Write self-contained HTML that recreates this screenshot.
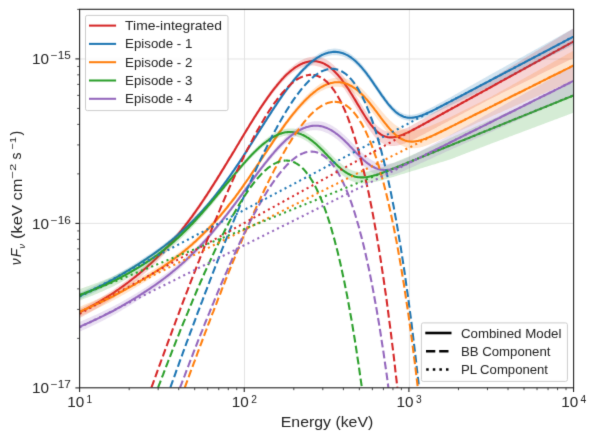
<!DOCTYPE html><html><head><meta charset="utf-8"><style>html,body{margin:0;padding:0;background:#fff}svg{display:block}text{font-family:"Liberation Sans",sans-serif;fill:#222}</style></head><body>
<svg width="595" height="440" viewBox="0 0 595 440">
<defs><filter id="soft" filterUnits="userSpaceOnUse" x="0" y="0" width="595" height="440" color-interpolation-filters="sRGB"><feConvolveMatrix order="3" kernelMatrix="0.01134 0.08382 0.01134 0.08382 0.61935 0.08382 0.01134 0.08382 0.01134" edgeMode="duplicate"/></filter><clipPath id="ax"><rect x="79.6" y="9.3" width="494.0" height="378.5"/></clipPath></defs>
<rect width="595" height="440" fill="#fff"/>
<g filter="url(#soft)">
<g stroke="#e3e3e3" stroke-width="1.0" fill="none">
<line x1="244.50" y1="9.3" x2="244.50" y2="387.8"/>
<line x1="409.40" y1="9.3" x2="409.40" y2="387.8"/>
<line x1="79.6" y1="223.40" x2="573.6" y2="223.40"/>
<line x1="79.6" y1="59.00" x2="573.6" y2="59.00"/>
</g>
<g clip-path="url(#ax)" fill="none" stroke-linejoin="round">
<path d="M79.6,309.1 80.6,308.6 81.7,308.0 82.7,307.5 83.7,306.9 84.7,306.4 85.8,305.8 86.8,305.3 87.8,304.7 88.9,304.2 89.9,303.6 90.9,303.1 91.9,302.5 93.0,302.0 94.0,301.4 95.0,300.8 96.1,300.3 97.1,299.7 98.1,299.1 99.2,298.5 100.2,297.9 101.2,297.3 102.2,296.7 103.3,296.0 104.3,295.4 105.3,294.8 106.4,294.2 107.4,293.6 108.4,292.9 109.4,292.3 110.5,291.7 111.5,291.0 112.5,290.4 113.6,289.7 114.6,289.0 115.6,288.3 116.6,287.6 117.7,286.8 118.7,286.1 119.7,285.4 120.8,284.7 121.8,283.9 122.8,283.2 123.8,282.4 124.9,281.7 125.9,280.9 126.9,280.2 128.0,279.4 129.0,278.6 130.0,277.8 131.1,277.1 132.1,276.3 133.1,275.5 134.1,274.7 135.2,273.8 136.2,273.0 137.2,272.2 138.3,271.3 139.3,270.5 140.3,269.7 141.3,268.8 142.4,267.9 143.4,267.0 144.4,266.2 145.5,265.3 146.5,264.4 147.5,263.5 148.5,262.5 149.6,261.6 150.6,260.7 151.6,259.7 152.7,258.8 153.7,257.8 154.7,256.8 155.8,255.8 156.8,254.8 157.8,253.8 158.8,252.8 159.9,251.8 160.9,250.7 161.9,249.7 163.0,248.6 164.0,247.6 165.0,246.5 166.0,245.4 167.1,244.3 168.1,243.2 169.1,242.0 170.2,240.9 171.2,239.7 172.2,238.6 173.2,237.4 174.3,236.2 175.3,235.0 176.3,233.8 177.4,232.6 178.4,231.3 179.4,230.1 180.4,228.8 181.5,227.6 182.5,226.3 183.5,225.0 184.6,223.6 185.6,222.3 186.6,221.0 187.7,219.6 188.7,218.3 189.7,216.9 190.7,215.5 191.8,214.1 192.8,212.7 193.8,211.3 194.9,209.8 195.9,208.4 196.9,206.9 197.9,205.5 199.0,204.0 200.0,202.5 201.0,201.0 202.1,199.5 203.1,198.0 204.1,196.4 205.1,194.9 206.2,193.3 207.2,191.8 208.2,190.2 209.3,188.6 210.3,187.0 211.3,185.4 212.3,183.8 213.4,182.2 214.4,180.6 215.4,179.0 216.5,177.3 217.5,175.7 218.5,174.1 219.6,172.4 220.6,170.7 221.6,169.1 222.6,167.4 223.7,165.7 224.7,164.1 225.7,162.4 226.8,160.7 227.8,159.0 228.8,157.4 229.8,155.7 230.9,154.0 231.9,152.3 232.9,150.6 234.0,148.9 235.0,147.2 236.0,145.5 237.0,143.8 238.1,142.1 239.1,140.4 240.1,138.7 241.2,136.9 242.2,135.2 243.2,133.5 244.2,131.8 245.3,130.1 246.3,128.4 247.3,126.7 248.4,124.9 249.4,123.2 250.4,121.6 251.5,119.9 252.5,118.2 253.5,116.5 254.5,114.9 255.6,113.2 256.6,111.6 257.6,110.0 258.7,108.3 259.7,106.8 260.7,105.2 261.7,103.6 262.8,102.0 263.8,100.5 264.8,99.0 265.9,97.5 266.9,96.0 267.9,94.5 268.9,93.0 270.0,91.6 271.0,90.2 272.0,88.8 273.1,87.4 274.1,86.1 275.1,84.7 276.2,83.4 277.2,82.1 278.2,80.8 279.2,79.6 280.3,78.4 281.3,77.2 282.3,76.0 283.4,74.9 284.4,73.8 285.4,72.7 286.4,71.7 287.5,70.7 288.5,69.7 289.5,68.8 290.6,67.9 291.6,67.0 292.6,66.2 293.6,65.4 294.7,64.6 295.7,63.8 296.7,63.1 297.8,62.4 298.8,61.7 299.8,61.1 300.8,60.5 301.9,60.0 302.9,59.5 303.9,59.0 305.0,58.6 306.0,58.2 307.0,57.8 308.1,57.5 309.1,57.2 310.1,57.0 311.1,56.9 312.2,56.7 313.2,56.6 314.2,56.6 315.3,56.6 316.3,56.6 317.3,56.7 318.3,56.9 319.4,57.1 320.4,57.3 321.4,57.6 322.5,58.0 323.5,58.3 324.5,58.8 325.5,59.3 326.6,59.8 327.6,60.4 328.6,61.1 329.7,61.9 330.7,62.6 331.7,63.5 332.7,64.3 333.8,65.3 334.8,66.2 335.8,67.3 336.9,68.3 337.9,69.5 338.9,70.6 340.0,71.8 341.0,73.1 342.0,74.4 343.0,75.8 344.1,77.1 345.1,78.6 346.1,80.0 347.2,81.5 348.2,83.1 349.2,84.6 350.2,86.2 351.3,87.8 352.3,89.5 353.3,91.1 354.4,92.8 355.4,94.5 356.4,96.2 357.4,97.9 358.5,99.6 359.5,101.3 360.5,102.9 361.6,104.6 362.6,106.3 363.6,107.9 364.7,109.5 365.7,111.1 366.7,112.6 367.7,114.1 368.8,115.6 369.8,117.0 370.8,118.4 371.9,119.8 372.9,121.1 373.9,122.3 374.9,123.4 376.0,124.5 377.0,125.5 378.0,126.4 379.1,127.3 380.1,128.1 381.1,128.8 382.1,129.4 383.2,129.9 384.2,130.4 385.2,130.8 386.3,131.2 387.3,131.4 388.3,131.6 389.3,131.8 390.4,131.9 391.4,131.9 392.4,131.9 393.5,131.8 394.5,131.7 395.5,131.6 396.6,131.4 397.6,131.1 398.6,130.9 399.6,130.6 400.7,130.3 401.7,129.9 402.7,129.5 403.8,129.1 404.8,128.7 405.8,128.3 406.8,127.9 407.9,127.4 408.9,127.0 409.9,126.4 411.0,125.8 412.0,125.3 413.0,124.7 414.0,124.1 415.1,123.6 416.1,123.0 417.1,122.4 418.2,121.8 419.2,121.2 420.2,120.6 421.2,120.0 422.3,119.4 423.3,118.8 424.3,118.2 425.4,117.6 426.4,117.0 427.4,116.4 428.5,115.8 429.5,115.2 430.5,114.6 431.5,113.9 432.6,113.3 433.6,112.7 434.6,112.1 435.7,111.5 436.7,110.9 437.7,110.3 438.7,109.7 439.8,109.1 440.8,108.5 441.8,107.9 442.9,107.3 443.9,106.6 444.9,106.0 445.9,105.4 447.0,104.8 448.0,104.2 449.0,103.6 450.1,103.0 451.1,102.4 452.1,101.8 453.1,101.2 454.2,100.6 455.2,100.0 456.2,99.3 457.3,98.7 458.3,98.1 459.3,97.5 460.4,96.9 461.4,96.3 462.4,95.7 463.4,95.1 464.5,94.5 465.5,93.9 466.5,93.3 467.6,92.7 468.6,92.0 469.6,91.4 470.6,90.8 471.7,90.2 472.7,89.6 473.7,89.0 474.8,88.4 475.8,87.8 476.8,87.2 477.8,86.6 478.9,86.0 479.9,85.4 480.9,84.7 482.0,84.1 483.0,83.5 484.0,82.9 485.1,82.3 486.1,81.7 487.1,81.1 488.1,80.5 489.2,79.9 490.2,79.3 491.2,78.7 492.3,78.0 493.3,77.4 494.3,76.8 495.3,76.1 496.4,75.5 497.4,74.9 498.4,74.3 499.5,73.6 500.5,73.0 501.5,72.4 502.5,71.7 503.6,71.1 504.6,70.5 505.6,69.9 506.7,69.2 507.7,68.6 508.7,68.0 509.7,67.3 510.8,66.7 511.8,66.1 512.8,65.4 513.9,64.8 514.9,64.2 515.9,63.6 517.0,62.9 518.0,62.3 519.0,61.7 520.0,61.0 521.1,60.4 522.1,59.8 523.1,59.2 524.2,58.5 525.2,57.9 526.2,57.3 527.2,56.6 528.3,56.0 529.3,55.4 530.3,54.8 531.4,54.1 532.4,53.5 533.4,52.9 534.4,52.2 535.5,51.6 536.5,51.0 537.5,50.4 538.6,49.7 539.6,49.1 540.6,48.5 541.6,47.8 542.7,47.2 543.7,46.6 544.7,46.0 545.8,45.3 546.8,44.7 547.8,44.1 548.9,43.4 549.9,42.8 550.9,42.2 551.9,41.5 553.0,40.9 554.0,40.3 555.0,39.7 556.1,39.0 557.1,38.4 558.1,37.8 559.1,37.1 560.2,36.5 561.2,35.9 562.2,35.3 563.3,34.6 564.3,34.0 565.3,33.4 566.3,32.7 567.4,32.1 568.4,31.5 569.4,30.9 570.5,30.2 571.5,29.6 572.5,29.0 573.6,28.3 573.6,58.0 572.5,58.5 571.5,59.0 570.5,59.5 569.4,60.0 568.4,60.5 567.4,61.0 566.3,61.5 565.3,62.0 564.3,62.5 563.3,63.0 562.2,63.5 561.2,64.0 560.2,64.5 559.1,65.0 558.1,65.5 557.1,66.0 556.1,66.5 555.0,67.1 554.0,67.6 553.0,68.1 551.9,68.6 550.9,69.1 549.9,69.6 548.9,70.1 547.8,70.6 546.8,71.1 545.8,71.6 544.7,72.1 543.7,72.6 542.7,73.1 541.6,73.6 540.6,74.1 539.6,74.6 538.6,75.1 537.5,75.6 536.5,76.2 535.5,76.7 534.4,77.2 533.4,77.7 532.4,78.2 531.4,78.7 530.3,79.2 529.3,79.7 528.3,80.2 527.2,80.7 526.2,81.2 525.2,81.7 524.2,82.2 523.1,82.7 522.1,83.2 521.1,83.7 520.0,84.2 519.0,84.7 518.0,85.3 517.0,85.8 515.9,86.3 514.9,86.8 513.9,87.3 512.8,87.8 511.8,88.3 510.8,88.8 509.7,89.3 508.7,89.8 507.7,90.3 506.7,90.8 505.6,91.3 504.6,91.8 503.6,92.3 502.5,92.8 501.5,93.3 500.5,93.8 499.5,94.4 498.4,94.9 497.4,95.4 496.4,95.9 495.3,96.4 494.3,96.9 493.3,97.4 492.3,97.9 491.2,98.4 490.2,98.9 489.2,99.5 488.1,100.0 487.1,100.6 486.1,101.1 485.1,101.7 484.0,102.2 483.0,102.8 482.0,103.3 480.9,103.9 479.9,104.4 478.9,105.0 477.8,105.5 476.8,106.1 475.8,106.6 474.8,107.1 473.7,107.7 472.7,108.2 471.7,108.8 470.6,109.3 469.6,109.9 468.6,110.4 467.6,111.0 466.5,111.5 465.5,112.1 464.5,112.6 463.4,113.2 462.4,113.7 461.4,114.3 460.4,114.8 459.3,115.3 458.3,115.9 457.3,116.4 456.2,117.0 455.2,117.5 454.2,118.1 453.1,118.6 452.1,119.2 451.1,119.7 450.1,120.3 449.0,120.8 448.0,121.4 447.0,121.9 445.9,122.5 444.9,123.0 443.9,123.5 442.9,124.1 441.8,124.6 440.8,125.2 439.8,125.7 438.7,126.3 437.7,126.8 436.7,127.4 435.7,127.9 434.6,128.5 433.6,129.0 432.6,129.6 431.5,130.1 430.5,130.7 429.5,131.2 428.5,131.7 427.4,132.3 426.4,132.8 425.4,133.4 424.3,133.9 423.3,134.5 422.3,135.0 421.2,135.5 420.2,136.1 419.2,136.6 418.2,137.1 417.1,137.7 416.1,138.2 415.1,138.7 414.0,139.2 413.0,139.8 412.0,140.3 411.0,140.8 409.9,141.3 408.9,141.8 407.9,142.2 406.8,142.6 405.8,143.0 404.8,143.4 403.8,143.7 402.7,144.1 401.7,144.4 400.7,144.7 399.6,145.0 398.6,145.3 397.6,145.5 396.6,145.7 395.5,145.8 394.5,145.9 393.5,146.0 392.4,146.0 391.4,146.0 390.4,145.9 389.3,145.8 388.3,145.6 387.3,145.4 386.3,145.1 385.2,144.7 384.2,144.2 383.2,143.7 382.1,143.1 381.1,142.4 380.1,141.7 379.1,140.9 378.0,140.0 377.0,139.0 376.0,138.0 374.9,136.9 373.9,135.7 372.9,134.4 371.9,133.1 370.8,131.7 369.8,130.3 368.8,128.8 367.7,127.3 366.7,125.7 365.7,124.1 364.7,122.5 363.6,120.8 362.6,119.1 361.6,117.4 360.5,115.6 359.5,113.9 358.5,112.1 357.4,110.4 356.4,108.6 355.4,106.8 354.4,105.1 353.3,103.4 352.3,101.6 351.3,99.9 350.2,98.2 349.2,96.6 348.2,95.0 347.2,93.4 346.1,91.8 345.1,90.3 344.1,88.8 343.0,87.3 342.0,85.9 341.0,84.6 340.0,83.2 338.9,81.9 337.9,80.7 336.9,79.5 335.8,78.4 334.8,77.3 333.8,76.3 332.7,75.3 331.7,74.3 330.7,73.4 329.7,72.6 328.6,71.8 327.6,71.0 326.6,70.3 325.5,69.7 324.5,69.1 323.5,68.5 322.5,68.0 321.4,67.5 320.4,67.1 319.4,66.8 318.3,66.4 317.3,66.2 316.3,65.9 315.3,65.8 314.2,65.6 313.2,65.6 312.2,65.5 311.1,65.5 310.1,65.6 309.1,65.7 308.1,65.8 307.0,66.0 306.0,66.2 305.0,66.5 303.9,66.8 302.9,67.1 301.9,67.5 300.8,68.0 299.8,68.4 298.8,68.9 297.8,69.5 296.7,70.0 295.7,70.6 294.7,71.3 293.6,72.0 292.6,72.7 291.6,73.5 290.6,74.3 289.5,75.2 288.5,76.1 287.5,77.0 286.4,77.9 285.4,78.9 284.4,79.9 283.4,81.0 282.3,82.1 281.3,83.2 280.3,84.3 279.2,85.5 278.2,86.7 277.2,87.9 276.2,89.2 275.1,90.4 274.1,91.7 273.1,93.0 272.0,94.4 271.0,95.7 270.0,97.1 268.9,98.5 267.9,99.9 266.9,101.3 265.9,102.8 264.8,104.2 263.8,105.7 262.8,107.2 261.7,108.7 260.7,110.2 259.7,111.7 258.7,113.3 257.6,114.9 256.6,116.4 255.6,118.0 254.5,119.6 253.5,121.2 252.5,122.8 251.5,124.5 250.4,126.1 249.4,127.8 248.4,129.4 247.3,131.1 246.3,132.7 245.3,134.4 244.2,136.1 243.2,137.8 242.2,139.6 241.2,141.3 240.1,143.1 239.1,144.8 238.1,146.6 237.0,148.3 236.0,150.1 235.0,151.8 234.0,153.5 232.9,155.3 231.9,157.0 230.9,158.7 229.8,160.4 228.8,162.2 227.8,163.9 226.8,165.6 225.7,167.3 224.7,169.0 223.7,170.7 222.6,172.4 221.6,174.1 220.6,175.8 219.6,177.5 218.5,179.2 217.5,180.9 216.5,182.6 215.4,184.2 214.4,185.9 213.4,187.5 212.3,189.2 211.3,190.8 210.3,192.5 209.3,194.1 208.2,195.7 207.2,197.3 206.2,198.9 205.1,200.5 204.1,202.1 203.1,203.6 202.1,205.2 201.0,206.7 200.0,208.3 199.0,209.8 197.9,211.3 196.9,212.8 195.9,214.3 194.9,215.8 193.8,217.3 192.8,218.7 191.8,220.2 190.7,221.6 189.7,223.0 188.7,224.4 187.7,225.8 186.6,227.2 185.6,228.6 184.6,230.0 183.5,231.3 182.5,232.6 181.5,234.0 180.4,235.3 179.4,236.6 178.4,237.9 177.4,239.1 176.3,240.4 175.3,241.6 174.3,242.9 173.2,244.1 172.2,245.3 171.2,246.5 170.2,247.7 169.1,248.9 168.1,250.0 167.1,251.2 166.0,252.3 165.0,253.4 164.0,254.6 163.0,255.7 161.9,256.8 160.9,257.8 159.9,258.9 158.8,259.9 157.8,261.0 156.8,262.0 155.8,263.1 154.7,264.1 153.7,265.1 152.7,266.1 151.6,267.0 150.6,268.0 149.6,269.0 148.5,269.9 147.5,270.9 146.5,271.8 145.5,272.7 144.4,273.7 143.4,274.6 142.4,275.5 141.3,276.4 140.3,277.2 139.3,278.1 138.3,279.0 137.2,279.9 136.2,280.7 135.2,281.6 134.1,282.4 133.1,283.2 132.1,284.0 131.1,284.9 130.0,285.7 129.0,286.5 128.0,287.3 126.9,288.1 125.9,288.9 124.9,289.6 123.8,290.4 122.8,291.2 121.8,292.0 120.8,292.7 119.7,293.5 118.7,294.2 117.7,295.0 116.6,295.7 115.6,296.5 114.6,297.2 113.6,297.9 112.5,298.6 111.5,299.3 110.5,300.0 109.4,300.6 108.4,301.3 107.4,301.9 106.4,302.6 105.3,303.2 104.3,303.9 103.3,304.5 102.2,305.2 101.2,305.8 100.2,306.4 99.2,307.1 98.1,307.7 97.1,308.3 96.1,308.9 95.0,309.5 94.0,310.1 93.0,310.7 91.9,311.3 90.9,311.9 89.9,312.4 88.9,313.0 87.8,313.6 86.8,314.2 85.8,314.7 84.7,315.3 83.7,315.9 82.7,316.4 81.7,317.0 80.6,317.6 79.6,318.1 Z" fill="#d62728" fill-opacity="0.2" stroke="none"/>
<path d="M79.6,312.4 80.6,311.8 81.7,311.3 82.7,310.8 83.7,310.2 84.7,309.7 85.8,309.1 86.8,308.6 87.8,308.0 88.9,307.4 89.9,306.9 90.9,306.3 91.9,305.8 93.0,305.2 94.0,304.6 95.0,304.1 96.1,303.5 97.1,302.9 98.1,302.3 99.2,301.7 100.2,301.1 101.2,300.5 102.2,299.9 103.3,299.2 104.3,298.6 105.3,298.0 106.4,297.4 107.4,296.7 108.4,296.1 109.4,295.5 110.5,294.8 111.5,294.2 112.5,293.5 113.6,292.8 114.6,292.1 115.6,291.4 116.6,290.7 117.7,290.0 118.7,289.3 119.7,288.5 120.8,287.8 121.8,287.0 122.8,286.3 123.8,285.6 124.9,284.8 125.9,284.0 126.9,283.3 128.0,282.5 129.0,281.7 130.0,280.9 131.1,280.1 132.1,279.3 133.1,278.5 134.1,277.7 135.2,276.9 136.2,276.1 137.2,275.2 138.3,274.4 139.3,273.6 140.3,272.7 141.3,271.8 142.4,271.0 143.4,270.1 144.4,269.2 145.5,268.3 146.5,267.4 147.5,266.5 148.5,265.6 149.6,264.6 150.6,263.7 151.6,262.7 152.7,261.8 153.7,260.8 154.7,259.8 155.8,258.8 156.8,257.8 157.8,256.8 158.8,255.8 159.9,254.7 160.9,253.7 161.9,252.6 163.0,251.6 164.0,250.5 165.0,249.4 166.0,248.3 167.1,247.2 168.1,246.1 169.1,244.9 170.2,243.8 171.2,242.6 172.2,241.4 173.2,240.3 174.3,239.1 175.3,237.8 176.3,236.6 177.4,235.4 178.4,234.1 179.4,232.9 180.4,231.6 181.5,230.3 182.5,229.0 183.5,227.7 184.6,226.4 185.6,225.0 186.6,223.7 187.7,222.3 188.7,221.0 189.7,219.6 190.7,218.2 191.8,216.8 192.8,215.4 193.8,213.9 194.9,212.5 195.9,211.0 196.9,209.5 197.9,208.1 199.0,206.6 200.0,205.1 201.0,203.6 202.1,202.0 203.1,200.5 204.1,199.0 205.1,197.4 206.2,195.8 207.2,194.3 208.2,192.7 209.3,191.1 210.3,189.5 211.3,187.9 212.3,186.3 213.4,184.7 214.4,183.0 215.4,181.4 216.5,179.8 217.5,178.1 218.5,176.4 219.6,174.8 220.6,173.1 221.6,171.4 222.6,169.8 223.7,168.1 224.7,166.4 225.7,164.7 226.8,163.0 227.8,161.3 228.8,159.6 229.8,157.9 230.9,156.3 231.9,154.6 232.9,152.9 234.0,151.2 235.0,149.5 236.0,147.8 237.0,146.0 238.1,144.3 239.1,142.6 240.1,140.8 241.2,139.1 242.2,137.4 243.2,135.7 244.2,134.0 245.3,132.3 246.3,130.6 247.3,128.9 248.4,127.2 249.4,125.5 250.4,123.8 251.5,122.2 252.5,120.5 253.5,118.9 254.5,117.2 255.6,115.6 256.6,114.0 257.6,112.4 258.7,110.8 259.7,109.2 260.7,107.7 261.7,106.1 262.8,104.6 263.8,103.1 264.8,101.6 265.9,100.1 266.9,98.6 267.9,97.2 268.9,95.8 270.0,94.3 271.0,92.9 272.0,91.6 273.1,90.2 274.1,88.9 275.1,87.6 276.2,86.3 277.2,85.0 278.2,83.8 279.2,82.6 280.3,81.4 281.3,80.2 282.3,79.0 283.4,77.9 284.4,76.8 285.4,75.8 286.4,74.8 287.5,73.8 288.5,72.9 289.5,72.0 290.6,71.1 291.6,70.3 292.6,69.5 293.6,68.7 294.7,67.9 295.7,67.2 296.7,66.6 297.8,65.9 298.8,65.3 299.8,64.8 300.8,64.2 301.9,63.8 302.9,63.3 303.9,62.9 305.0,62.5 306.0,62.2 307.0,61.9 308.1,61.7 309.1,61.5 310.1,61.3 311.1,61.2 312.2,61.1 313.2,61.1 314.2,61.1 315.3,61.2 316.3,61.3 317.3,61.5 318.3,61.7 319.4,61.9 320.4,62.2 321.4,62.6 322.5,63.0 323.5,63.4 324.5,63.9 325.5,64.5 326.6,65.1 327.6,65.7 328.6,66.4 329.7,67.2 330.7,68.0 331.7,68.8 332.7,69.7 333.8,70.7 334.8,71.7 335.8,72.8 336.9,73.9 337.9,75.0 338.9,76.2 340.0,77.4 341.0,78.7 342.0,80.0 343.0,81.4 344.1,82.8 345.1,84.3 346.1,85.8 347.2,87.3 348.2,88.8 349.2,90.4 350.2,92.0 351.3,93.7 352.3,95.3 353.3,97.0 354.4,98.7 355.4,100.4 356.4,102.1 357.4,103.9 358.5,105.6 359.5,107.3 360.5,109.0 361.6,110.7 362.6,112.4 363.6,114.0 364.7,115.7 365.7,117.3 366.7,118.8 367.7,120.3 368.8,121.8 369.8,123.2 370.8,124.6 371.9,125.9 372.9,127.2 373.9,128.3 374.9,129.4 376.0,130.5 377.0,131.5 378.0,132.3 379.1,133.2 380.1,133.9 381.1,134.6 382.1,135.2 383.2,135.7 384.2,136.1 385.2,136.5 386.3,136.8 387.3,137.1 388.3,137.2 389.3,137.4 390.4,137.4 391.4,137.4 392.4,137.4 393.5,137.3 394.5,137.1 395.5,136.9 396.6,136.7 397.6,136.4 398.6,136.1 399.6,135.8 400.7,135.4 401.7,135.1 402.7,134.7 403.8,134.2 404.8,133.8 405.8,133.3 406.8,132.9 407.9,132.4 408.9,131.9 409.9,131.4 411.0,130.9 412.0,130.3 413.0,129.8 414.0,129.3 415.1,128.7 416.1,128.2 417.1,127.6 418.2,127.1 419.2,126.5 420.2,126.0 421.2,125.4 422.3,124.9 423.3,124.3 424.3,123.7 425.4,123.2 426.4,122.6 427.4,122.0 428.5,121.5 429.5,120.9 430.5,120.3 431.5,119.8 432.6,119.2 433.6,118.6 434.6,118.1 435.7,117.5 436.7,116.9 437.7,116.4 438.7,115.8 439.8,115.2 440.8,114.7 441.8,114.1 442.9,113.5 443.9,113.0 444.9,112.4 445.9,111.8 447.0,111.3 448.0,110.7 449.0,110.1 450.1,109.6 451.1,109.0 452.1,108.4 453.1,107.9 454.2,107.3 455.2,106.7 456.2,106.2 457.3,105.6 458.3,105.0 459.3,104.5 460.4,103.9 461.4,103.3 462.4,102.8 463.4,102.2 464.5,101.6 465.5,101.1 466.5,100.5 467.6,99.9 468.6,99.4 469.6,98.8 470.6,98.2 471.7,97.7 472.7,97.1 473.7,96.5 474.8,96.0 475.8,95.4 476.8,94.8 477.8,94.3 478.9,93.7 479.9,93.1 480.9,92.6 482.0,92.0 483.0,91.4 484.0,90.9 485.1,90.3 486.1,89.7 487.1,89.2 488.1,88.6 489.2,88.0 490.2,87.5 491.2,86.9 492.3,86.3 493.3,85.7 494.3,85.2 495.3,84.6 496.4,84.0 497.4,83.5 498.4,82.9 499.5,82.3 500.5,81.8 501.5,81.2 502.5,80.6 503.6,80.1 504.6,79.5 505.6,78.9 506.7,78.4 507.7,77.8 508.7,77.2 509.7,76.7 510.8,76.1 511.8,75.5 512.8,75.0 513.9,74.4 514.9,73.8 515.9,73.3 517.0,72.7 518.0,72.1 519.0,71.6 520.0,71.0 521.1,70.4 522.1,69.9 523.1,69.3 524.2,68.7 525.2,68.2 526.2,67.6 527.2,67.0 528.3,66.5 529.3,65.9 530.3,65.3 531.4,64.8 532.4,64.2 533.4,63.6 534.4,63.1 535.5,62.5 536.5,61.9 537.5,61.4 538.6,60.8 539.6,60.2 540.6,59.7 541.6,59.1 542.7,58.5 543.7,58.0 544.7,57.4 545.8,56.8 546.8,56.2 547.8,55.7 548.9,55.1 549.9,54.5 550.9,54.0 551.9,53.4 553.0,52.8 554.0,52.3 555.0,51.7 556.1,51.1 557.1,50.6 558.1,50.0 559.1,49.4 560.2,48.9 561.2,48.3 562.2,47.7 563.3,47.2 564.3,46.6 565.3,46.0 566.3,45.5 567.4,44.9 568.4,44.3 569.4,43.8 570.5,43.2 571.5,42.6 572.5,42.1 573.6,41.5" stroke="#d62728" stroke-width="2.08"/>
<path d="M79.6,292.8 80.6,292.3 81.7,291.8 82.7,291.4 83.7,290.9 84.7,290.4 85.8,289.9 86.8,289.5 87.8,289.0 88.9,288.5 89.9,288.0 90.9,287.5 91.9,287.1 93.0,286.6 94.0,286.1 95.0,285.6 96.1,285.1 97.1,284.6 98.1,284.1 99.2,283.6 100.2,283.1 101.2,282.5 102.2,282.0 103.3,281.5 104.3,281.0 105.3,280.5 106.4,279.9 107.4,279.4 108.4,278.9 109.4,278.4 110.5,277.8 111.5,277.3 112.5,276.8 113.6,276.2 114.6,275.6 115.6,275.0 116.6,274.4 117.7,273.8 118.7,273.2 119.7,272.6 120.8,272.0 121.8,271.4 122.8,270.8 123.8,270.2 124.9,269.6 125.9,269.0 126.9,268.4 128.0,267.8 129.0,267.2 130.0,266.5 131.1,265.9 132.1,265.3 133.1,264.7 134.1,264.0 135.2,263.4 136.2,262.7 137.2,262.1 138.3,261.5 139.3,260.8 140.3,260.2 141.3,259.5 142.4,258.8 143.4,258.2 144.4,257.5 145.5,256.8 146.5,256.1 147.5,255.5 148.5,254.8 149.6,254.1 150.6,253.4 151.6,252.7 152.7,252.0 153.7,251.3 154.7,250.5 155.8,249.8 156.8,249.1 157.8,248.4 158.8,247.6 159.9,246.9 160.9,246.1 161.9,245.4 163.0,244.6 164.0,243.8 165.0,243.0 166.0,242.2 167.1,241.4 168.1,240.6 169.1,239.8 170.2,239.0 171.2,238.2 172.2,237.3 173.2,236.5 174.3,235.6 175.3,234.8 176.3,233.9 177.4,233.0 178.4,232.1 179.4,231.2 180.4,230.3 181.5,229.4 182.5,228.5 183.5,227.5 184.6,226.6 185.6,225.6 186.6,224.7 187.7,223.7 188.7,222.7 189.7,221.7 190.7,220.7 191.8,219.7 192.8,218.7 193.8,217.6 194.9,216.6 195.9,215.5 196.9,214.5 197.9,213.4 199.0,212.3 200.0,211.2 201.0,210.0 202.1,208.9 203.1,207.8 204.1,206.6 205.1,205.5 206.2,204.3 207.2,203.1 208.2,201.9 209.3,200.7 210.3,199.5 211.3,198.2 212.3,197.0 213.4,195.7 214.4,194.4 215.4,193.2 216.5,191.9 217.5,190.6 218.5,189.2 219.6,187.9 220.6,186.6 221.6,185.2 222.6,183.8 223.7,182.5 224.7,181.1 225.7,179.7 226.8,178.3 227.8,176.9 228.8,175.4 229.8,174.0 230.9,172.6 231.9,171.1 232.9,169.7 234.0,168.2 235.0,166.7 236.0,165.2 237.0,163.7 238.1,162.1 239.1,160.6 240.1,159.0 241.2,157.4 242.2,155.9 243.2,154.3 244.2,152.7 245.3,151.1 246.3,149.5 247.3,147.9 248.4,146.2 249.4,144.6 250.4,143.0 251.5,141.4 252.5,139.7 253.5,138.1 254.5,136.4 255.6,134.8 256.6,133.2 257.6,131.5 258.7,129.9 259.7,128.2 260.7,126.6 261.7,125.0 262.8,123.3 263.8,121.7 264.8,120.1 265.9,118.4 266.9,116.8 267.9,115.2 268.9,113.6 270.0,112.0 271.0,110.4 272.0,108.8 273.1,107.2 274.1,105.6 275.1,104.0 276.2,102.5 277.2,100.9 278.2,99.4 279.2,97.8 280.3,96.3 281.3,94.8 282.3,93.3 283.4,91.8 284.4,90.3 285.4,88.9 286.4,87.5 287.5,86.1 288.5,84.7 289.5,83.3 290.6,82.0 291.6,80.7 292.6,79.4 293.6,78.1 294.7,76.8 295.7,75.5 296.7,74.3 297.8,73.1 298.8,71.9 299.8,70.7 300.8,69.5 301.9,68.4 302.9,67.3 303.9,66.2 305.0,65.1 306.0,64.1 307.0,63.1 308.1,62.1 309.1,61.2 310.1,60.3 311.1,59.4 312.2,58.5 313.2,57.7 314.2,56.9 315.3,56.1 316.3,55.4 317.3,54.7 318.3,54.0 319.4,53.3 320.4,52.7 321.4,52.2 322.5,51.7 323.5,51.2 324.5,50.7 325.5,50.3 326.6,49.9 327.6,49.6 328.6,49.3 329.7,49.1 330.7,48.9 331.7,48.8 332.7,48.7 333.8,48.6 334.8,48.6 335.8,48.6 336.9,48.7 337.9,48.8 338.9,48.9 340.0,49.1 341.0,49.4 342.0,49.7 343.0,50.0 344.1,50.4 345.1,50.8 346.1,51.3 347.2,51.9 348.2,52.4 349.2,53.1 350.2,53.7 351.3,54.4 352.3,55.2 353.3,56.0 354.4,56.9 355.4,57.8 356.4,58.7 357.4,59.7 358.5,60.7 359.5,61.8 360.5,62.9 361.6,64.1 362.6,65.3 363.6,66.5 364.7,67.8 365.7,69.1 366.7,70.4 367.7,71.8 368.8,73.2 369.8,74.6 370.8,76.1 371.9,77.5 372.9,79.0 373.9,80.5 374.9,82.0 376.0,83.5 377.0,85.1 378.0,86.6 379.1,88.1 380.1,89.6 381.1,91.1 382.1,92.6 383.2,94.1 384.2,95.5 385.2,96.9 386.3,98.3 387.3,99.6 388.3,100.9 389.3,102.2 390.4,103.4 391.4,104.6 392.4,105.7 393.5,106.7 394.5,107.7 395.5,108.6 396.6,109.5 397.6,110.3 398.6,111.0 399.6,111.7 400.7,112.3 401.7,112.8 402.7,113.3 403.8,113.7 404.8,114.0 405.8,114.3 406.8,114.5 407.9,114.7 408.9,114.8 409.9,114.8 411.0,114.8 412.0,114.7 413.0,114.6 414.0,114.4 415.1,114.2 416.1,113.9 417.1,113.7 418.2,113.4 419.2,113.0 420.2,112.7 421.2,112.3 422.3,111.9 423.3,111.4 424.3,111.0 425.4,110.5 426.4,110.1 427.4,109.6 428.5,109.1 429.5,108.6 430.5,108.0 431.5,107.5 432.6,107.0 433.6,106.4 434.6,105.9 435.7,105.4 436.7,104.8 437.7,104.3 438.7,103.7 439.8,103.1 440.8,102.6 441.8,102.0 442.9,101.5 443.9,100.9 444.9,100.3 445.9,99.8 447.0,99.2 448.0,98.6 449.0,98.1 450.1,97.5 451.1,96.9 452.1,96.3 453.1,95.7 454.2,95.2 455.2,94.6 456.2,94.0 457.3,93.4 458.3,92.8 459.3,92.2 460.4,91.7 461.4,91.1 462.4,90.5 463.4,89.9 464.5,89.3 465.5,88.7 466.5,88.2 467.6,87.6 468.6,87.0 469.6,86.4 470.6,85.8 471.7,85.2 472.7,84.7 473.7,84.1 474.8,83.5 475.8,82.9 476.8,82.3 477.8,81.8 478.9,81.2 479.9,80.6 480.9,80.0 482.0,79.4 483.0,78.8 484.0,78.3 485.1,77.7 486.1,77.1 487.1,76.5 488.1,75.9 489.2,75.3 490.2,74.8 491.2,74.2 492.3,73.6 493.3,73.0 494.3,72.5 495.3,71.9 496.4,71.3 497.4,70.7 498.4,70.2 499.5,69.6 500.5,69.0 501.5,68.5 502.5,67.9 503.6,67.3 504.6,66.7 505.6,66.2 506.7,65.6 507.7,65.0 508.7,64.4 509.7,63.9 510.8,63.3 511.8,62.7 512.8,62.2 513.9,61.6 514.9,61.0 515.9,60.4 517.0,59.9 518.0,59.3 519.0,58.7 520.0,58.1 521.1,57.6 522.1,57.0 523.1,56.4 524.2,55.9 525.2,55.3 526.2,54.7 527.2,54.1 528.3,53.6 529.3,53.0 530.3,52.4 531.4,51.8 532.4,51.3 533.4,50.7 534.4,50.1 535.5,49.6 536.5,49.0 537.5,48.4 538.6,47.8 539.6,47.3 540.6,46.7 541.6,46.1 542.7,45.6 543.7,45.0 544.7,44.4 545.8,43.8 546.8,43.3 547.8,42.7 548.9,42.1 549.9,41.5 550.9,41.0 551.9,40.4 553.0,39.8 554.0,39.3 555.0,38.7 556.1,38.1 557.1,37.5 558.1,37.0 559.1,36.4 560.2,35.8 561.2,35.2 562.2,34.7 563.3,34.1 564.3,33.5 565.3,33.0 566.3,32.4 567.4,31.8 568.4,31.2 569.4,30.7 570.5,30.1 571.5,29.5 572.5,28.9 573.6,28.4 573.6,44.8 572.5,45.3 571.5,45.8 570.5,46.4 569.4,46.9 568.4,47.4 567.4,47.9 566.3,48.4 565.3,48.9 564.3,49.4 563.3,49.9 562.2,50.4 561.2,51.0 560.2,51.5 559.1,52.0 558.1,52.5 557.1,53.0 556.1,53.5 555.0,54.0 554.0,54.5 553.0,55.0 551.9,55.6 550.9,56.1 549.9,56.6 548.9,57.1 547.8,57.6 546.8,58.1 545.8,58.6 544.7,59.1 543.7,59.6 542.7,60.1 541.6,60.7 540.6,61.2 539.6,61.7 538.6,62.2 537.5,62.7 536.5,63.2 535.5,63.7 534.4,64.2 533.4,64.7 532.4,65.3 531.4,65.8 530.3,66.3 529.3,66.8 528.3,67.3 527.2,67.8 526.2,68.3 525.2,68.8 524.2,69.3 523.1,69.9 522.1,70.4 521.1,70.9 520.0,71.4 519.0,71.9 518.0,72.4 517.0,72.9 515.9,73.4 514.9,73.9 513.9,74.5 512.8,75.0 511.8,75.5 510.8,76.0 509.7,76.5 508.7,77.0 507.7,77.5 506.7,78.0 505.6,78.5 504.6,79.1 503.6,79.6 502.5,80.1 501.5,80.6 500.5,81.1 499.5,81.6 498.4,82.1 497.4,82.6 496.4,83.1 495.3,83.6 494.3,84.2 493.3,84.7 492.3,85.2 491.2,85.7 490.2,86.2 489.2,86.7 488.1,87.2 487.1,87.7 486.1,88.2 485.1,88.7 484.0,89.2 483.0,89.7 482.0,90.2 480.9,90.7 479.9,91.2 478.9,91.7 477.8,92.2 476.8,92.7 475.8,93.2 474.8,93.7 473.7,94.2 472.7,94.7 471.7,95.2 470.6,95.7 469.6,96.2 468.6,96.7 467.6,97.2 466.5,97.7 465.5,98.2 464.5,98.7 463.4,99.2 462.4,99.7 461.4,100.2 460.4,100.7 459.3,101.2 458.3,101.7 457.3,102.2 456.2,102.7 455.2,103.2 454.2,103.7 453.1,104.2 452.1,104.7 451.1,105.2 450.1,105.7 449.0,106.2 448.0,106.7 447.0,107.2 445.9,107.7 444.9,108.3 443.9,108.8 442.9,109.3 441.8,109.8 440.8,110.3 439.8,110.8 438.7,111.3 437.7,111.8 436.7,112.3 435.7,112.8 434.6,113.3 433.6,113.8 432.6,114.2 431.5,114.7 430.5,115.2 429.5,115.6 428.5,116.1 427.4,116.5 426.4,117.0 425.4,117.4 424.3,117.8 423.3,118.2 422.3,118.5 421.2,118.9 420.2,119.2 419.2,119.5 418.2,119.8 417.1,120.0 416.1,120.3 415.1,120.5 414.0,120.6 413.0,120.7 412.0,120.8 411.0,120.8 409.9,120.8 408.9,120.7 407.9,120.6 406.8,120.5 405.8,120.3 404.8,120.0 403.8,119.7 402.7,119.3 401.7,118.9 400.7,118.3 399.6,117.8 398.6,117.1 397.6,116.4 396.6,115.6 395.5,114.8 394.5,113.9 393.5,112.9 392.4,111.9 391.4,110.8 390.4,109.6 389.3,108.4 388.3,107.2 387.3,105.9 386.3,104.6 385.2,103.2 384.2,101.8 383.2,100.4 382.1,99.0 381.1,97.5 380.1,96.0 379.1,94.5 378.0,93.0 377.0,91.5 376.0,90.0 374.9,88.5 373.9,87.0 372.9,85.5 371.9,84.0 370.8,82.6 369.8,81.2 368.8,79.7 367.7,78.4 366.7,77.0 365.7,75.7 364.7,74.4 363.6,73.1 362.6,71.9 361.6,70.7 360.5,69.5 359.5,68.4 358.5,67.3 357.4,66.3 356.4,65.3 355.4,64.3 354.4,63.4 353.3,62.6 352.3,61.8 351.3,61.0 350.2,60.3 349.2,59.6 348.2,59.0 347.2,58.4 346.1,57.9 345.1,57.4 344.1,57.0 343.0,56.6 342.0,56.3 341.0,56.0 340.0,55.7 338.9,55.5 337.9,55.4 336.9,55.2 335.8,55.2 334.8,55.2 333.8,55.2 332.7,55.2 331.7,55.3 330.7,55.5 329.7,55.7 328.6,55.9 327.6,56.2 326.6,56.5 325.5,56.8 324.5,57.2 323.5,57.6 322.5,58.0 321.4,58.5 320.4,59.0 319.4,59.6 318.3,60.2 317.3,60.8 316.3,61.4 315.3,62.1 314.2,62.8 313.2,63.6 312.2,64.4 311.1,65.2 310.1,66.0 309.1,66.9 308.1,67.8 307.0,68.7 306.0,69.7 305.0,70.6 303.9,71.6 302.9,72.7 301.9,73.7 300.8,74.8 299.8,75.9 298.8,77.1 297.8,78.2 296.7,79.4 295.7,80.6 294.7,81.8 293.6,83.0 292.6,84.3 291.6,85.6 290.6,86.9 289.5,88.2 288.5,89.5 287.5,90.9 286.4,92.3 285.4,93.6 284.4,95.1 283.4,96.5 282.3,98.0 281.3,99.5 280.3,101.0 279.2,102.5 278.2,104.0 277.2,105.5 276.2,107.1 275.1,108.6 274.1,110.1 273.1,111.7 272.0,113.3 271.0,114.9 270.0,116.4 268.9,118.0 267.9,119.6 266.9,121.2 265.9,122.8 264.8,124.4 263.8,126.0 262.8,127.6 261.7,129.3 260.7,130.9 259.7,132.5 258.7,134.1 257.6,135.7 256.6,137.4 255.6,139.0 254.5,140.6 253.5,142.2 252.5,143.8 251.5,145.4 250.4,147.1 249.4,148.7 248.4,150.3 247.3,151.9 246.3,153.5 245.3,155.1 244.2,156.6 243.2,158.2 242.2,159.8 241.2,161.4 240.1,163.0 239.1,164.6 238.1,166.1 237.0,167.7 236.0,169.3 235.0,170.8 234.0,172.3 232.9,173.7 231.9,175.2 230.9,176.7 229.8,178.1 228.8,179.6 227.8,181.0 226.8,182.4 225.7,183.9 224.7,185.3 223.7,186.7 222.6,188.1 221.6,189.4 220.6,190.8 219.6,192.1 218.5,193.5 217.5,194.8 216.5,196.1 215.4,197.4 214.4,198.7 213.4,200.0 212.3,201.3 211.3,202.6 210.3,203.8 209.3,205.0 208.2,206.3 207.2,207.5 206.2,208.7 205.1,209.9 204.1,211.1 203.1,212.2 202.1,213.4 201.0,214.5 200.0,215.6 199.0,216.8 197.9,217.9 196.9,219.0 195.9,220.1 194.9,221.1 193.8,222.2 192.8,223.2 191.8,224.3 190.7,225.3 189.7,226.3 188.7,227.3 187.7,228.3 186.6,229.3 185.6,230.3 184.6,231.3 183.5,232.2 182.5,233.2 181.5,234.1 180.4,235.0 179.4,236.0 178.4,236.9 177.4,237.8 176.3,238.7 175.3,239.5 174.3,240.4 173.2,241.3 172.2,242.1 171.2,243.0 170.2,243.8 169.1,244.7 168.1,245.5 167.1,246.3 166.0,247.1 165.0,247.9 164.0,248.7 163.0,249.5 161.9,250.3 160.9,251.1 159.9,251.8 158.8,252.6 157.8,253.4 156.8,254.1 155.8,254.9 154.7,255.6 153.7,256.4 152.7,257.1 151.6,257.8 150.6,258.5 149.6,259.3 148.5,260.0 147.5,260.7 146.5,261.4 145.5,262.1 144.4,262.8 143.4,263.5 142.4,264.2 141.3,264.8 140.3,265.5 139.3,266.2 138.3,266.9 137.2,267.5 136.2,268.2 135.2,268.9 134.1,269.5 133.1,270.2 132.1,270.8 131.1,271.5 130.0,272.1 129.0,272.7 128.0,273.4 126.9,274.0 125.9,274.7 124.9,275.3 123.8,275.9 122.8,276.5 121.8,277.2 120.8,277.8 119.7,278.4 118.7,279.0 117.7,279.6 116.6,280.2 115.6,280.9 114.6,281.5 113.6,282.1 112.5,282.7 111.5,283.2 110.5,283.8 109.4,284.3 108.4,284.9 107.4,285.4 106.4,286.0 105.3,286.5 104.3,287.1 103.3,287.6 102.2,288.1 101.2,288.7 100.2,289.2 99.2,289.8 98.1,290.3 97.1,290.8 96.1,291.4 95.0,291.9 94.0,292.4 93.0,292.9 91.9,293.4 90.9,293.9 89.9,294.4 88.9,294.9 87.8,295.4 86.8,295.9 85.8,296.4 84.7,296.9 83.7,297.4 82.7,297.9 81.7,298.4 80.6,298.9 79.6,299.4 Z" fill="#1f77b4" fill-opacity="0.2" stroke="none"/>
<path d="M79.6,296.1 80.6,295.6 81.7,295.1 82.7,294.6 83.7,294.1 84.7,293.7 85.8,293.2 86.8,292.7 87.8,292.2 88.9,291.7 89.9,291.2 90.9,290.7 91.9,290.2 93.0,289.7 94.0,289.2 95.0,288.7 96.1,288.2 97.1,287.7 98.1,287.2 99.2,286.7 100.2,286.1 101.2,285.6 102.2,285.1 103.3,284.6 104.3,284.0 105.3,283.5 106.4,283.0 107.4,282.4 108.4,281.9 109.4,281.3 110.5,280.8 111.5,280.3 112.5,279.7 113.6,279.1 114.6,278.5 115.6,277.9 116.6,277.3 117.7,276.7 118.7,276.1 119.7,275.5 120.8,274.9 121.8,274.3 122.8,273.7 123.8,273.1 124.9,272.5 125.9,271.8 126.9,271.2 128.0,270.6 129.0,270.0 130.0,269.3 131.1,268.7 132.1,268.1 133.1,267.4 134.1,266.8 135.2,266.1 136.2,265.5 137.2,264.8 138.3,264.2 139.3,263.5 140.3,262.8 141.3,262.2 142.4,261.5 143.4,260.8 144.4,260.1 145.5,259.5 146.5,258.8 147.5,258.1 148.5,257.4 149.6,256.7 150.6,256.0 151.6,255.3 152.7,254.5 153.7,253.8 154.7,253.1 155.8,252.3 156.8,251.6 157.8,250.9 158.8,250.1 159.9,249.4 160.9,248.6 161.9,247.8 163.0,247.0 164.0,246.3 165.0,245.5 166.0,244.7 167.1,243.9 168.1,243.1 169.1,242.2 170.2,241.4 171.2,240.6 172.2,239.7 173.2,238.9 174.3,238.0 175.3,237.1 176.3,236.3 177.4,235.4 178.4,234.5 179.4,233.6 180.4,232.7 181.5,231.8 182.5,230.8 183.5,229.9 184.6,228.9 185.6,228.0 186.6,227.0 187.7,226.0 188.7,225.0 189.7,224.0 190.7,223.0 191.8,222.0 192.8,221.0 193.8,219.9 194.9,218.9 195.9,217.8 196.9,216.7 197.9,215.6 199.0,214.5 200.0,213.4 201.0,212.3 202.1,211.1 203.1,210.0 204.1,208.8 205.1,207.7 206.2,206.5 207.2,205.3 208.2,204.1 209.3,202.9 210.3,201.6 211.3,200.4 212.3,199.1 213.4,197.9 214.4,196.6 215.4,195.3 216.5,194.0 217.5,192.7 218.5,191.4 219.6,190.0 220.6,188.7 221.6,187.3 222.6,186.0 223.7,184.6 224.7,183.2 225.7,181.8 226.8,180.4 227.8,178.9 228.8,177.5 229.8,176.1 230.9,174.6 231.9,173.2 232.9,171.7 234.0,170.2 235.0,168.7 236.0,167.2 237.0,165.7 238.1,164.1 239.1,162.6 240.1,161.0 241.2,159.4 242.2,157.9 243.2,156.3 244.2,154.7 245.3,153.1 246.3,151.5 247.3,149.9 248.4,148.3 249.4,146.6 250.4,145.0 251.5,143.4 252.5,141.8 253.5,140.1 254.5,138.5 255.6,136.9 256.6,135.3 257.6,133.6 258.7,132.0 259.7,130.4 260.7,128.7 261.7,127.1 262.8,125.5 263.8,123.9 264.8,122.2 265.9,120.6 266.9,119.0 267.9,117.4 268.9,115.8 270.0,114.2 271.0,112.6 272.0,111.0 273.1,109.4 274.1,107.9 275.1,106.3 276.2,104.8 277.2,103.2 278.2,101.7 279.2,100.2 280.3,98.6 281.3,97.1 282.3,95.6 283.4,94.2 284.4,92.7 285.4,91.3 286.4,89.9 287.5,88.5 288.5,87.1 289.5,85.8 290.6,84.4 291.6,83.1 292.6,81.8 293.6,80.5 294.7,79.3 295.7,78.0 296.7,76.8 297.8,75.6 298.8,74.5 299.8,73.3 300.8,72.2 301.9,71.1 302.9,70.0 303.9,68.9 305.0,67.9 306.0,66.9 307.0,65.9 308.1,65.0 309.1,64.0 310.1,63.1 311.1,62.3 312.2,61.4 313.2,60.6 314.2,59.8 315.3,59.1 316.3,58.4 317.3,57.7 318.3,57.1 319.4,56.5 320.4,55.9 321.4,55.3 322.5,54.8 323.5,54.4 324.5,53.9 325.5,53.6 326.6,53.2 327.6,52.9 328.6,52.6 329.7,52.4 330.7,52.2 331.7,52.1 332.7,51.9 333.8,51.9 334.8,51.9 335.8,51.9 336.9,52.0 337.9,52.1 338.9,52.2 340.0,52.4 341.0,52.7 342.0,53.0 343.0,53.3 344.1,53.7 345.1,54.1 346.1,54.6 347.2,55.1 348.2,55.7 349.2,56.3 350.2,57.0 351.3,57.7 352.3,58.5 353.3,59.3 354.4,60.2 355.4,61.1 356.4,62.0 357.4,63.0 358.5,64.0 359.5,65.1 360.5,66.2 361.6,67.4 362.6,68.6 363.6,69.8 364.7,71.1 365.7,72.4 366.7,73.7 367.7,75.1 368.8,76.5 369.8,77.9 370.8,79.3 371.9,80.8 372.9,82.3 373.9,83.8 374.9,85.3 376.0,86.8 377.0,88.3 378.0,89.8 379.1,91.3 380.1,92.8 381.1,94.3 382.1,95.8 383.2,97.2 384.2,98.7 385.2,100.1 386.3,101.4 387.3,102.8 388.3,104.1 389.3,105.3 390.4,106.5 391.4,107.7 392.4,108.8 393.5,109.8 394.5,110.8 395.5,111.7 396.6,112.6 397.6,113.3 398.6,114.1 399.6,114.7 400.7,115.3 401.7,115.8 402.7,116.3 403.8,116.7 404.8,117.0 405.8,117.3 406.8,117.5 407.9,117.7 408.9,117.7 409.9,117.8 411.0,117.8 412.0,117.7 413.0,117.6 414.0,117.5 415.1,117.3 416.1,117.1 417.1,116.9 418.2,116.6 419.2,116.3 420.2,115.9 421.2,115.6 422.3,115.2 423.3,114.8 424.3,114.4 425.4,114.0 426.4,113.5 427.4,113.0 428.5,112.6 429.5,112.1 430.5,111.6 431.5,111.1 432.6,110.6 433.6,110.1 434.6,109.6 435.7,109.1 436.7,108.5 437.7,108.0 438.7,107.5 439.8,107.0 440.8,106.4 441.8,105.9 442.9,105.4 443.9,104.8 444.9,104.3 445.9,103.8 447.0,103.2 448.0,102.7 449.0,102.1 450.1,101.6 451.1,101.1 452.1,100.5 453.1,100.0 454.2,99.4 455.2,98.9 456.2,98.3 457.3,97.8 458.3,97.3 459.3,96.7 460.4,96.2 461.4,95.6 462.4,95.1 463.4,94.6 464.5,94.0 465.5,93.5 466.5,92.9 467.6,92.4 468.6,91.8 469.6,91.3 470.6,90.8 471.7,90.2 472.7,89.7 473.7,89.1 474.8,88.6 475.8,88.1 476.8,87.5 477.8,87.0 478.9,86.4 479.9,85.9 480.9,85.3 482.0,84.8 483.0,84.3 484.0,83.7 485.1,83.2 486.1,82.6 487.1,82.1 488.1,81.6 489.2,81.0 490.2,80.5 491.2,79.9 492.3,79.4 493.3,78.8 494.3,78.3 495.3,77.8 496.4,77.2 497.4,76.7 498.4,76.1 499.5,75.6 500.5,75.1 501.5,74.5 502.5,74.0 503.6,73.4 504.6,72.9 505.6,72.3 506.7,71.8 507.7,71.3 508.7,70.7 509.7,70.2 510.8,69.6 511.8,69.1 512.8,68.6 513.9,68.0 514.9,67.5 515.9,66.9 517.0,66.4 518.0,65.9 519.0,65.3 520.0,64.8 521.1,64.2 522.1,63.7 523.1,63.1 524.2,62.6 525.2,62.1 526.2,61.5 527.2,61.0 528.3,60.4 529.3,59.9 530.3,59.4 531.4,58.8 532.4,58.3 533.4,57.7 534.4,57.2 535.5,56.6 536.5,56.1 537.5,55.6 538.6,55.0 539.6,54.5 540.6,53.9 541.6,53.4 542.7,52.9 543.7,52.3 544.7,51.8 545.8,51.2 546.8,50.7 547.8,50.1 548.9,49.6 549.9,49.1 550.9,48.5 551.9,48.0 553.0,47.4 554.0,46.9 555.0,46.4 556.1,45.8 557.1,45.3 558.1,44.7 559.1,44.2 560.2,43.6 561.2,43.1 562.2,42.6 563.3,42.0 564.3,41.5 565.3,40.9 566.3,40.4 567.4,39.8 568.4,39.3 569.4,38.8 570.5,38.2 571.5,37.7 572.5,37.1 573.6,36.6" stroke="#1f77b4" stroke-width="2.08"/>
<path d="M79.6,306.8 80.6,306.4 81.7,305.9 82.7,305.5 83.7,305.1 84.7,304.6 85.8,304.2 86.8,303.8 87.8,303.3 88.9,302.9 89.9,302.5 90.9,302.0 91.9,301.6 93.0,301.2 94.0,300.7 95.0,300.3 96.1,299.8 97.1,299.4 98.1,298.9 99.2,298.4 100.2,298.0 101.2,297.5 102.2,297.0 103.3,296.6 104.3,296.1 105.3,295.6 106.4,295.1 107.4,294.7 108.4,294.2 109.4,293.7 110.5,293.2 111.5,292.8 112.5,292.3 113.6,291.7 114.6,291.2 115.6,290.7 116.6,290.1 117.7,289.6 118.7,289.1 119.7,288.5 120.8,288.0 121.8,287.4 122.8,286.9 123.8,286.3 124.9,285.8 125.9,285.2 126.9,284.7 128.0,284.1 129.0,283.6 130.0,283.0 131.1,282.5 132.1,281.9 133.1,281.3 134.1,280.8 135.2,280.2 136.2,279.6 137.2,279.0 138.3,278.5 139.3,277.9 140.3,277.3 141.3,276.7 142.4,276.1 143.4,275.5 144.4,274.9 145.5,274.3 146.5,273.7 147.5,273.1 148.5,272.5 149.6,271.9 150.6,271.3 151.6,270.6 152.7,270.0 153.7,269.4 154.7,268.8 155.8,268.1 156.8,267.5 157.8,266.8 158.8,266.2 159.9,265.5 160.9,264.9 161.9,264.2 163.0,263.5 164.0,262.8 165.0,262.1 166.0,261.4 167.1,260.7 168.1,260.0 169.1,259.3 170.2,258.6 171.2,257.9 172.2,257.2 173.2,256.4 174.3,255.7 175.3,254.9 176.3,254.2 177.4,253.4 178.4,252.6 179.4,251.9 180.4,251.1 181.5,250.3 182.5,249.5 183.5,248.7 184.6,247.8 185.6,247.0 186.6,246.2 187.7,245.3 188.7,244.5 189.7,243.6 190.7,242.7 191.8,241.9 192.8,241.0 193.8,240.1 194.9,239.1 195.9,238.2 196.9,237.3 197.9,236.4 199.0,235.4 200.0,234.4 201.0,233.5 202.1,232.5 203.1,231.5 204.1,230.5 205.1,229.5 206.2,228.4 207.2,227.4 208.2,226.4 209.3,225.3 210.3,224.2 211.3,223.1 212.3,222.1 213.4,220.9 214.4,219.8 215.4,218.7 216.5,217.6 217.5,216.4 218.5,215.3 219.6,214.1 220.6,212.9 221.6,211.7 222.6,210.5 223.7,209.3 224.7,208.0 225.7,206.8 226.8,205.6 227.8,204.3 228.8,203.0 229.8,201.7 230.9,200.4 231.9,199.1 232.9,197.8 234.0,196.5 235.0,195.2 236.0,193.8 237.0,192.4 238.1,191.0 239.1,189.6 240.1,188.2 241.2,186.8 242.2,185.3 243.2,183.9 244.2,182.4 245.3,180.9 246.3,179.4 247.3,177.9 248.4,176.4 249.4,174.9 250.4,173.4 251.5,171.8 252.5,170.3 253.5,168.8 254.5,167.2 255.6,165.7 256.6,164.1 257.6,162.5 258.7,161.0 259.7,159.4 260.7,157.9 261.7,156.3 262.8,154.7 263.8,153.2 264.8,151.6 265.9,150.1 266.9,148.5 267.9,146.9 268.9,145.4 270.0,143.8 271.0,142.3 272.0,140.7 273.1,139.2 274.1,137.6 275.1,136.1 276.2,134.6 277.2,133.1 278.2,131.5 279.2,130.0 280.3,128.5 281.3,127.1 282.3,125.6 283.4,124.1 284.4,122.6 285.4,121.2 286.4,119.8 287.5,118.4 288.5,117.0 289.5,115.7 290.6,114.3 291.6,113.0 292.6,111.7 293.6,110.4 294.7,109.1 295.7,107.8 296.7,106.6 297.8,105.3 298.8,104.1 299.8,102.9 300.8,101.7 301.9,100.5 302.9,99.4 303.9,98.3 305.0,97.2 306.0,96.1 307.0,95.0 308.1,94.0 309.1,93.0 310.1,92.0 311.1,91.1 312.2,90.1 313.2,89.2 314.2,88.4 315.3,87.5 316.3,86.7 317.3,86.0 318.3,85.2 319.4,84.5 320.4,83.8 321.4,83.2 322.5,82.5 323.5,81.9 324.5,81.4 325.5,80.9 326.6,80.4 327.6,80.0 328.6,79.6 329.7,79.2 330.7,78.8 331.7,78.6 332.7,78.3 333.8,78.1 334.8,77.9 335.8,77.8 336.9,77.7 337.9,77.6 338.9,77.6 340.0,77.7 341.0,77.7 342.0,77.9 343.0,78.0 344.1,78.2 345.1,78.5 346.1,78.8 347.2,79.1 348.2,79.5 349.2,79.9 350.2,80.4 351.3,80.9 352.3,81.5 353.3,82.1 354.4,82.8 355.4,83.5 356.4,84.2 357.4,85.0 358.5,85.8 359.5,86.7 360.5,87.6 361.6,88.5 362.6,89.5 363.6,90.5 364.7,91.6 365.7,92.7 366.7,93.8 367.7,95.0 368.8,96.0 369.8,97.2 370.8,98.3 371.9,99.5 372.9,100.6 373.9,101.8 374.9,103.0 376.0,104.3 377.0,105.5 378.0,106.7 379.1,108.0 380.1,109.2 381.1,110.4 382.1,111.7 383.2,112.9 384.2,114.1 385.2,115.2 386.3,116.4 387.3,117.5 388.3,118.6 389.3,119.7 390.4,120.7 391.4,121.6 392.4,122.6 393.5,123.5 394.5,124.3 395.5,125.1 396.6,125.8 397.6,126.5 398.6,127.1 399.6,127.6 400.7,128.1 401.7,128.5 402.7,128.9 403.8,129.2 404.8,129.5 405.8,129.7 406.8,129.8 407.9,129.9 408.9,129.9 409.9,130.1 411.0,130.2 412.0,130.2 413.0,130.2 414.0,130.2 415.1,130.2 416.1,130.0 417.1,129.9 418.2,129.7 419.2,129.5 420.2,129.3 421.2,129.0 422.3,128.8 423.3,128.5 424.3,128.1 425.4,127.8 426.4,127.4 427.4,127.1 428.5,126.7 429.5,126.3 430.5,125.9 431.5,125.5 432.6,125.0 433.6,124.6 434.6,124.2 435.7,123.7 436.7,123.3 437.7,122.8 438.7,122.4 439.8,121.9 440.8,121.5 441.8,121.0 442.9,120.5 443.9,120.1 444.9,119.6 445.9,119.1 447.0,118.7 448.0,118.2 449.0,117.7 450.1,117.3 451.1,116.8 452.1,116.2 453.1,115.7 454.2,115.2 455.2,114.7 456.2,114.2 457.3,113.7 458.3,113.2 459.3,112.7 460.4,112.1 461.4,111.6 462.4,111.1 463.4,110.6 464.5,110.1 465.5,109.6 466.5,109.1 467.6,108.5 468.6,108.0 469.6,107.5 470.6,107.0 471.7,106.5 472.7,106.0 473.7,105.5 474.8,104.9 475.8,104.4 476.8,103.9 477.8,103.4 478.9,102.9 479.9,102.4 480.9,101.9 482.0,101.4 483.0,100.8 484.0,100.3 485.1,99.8 486.1,99.3 487.1,98.8 488.1,98.3 489.2,97.8 490.2,97.2 491.2,96.7 492.3,96.2 493.3,95.6 494.3,95.0 495.3,94.4 496.4,93.9 497.4,93.3 498.4,92.7 499.5,92.1 500.5,91.6 501.5,91.0 502.5,90.4 503.6,89.8 504.6,89.2 505.6,88.7 506.7,88.1 507.7,87.5 508.7,86.9 509.7,86.4 510.8,85.8 511.8,85.2 512.8,84.6 513.9,84.1 514.9,83.5 515.9,82.9 517.0,82.3 518.0,81.8 519.0,81.2 520.0,80.6 521.1,80.0 522.1,79.5 523.1,78.9 524.2,78.3 525.2,77.7 526.2,77.2 527.2,76.6 528.3,76.0 529.3,75.4 530.3,74.9 531.4,74.3 532.4,73.7 533.4,73.1 534.4,72.6 535.5,72.0 536.5,71.4 537.5,70.8 538.6,70.3 539.6,69.7 540.6,69.1 541.6,68.5 542.7,68.0 543.7,67.4 544.7,66.8 545.8,66.2 546.8,65.7 547.8,65.1 548.9,64.5 549.9,63.9 550.9,63.4 551.9,62.8 553.0,62.2 554.0,61.6 555.0,61.1 556.1,60.5 557.1,59.9 558.1,59.3 559.1,58.8 560.2,58.2 561.2,57.6 562.2,57.0 563.3,56.4 564.3,55.9 565.3,55.3 566.3,54.7 567.4,54.1 568.4,53.6 569.4,53.0 570.5,52.4 571.5,51.8 572.5,51.3 573.6,50.7 573.6,80.3 572.5,80.8 571.5,81.2 570.5,81.7 569.4,82.1 568.4,82.6 567.4,83.0 566.3,83.5 565.3,83.9 564.3,84.4 563.3,84.8 562.2,85.3 561.2,85.7 560.2,86.2 559.1,86.6 558.1,87.1 557.1,87.5 556.1,88.0 555.0,88.4 554.0,88.9 553.0,89.3 551.9,89.8 550.9,90.3 549.9,90.7 548.9,91.2 547.8,91.6 546.8,92.1 545.8,92.5 544.7,93.0 543.7,93.4 542.7,93.9 541.6,94.3 540.6,94.8 539.6,95.2 538.6,95.7 537.5,96.1 536.5,96.6 535.5,97.0 534.4,97.5 533.4,97.9 532.4,98.4 531.4,98.8 530.3,99.3 529.3,99.7 528.3,100.2 527.2,100.6 526.2,101.1 525.2,101.6 524.2,102.0 523.1,102.5 522.1,102.9 521.1,103.4 520.0,103.8 519.0,104.3 518.0,104.7 517.0,105.2 515.9,105.6 514.9,106.1 513.9,106.5 512.8,107.0 511.8,107.4 510.8,107.9 509.7,108.3 508.7,108.8 507.7,109.2 506.7,109.7 505.6,110.1 504.6,110.6 503.6,111.0 502.5,111.5 501.5,111.9 500.5,112.4 499.5,112.9 498.4,113.3 497.4,113.8 496.4,114.2 495.3,114.7 494.3,115.1 493.3,115.6 492.3,116.0 491.2,116.5 490.2,116.9 489.2,117.4 488.1,117.9 487.1,118.4 486.1,118.8 485.1,119.3 484.0,119.8 483.0,120.3 482.0,120.7 480.9,121.2 479.9,121.7 478.9,122.1 477.8,122.6 476.8,123.1 475.8,123.6 474.8,124.0 473.7,124.5 472.7,125.0 471.7,125.4 470.6,125.9 469.6,126.4 468.6,126.9 467.6,127.3 466.5,127.8 465.5,128.3 464.5,128.8 463.4,129.2 462.4,129.7 461.4,130.2 460.4,130.6 459.3,131.1 458.3,131.6 457.3,132.1 456.2,132.5 455.2,133.0 454.2,133.5 453.1,134.0 452.1,134.4 451.1,134.9 450.1,135.4 449.0,135.8 448.0,136.3 447.0,136.8 445.9,137.2 444.9,137.7 443.9,138.2 442.9,138.6 441.8,139.1 440.8,139.6 439.8,140.0 438.7,140.5 437.7,140.9 436.7,141.4 435.7,141.8 434.6,142.3 433.6,142.7 432.6,143.1 431.5,143.6 430.5,144.0 429.5,144.4 428.5,144.8 427.4,145.2 426.4,145.5 425.4,145.9 424.3,146.2 423.3,146.6 422.3,146.9 421.2,147.1 420.2,147.4 419.2,147.6 418.2,147.8 417.1,148.0 416.1,148.1 415.1,148.2 414.0,148.3 413.0,148.3 412.0,148.3 411.0,148.3 409.9,148.2 408.9,148.0 407.9,147.8 406.8,147.6 405.8,147.3 404.8,146.9 403.8,146.5 402.7,146.0 401.7,145.5 400.7,144.9 399.6,144.2 398.6,143.5 397.6,142.7 396.6,141.9 395.5,141.0 394.5,140.1 393.5,139.1 392.4,138.0 391.4,136.9 390.4,135.8 389.3,134.6 388.3,133.4 387.3,132.1 386.3,130.9 385.2,129.5 384.2,128.2 383.2,126.8 382.1,125.5 381.1,124.1 380.1,122.7 379.1,121.3 378.0,119.9 377.0,118.5 376.0,117.1 374.9,115.7 373.9,114.3 372.9,113.0 371.9,111.6 370.8,110.3 369.8,109.0 368.8,107.7 367.7,106.5 366.7,105.2 365.7,104.0 364.7,102.9 363.6,101.7 362.6,100.6 361.6,99.5 360.5,98.5 359.5,97.5 358.5,96.6 357.4,95.7 356.4,94.8 355.4,94.0 354.4,93.2 353.3,92.5 352.3,91.8 351.3,91.1 350.2,90.5 349.2,90.0 348.2,89.5 347.2,89.0 346.1,88.6 345.1,88.2 344.1,87.9 343.0,87.6 342.0,87.3 341.0,87.1 340.0,87.0 338.9,86.8 337.9,86.8 336.9,86.7 335.8,86.7 334.8,86.8 333.8,86.9 332.7,87.0 331.7,87.2 330.7,87.4 329.7,87.7 328.6,87.9 327.6,88.3 326.6,88.6 325.5,89.0 324.5,89.5 323.5,90.0 322.5,90.5 321.4,91.0 320.4,91.6 319.4,92.2 318.3,92.9 317.3,93.5 316.3,94.2 315.3,95.0 314.2,95.7 313.2,96.5 312.2,97.4 311.1,98.2 310.1,99.1 309.1,100.0 308.1,100.9 307.0,101.9 306.0,102.9 305.0,103.9 303.9,104.9 302.9,106.0 301.9,107.0 300.8,108.1 299.8,109.2 298.8,110.4 297.8,111.5 296.7,112.7 295.7,113.9 294.7,115.1 293.6,116.3 292.6,117.6 291.6,118.9 290.6,120.1 289.5,121.4 288.5,122.8 287.5,124.1 286.4,125.4 285.4,126.8 284.4,128.2 283.4,129.6 282.3,131.0 281.3,132.5 280.3,133.9 279.2,135.4 278.2,136.9 277.2,138.3 276.2,139.8 275.1,141.3 274.1,142.8 273.1,144.3 272.0,145.8 271.0,147.3 270.0,148.8 268.9,150.3 267.9,151.8 266.9,153.3 265.9,154.9 264.8,156.4 263.8,157.9 262.8,159.4 261.7,161.0 260.7,162.5 259.7,164.0 258.7,165.5 257.6,167.0 256.6,168.5 255.6,170.1 254.5,171.6 253.5,173.1 252.5,174.6 251.5,176.1 250.4,177.6 249.4,179.0 248.4,180.5 247.3,182.0 246.3,183.5 245.3,184.9 244.2,186.4 243.2,187.9 242.2,189.4 241.2,190.8 240.1,192.3 239.1,193.7 238.1,195.2 237.0,196.6 236.0,198.0 235.0,199.4 234.0,200.8 232.9,202.1 231.9,203.5 230.9,204.8 229.8,206.1 228.8,207.5 227.8,208.8 226.8,210.1 225.7,211.3 224.7,212.6 223.7,213.9 222.6,215.1 221.6,216.4 220.6,217.6 219.6,218.8 218.5,220.0 217.5,221.2 216.5,222.4 215.4,223.6 214.4,224.7 213.4,225.9 212.3,227.0 211.3,228.1 210.3,229.3 209.3,230.4 208.2,231.5 207.2,232.5 206.2,233.6 205.1,234.7 204.1,235.7 203.1,236.8 202.1,237.8 201.0,238.8 200.0,239.8 199.0,240.8 197.9,241.8 196.9,242.8 195.9,243.7 194.9,244.7 193.8,245.6 192.8,246.6 191.8,247.5 190.7,248.4 189.7,249.3 188.7,250.2 187.7,251.1 186.6,252.0 185.6,252.8 184.6,253.7 183.5,254.5 182.5,255.4 181.5,256.2 180.4,257.1 179.4,257.9 178.4,258.7 177.4,259.5 176.3,260.3 175.3,261.1 174.3,261.9 173.2,262.6 172.2,263.4 171.2,264.2 170.2,264.9 169.1,265.7 168.1,266.4 167.1,267.2 166.0,267.9 165.0,268.6 164.0,269.3 163.0,270.1 161.9,270.8 160.9,271.5 159.9,272.2 158.8,272.9 157.8,273.6 156.8,274.3 155.8,274.9 154.7,275.6 153.7,276.3 152.7,277.0 151.6,277.6 150.6,278.3 149.6,279.0 148.5,279.6 147.5,280.3 146.5,280.9 145.5,281.6 144.4,282.2 143.4,282.8 142.4,283.5 141.3,284.1 140.3,284.7 139.3,285.4 138.3,286.0 137.2,286.6 136.2,287.2 135.2,287.8 134.1,288.4 133.1,289.1 132.1,289.7 131.1,290.3 130.0,290.9 129.0,291.5 128.0,292.1 126.9,292.7 125.9,293.3 124.9,293.9 123.8,294.4 122.8,295.0 121.8,295.6 120.8,296.2 119.7,296.8 118.7,297.4 117.7,297.9 116.6,298.5 115.6,299.1 114.6,299.7 113.6,300.3 112.5,300.8 111.5,301.3 110.5,301.9 109.4,302.4 108.4,302.9 107.4,303.4 106.4,303.9 105.3,304.5 104.3,305.0 103.3,305.5 102.2,306.0 101.2,306.5 100.2,307.0 99.2,307.5 98.1,308.0 97.1,308.5 96.1,309.0 95.0,309.5 94.0,310.0 93.0,310.5 91.9,311.0 90.9,311.4 89.9,311.9 88.9,312.4 87.8,312.9 86.8,313.4 85.8,313.8 84.7,314.3 83.7,314.8 82.7,315.3 81.7,315.7 80.6,316.2 79.6,316.7 Z" fill="#ff7f0e" fill-opacity="0.2" stroke="none"/>
<path d="M79.6,311.7 80.6,311.3 81.7,310.8 82.7,310.4 83.7,309.9 84.7,309.5 85.8,309.0 86.8,308.6 87.8,308.1 88.9,307.7 89.9,307.2 90.9,306.7 91.9,306.3 93.0,305.8 94.0,305.4 95.0,304.9 96.1,304.4 97.1,304.0 98.1,303.5 99.2,303.0 100.2,302.5 101.2,302.0 102.2,301.5 103.3,301.0 104.3,300.5 105.3,300.0 106.4,299.5 107.4,299.0 108.4,298.5 109.4,298.1 110.5,297.6 111.5,297.1 112.5,296.6 113.6,296.0 114.6,295.4 115.6,294.9 116.6,294.3 117.7,293.8 118.7,293.2 119.7,292.7 120.8,292.1 121.8,291.5 122.8,291.0 123.8,290.4 124.9,289.8 125.9,289.3 126.9,288.7 128.0,288.1 129.0,287.5 130.0,286.9 131.1,286.4 132.1,285.8 133.1,285.2 134.1,284.6 135.2,284.0 136.2,283.4 137.2,282.8 138.3,282.2 139.3,281.6 140.3,281.0 141.3,280.4 142.4,279.8 143.4,279.2 144.4,278.6 145.5,277.9 146.5,277.3 147.5,276.7 148.5,276.1 149.6,275.4 150.6,274.8 151.6,274.1 152.7,273.5 153.7,272.8 154.7,272.2 155.8,271.5 156.8,270.9 157.8,270.2 158.8,269.5 159.9,268.8 160.9,268.2 161.9,267.5 163.0,266.8 164.0,266.1 165.0,265.4 166.0,264.7 167.1,264.0 168.1,263.2 169.1,262.5 170.2,261.8 171.2,261.0 172.2,260.3 173.2,259.5 174.3,258.8 175.3,258.0 176.3,257.2 177.4,256.4 178.4,255.7 179.4,254.9 180.4,254.1 181.5,253.2 182.5,252.4 183.5,251.6 184.6,250.8 185.6,249.9 186.6,249.1 187.7,248.2 188.7,247.3 189.7,246.5 190.7,245.6 191.8,244.7 192.8,243.8 193.8,242.8 194.9,241.9 195.9,241.0 196.9,240.0 197.9,239.1 199.0,238.1 200.0,237.1 201.0,236.1 202.1,235.1 203.1,234.1 204.1,233.1 205.1,232.1 206.2,231.0 207.2,230.0 208.2,228.9 209.3,227.8 210.3,226.7 211.3,225.6 212.3,224.5 213.4,223.4 214.4,222.3 215.4,221.1 216.5,220.0 217.5,218.8 218.5,217.6 219.6,216.5 220.6,215.3 221.6,214.0 222.6,212.8 223.7,211.6 224.7,210.3 225.7,209.1 226.8,207.8 227.8,206.5 228.8,205.2 229.8,203.9 230.9,202.6 231.9,201.3 232.9,200.0 234.0,198.6 235.0,197.3 236.0,195.9 237.0,194.5 238.1,193.1 239.1,191.7 240.1,190.2 241.2,188.8 242.2,187.3 243.2,185.9 244.2,184.4 245.3,182.9 246.3,181.5 247.3,180.0 248.4,178.5 249.4,177.0 250.4,175.5 251.5,173.9 252.5,172.4 253.5,170.9 254.5,169.4 255.6,167.9 256.6,166.3 257.6,164.8 258.7,163.3 259.7,161.7 260.7,160.2 261.7,158.6 262.8,157.1 263.8,155.5 264.8,154.0 265.9,152.5 266.9,150.9 267.9,149.4 268.9,147.8 270.0,146.3 271.0,144.8 272.0,143.3 273.1,141.7 274.1,140.2 275.1,138.7 276.2,137.2 277.2,135.7 278.2,134.2 279.2,132.7 280.3,131.2 281.3,129.8 282.3,128.3 283.4,126.9 284.4,125.4 285.4,124.0 286.4,122.6 287.5,121.3 288.5,119.9 289.5,118.6 290.6,117.2 291.6,115.9 292.6,114.6 293.6,113.4 294.7,112.1 295.7,110.9 296.7,109.6 297.8,108.4 298.8,107.2 299.8,106.1 300.8,104.9 301.9,103.8 302.9,102.7 303.9,101.6 305.0,100.5 306.0,99.5 307.0,98.5 308.1,97.5 309.1,96.5 310.1,95.6 311.1,94.6 312.2,93.8 313.2,92.9 314.2,92.1 315.3,91.3 316.3,90.5 317.3,89.7 318.3,89.0 319.4,88.3 320.4,87.7 321.4,87.1 322.5,86.5 323.5,86.0 324.5,85.4 325.5,85.0 326.6,84.5 327.6,84.1 328.6,83.7 329.7,83.4 330.7,83.1 331.7,82.9 332.7,82.7 333.8,82.5 334.8,82.3 335.8,82.3 336.9,82.2 337.9,82.2 338.9,82.2 340.0,82.3 341.0,82.4 342.0,82.6 343.0,82.8 344.1,83.0 345.1,83.3 346.1,83.7 347.2,84.1 348.2,84.5 349.2,85.0 350.2,85.5 351.3,86.0 352.3,86.6 353.3,87.3 354.4,88.0 355.4,88.7 356.4,89.5 357.4,90.3 358.5,91.2 359.5,92.1 360.5,93.1 361.6,94.0 362.6,95.1 363.6,96.1 364.7,97.2 365.7,98.4 366.7,99.5 367.7,100.7 368.8,102.0 369.8,103.2 370.8,104.5 371.9,105.8 372.9,107.1 373.9,108.4 374.9,109.8 376.0,111.2 377.0,112.5 378.0,113.9 379.1,115.3 380.1,116.7 381.1,118.1 382.1,119.4 383.2,120.8 384.2,122.1 385.2,123.4 386.3,124.7 387.3,126.0 388.3,127.2 389.3,128.4 390.4,129.6 391.4,130.7 392.4,131.8 393.5,132.8 394.5,133.8 395.5,134.7 396.6,135.6 397.6,136.4 398.6,137.1 399.6,137.8 400.7,138.5 401.7,139.0 402.7,139.6 403.8,140.0 404.8,140.4 405.8,140.7 406.8,141.0 407.9,141.2 408.9,141.4 409.9,141.5 411.0,141.6 412.0,141.6 413.0,141.6 414.0,141.5 415.1,141.4 416.1,141.3 417.1,141.1 418.2,140.9 419.2,140.6 420.2,140.4 421.2,140.1 422.3,139.7 423.3,139.4 424.3,139.0 425.4,138.7 426.4,138.3 427.4,137.8 428.5,137.4 429.5,137.0 430.5,136.5 431.5,136.1 432.6,135.6 433.6,135.1 434.6,134.7 435.7,134.2 436.7,133.7 437.7,133.2 438.7,132.7 439.8,132.2 440.8,131.7 441.8,131.2 442.9,130.7 443.9,130.2 444.9,129.7 445.9,129.2 447.0,128.7 448.0,128.2 449.0,127.7 450.1,127.1 451.1,126.6 452.1,126.1 453.1,125.6 454.2,125.1 455.2,124.6 456.2,124.1 457.3,123.6 458.3,123.0 459.3,122.5 460.4,122.0 461.4,121.5 462.4,121.0 463.4,120.5 464.5,120.0 465.5,119.4 466.5,118.9 467.6,118.4 468.6,117.9 469.6,117.4 470.6,116.9 471.7,116.4 472.7,115.8 473.7,115.3 474.8,114.8 475.8,114.3 476.8,113.8 477.8,113.3 478.9,112.8 479.9,112.3 480.9,111.7 482.0,111.2 483.0,110.7 484.0,110.2 485.1,109.7 486.1,109.2 487.1,108.7 488.1,108.1 489.2,107.6 490.2,107.1 491.2,106.6 492.3,106.1 493.3,105.6 494.3,105.1 495.3,104.5 496.4,104.0 497.4,103.5 498.4,103.0 499.5,102.5 500.5,102.0 501.5,101.5 502.5,100.9 503.6,100.4 504.6,99.9 505.6,99.4 506.7,98.9 507.7,98.4 508.7,97.9 509.7,97.4 510.8,96.8 511.8,96.3 512.8,95.8 513.9,95.3 514.9,94.8 515.9,94.3 517.0,93.8 518.0,93.2 519.0,92.7 520.0,92.2 521.1,91.7 522.1,91.2 523.1,90.7 524.2,90.2 525.2,89.6 526.2,89.1 527.2,88.6 528.3,88.1 529.3,87.6 530.3,87.1 531.4,86.6 532.4,86.1 533.4,85.5 534.4,85.0 535.5,84.5 536.5,84.0 537.5,83.5 538.6,83.0 539.6,82.5 540.6,81.9 541.6,81.4 542.7,80.9 543.7,80.4 544.7,79.9 545.8,79.4 546.8,78.9 547.8,78.3 548.9,77.8 549.9,77.3 550.9,76.8 551.9,76.3 553.0,75.8 554.0,75.3 555.0,74.7 556.1,74.2 557.1,73.7 558.1,73.2 559.1,72.7 560.2,72.2 561.2,71.7 562.2,71.2 563.3,70.6 564.3,70.1 565.3,69.6 566.3,69.1 567.4,68.6 568.4,68.1 569.4,67.6 570.5,67.0 571.5,66.5 572.5,66.0 573.6,65.5" stroke="#ff7f0e" stroke-width="2.08"/>
<path d="M79.6,289.1 80.6,288.8 81.7,288.4 82.7,288.1 83.7,287.7 84.7,287.3 85.8,287.0 86.8,286.6 87.8,286.2 88.9,285.9 89.9,285.5 90.9,285.1 91.9,284.8 93.0,284.4 94.0,284.0 95.0,283.6 96.1,283.3 97.1,282.9 98.1,282.5 99.2,282.1 100.2,281.6 101.2,281.2 102.2,280.8 103.3,280.4 104.3,280.0 105.3,279.6 106.4,279.1 107.4,278.7 108.4,278.3 109.4,277.8 110.5,277.4 111.5,277.0 112.5,276.5 113.6,276.0 114.6,275.5 115.6,275.0 116.6,274.5 117.7,274.0 118.7,273.5 119.7,273.0 120.8,272.5 121.8,272.0 122.8,271.4 123.8,270.9 124.9,270.4 125.9,269.8 126.9,269.3 128.0,268.7 129.0,268.2 130.0,267.6 131.1,267.1 132.1,266.5 133.1,265.9 134.1,265.4 135.2,264.8 136.2,264.2 137.2,263.6 138.3,263.0 139.3,262.4 140.3,261.8 141.3,261.2 142.4,260.5 143.4,259.9 144.4,259.3 145.5,258.6 146.5,258.0 147.5,257.3 148.5,256.6 149.6,256.0 150.6,255.3 151.6,254.6 152.7,253.9 153.7,253.2 154.7,252.5 155.8,251.8 156.8,251.0 157.8,250.3 158.8,249.6 159.9,248.8 160.9,248.1 161.9,247.3 163.0,246.5 164.0,245.7 165.0,244.9 166.0,244.1 167.1,243.3 168.1,242.5 169.1,241.6 170.2,240.8 171.2,239.9 172.2,239.1 173.2,238.2 174.3,237.3 175.3,236.4 176.3,235.5 177.4,234.6 178.4,233.7 179.4,232.7 180.4,231.8 181.5,230.8 182.5,229.9 183.5,228.9 184.6,227.9 185.6,226.9 186.6,225.9 187.7,224.9 188.7,223.9 189.7,222.8 190.7,221.8 191.8,220.7 192.8,219.7 193.8,218.6 194.9,217.5 195.9,216.4 196.9,215.3 197.9,214.2 199.0,213.1 200.0,212.0 201.0,210.9 202.1,209.7 203.1,208.6 204.1,207.4 205.1,206.3 206.2,205.1 207.2,203.9 208.2,202.8 209.3,201.6 210.3,200.4 211.3,199.2 212.3,198.0 213.4,196.8 214.4,195.6 215.4,194.4 216.5,193.1 217.5,191.9 218.5,190.7 219.6,189.5 220.6,188.3 221.6,187.0 222.6,185.8 223.7,184.6 224.7,183.4 225.7,182.1 226.8,180.9 227.8,179.7 228.8,178.5 229.8,177.3 230.9,176.1 231.9,174.9 232.9,173.6 234.0,172.5 235.0,171.3 236.0,170.1 237.0,168.9 238.1,167.6 239.1,166.4 240.1,165.2 241.2,164.1 242.2,162.9 243.2,161.7 244.2,160.6 245.3,159.4 246.3,158.2 247.3,157.0 248.4,155.9 249.4,154.7 250.4,153.6 251.5,152.5 252.5,151.4 253.5,150.3 254.5,149.3 255.6,148.3 256.6,147.2 257.6,146.2 258.7,145.3 259.7,144.3 260.7,143.4 261.7,142.4 262.8,141.5 263.8,140.7 264.8,139.8 265.9,139.0 266.9,138.2 267.9,137.4 268.9,136.7 270.0,136.0 271.0,135.3 272.0,134.6 273.1,134.0 274.1,133.4 275.1,132.8 276.2,132.3 277.2,131.8 278.2,131.3 279.2,130.8 280.3,130.4 281.3,130.0 282.3,129.7 283.4,129.4 284.4,129.1 285.4,128.9 286.4,128.7 287.5,128.6 288.5,128.5 289.5,128.4 290.6,128.4 291.6,128.4 292.6,128.5 293.6,128.6 294.7,128.7 295.7,128.9 296.7,129.1 297.8,129.3 298.8,129.6 299.8,129.9 300.8,130.2 301.9,130.6 302.9,131.1 303.9,131.5 305.0,132.0 306.0,132.6 307.0,133.1 308.1,133.7 309.1,134.4 310.1,135.1 311.1,135.8 312.2,136.5 313.2,137.3 314.2,138.1 315.3,139.0 316.3,139.8 317.3,140.7 318.3,141.6 319.4,142.6 320.4,143.5 321.4,144.5 322.5,145.5 323.5,146.5 324.5,147.5 325.5,148.5 326.6,149.6 327.6,150.6 328.6,151.7 329.7,152.8 330.7,153.8 331.7,154.9 332.7,155.9 333.8,157.0 334.8,158.0 335.8,159.0 336.9,160.0 337.9,160.9 338.9,161.9 340.0,162.7 341.0,163.6 342.0,164.4 343.0,165.2 344.1,166.0 345.1,166.7 346.1,167.4 347.2,168.0 348.2,168.6 349.2,169.1 350.2,169.6 351.3,170.0 352.3,170.4 353.3,170.8 354.4,171.1 355.4,171.4 356.4,171.6 357.4,171.8 358.5,171.9 359.5,172.0 360.5,172.0 361.6,172.1 362.6,172.0 363.6,172.0 364.7,171.9 365.7,171.8 366.7,171.6 367.7,171.5 368.8,171.3 369.8,171.1 370.8,170.8 371.9,170.6 372.9,170.3 373.9,170.0 374.9,169.7 376.0,169.4 377.0,169.1 378.0,168.7 379.1,168.4 380.1,168.0 381.1,167.6 382.1,167.2 383.2,166.9 384.2,166.5 385.2,166.1 386.3,165.7 387.3,165.3 388.3,164.9 389.3,164.5 390.4,164.0 391.4,163.6 392.4,163.2 393.5,162.8 394.5,162.4 395.5,162.0 396.6,161.5 397.6,161.1 398.6,160.7 399.6,160.3 400.7,159.8 401.7,159.4 402.7,159.0 403.8,158.6 404.8,158.1 405.8,157.7 406.8,157.3 407.9,156.9 408.9,156.4 409.9,156.0 411.0,155.5 412.0,155.1 413.0,154.6 414.0,154.1 415.1,153.7 416.1,153.2 417.1,152.8 418.2,152.3 419.2,151.9 420.2,151.4 421.2,150.9 422.3,150.5 423.3,150.0 424.3,149.6 425.4,149.1 426.4,148.6 427.4,148.2 428.5,147.7 429.5,147.3 430.5,146.8 431.5,146.4 432.6,145.9 433.6,145.4 434.6,145.0 435.7,144.5 436.7,144.1 437.7,143.6 438.7,143.1 439.8,142.7 440.8,142.2 441.8,141.8 442.9,141.3 443.9,140.8 444.9,140.4 445.9,139.9 447.0,139.5 448.0,139.0 449.0,138.6 450.1,138.1 451.1,137.6 452.1,137.2 453.1,136.7 454.2,136.3 455.2,135.8 456.2,135.3 457.3,134.9 458.3,134.4 459.3,134.0 460.4,133.5 461.4,133.1 462.4,132.6 463.4,132.1 464.5,131.7 465.5,131.2 466.5,130.8 467.6,130.3 468.6,129.8 469.6,129.4 470.6,128.9 471.7,128.5 472.7,128.0 473.7,127.5 474.8,127.1 475.8,126.6 476.8,126.2 477.8,125.7 478.9,125.3 479.9,124.8 480.9,124.3 482.0,123.9 483.0,123.4 484.0,123.0 485.1,122.5 486.1,122.0 487.1,121.6 488.1,121.1 489.2,120.7 490.2,120.2 491.2,119.8 492.3,119.3 493.3,118.8 494.3,118.3 495.3,117.9 496.4,117.4 497.4,116.9 498.4,116.5 499.5,116.0 500.5,115.5 501.5,115.1 502.5,114.6 503.6,114.1 504.6,113.7 505.6,113.2 506.7,112.7 507.7,112.2 508.7,111.8 509.7,111.3 510.8,110.8 511.8,110.4 512.8,109.9 513.9,109.4 514.9,109.0 515.9,108.5 517.0,108.0 518.0,107.6 519.0,107.1 520.0,106.6 521.1,106.2 522.1,105.7 523.1,105.2 524.2,104.7 525.2,104.3 526.2,103.8 527.2,103.3 528.3,102.9 529.3,102.4 530.3,101.9 531.4,101.5 532.4,101.0 533.4,100.5 534.4,100.1 535.5,99.6 536.5,99.1 537.5,98.7 538.6,98.2 539.6,97.7 540.6,97.2 541.6,96.8 542.7,96.3 543.7,95.8 544.7,95.4 545.8,94.9 546.8,94.4 547.8,94.0 548.9,93.5 549.9,93.0 550.9,92.6 551.9,92.1 553.0,91.6 554.0,91.1 555.0,90.7 556.1,90.2 557.1,89.7 558.1,89.3 559.1,88.8 560.2,88.3 561.2,87.9 562.2,87.4 563.3,86.9 564.3,86.5 565.3,86.0 566.3,85.5 567.4,85.1 568.4,84.6 569.4,84.1 570.5,83.6 571.5,83.2 572.5,82.7 573.6,82.2 573.6,112.7 572.5,113.1 571.5,113.4 570.5,113.8 569.4,114.2 568.4,114.6 567.4,115.0 566.3,115.4 565.3,115.8 564.3,116.2 563.3,116.5 562.2,116.9 561.2,117.3 560.2,117.7 559.1,118.1 558.1,118.5 557.1,118.9 556.1,119.2 555.0,119.6 554.0,120.0 553.0,120.4 551.9,120.8 550.9,121.2 549.9,121.6 548.9,122.0 547.8,122.3 546.8,122.7 545.8,123.1 544.7,123.5 543.7,123.9 542.7,124.3 541.6,124.7 540.6,125.0 539.6,125.4 538.6,125.8 537.5,126.2 536.5,126.6 535.5,127.0 534.4,127.4 533.4,127.8 532.4,128.1 531.4,128.5 530.3,128.9 529.3,129.3 528.3,129.7 527.2,130.1 526.2,130.5 525.2,130.8 524.2,131.2 523.1,131.6 522.1,132.0 521.1,132.4 520.0,132.8 519.0,133.2 518.0,133.6 517.0,133.9 515.9,134.3 514.9,134.7 513.9,135.1 512.8,135.5 511.8,135.9 510.8,136.3 509.7,136.6 508.7,137.0 507.7,137.4 506.7,137.8 505.6,138.2 504.6,138.6 503.6,139.0 502.5,139.4 501.5,139.7 500.5,140.1 499.5,140.5 498.4,140.9 497.4,141.3 496.4,141.7 495.3,142.1 494.3,142.4 493.3,142.8 492.3,143.2 491.2,143.6 490.2,144.0 489.2,144.4 488.1,144.8 487.1,145.2 486.1,145.6 485.1,146.0 484.0,146.4 483.0,146.8 482.0,147.2 480.9,147.6 479.9,148.0 478.9,148.4 477.8,148.8 476.8,149.2 475.8,149.6 474.8,150.0 473.7,150.4 472.7,150.7 471.7,151.1 470.6,151.5 469.6,151.9 468.6,152.3 467.6,152.7 466.5,153.1 465.5,153.5 464.5,153.9 463.4,154.3 462.4,154.7 461.4,155.1 460.4,155.5 459.3,155.9 458.3,156.3 457.3,156.7 456.2,157.1 455.2,157.5 454.2,157.9 453.1,158.3 452.1,158.7 451.1,159.1 450.1,159.5 449.0,159.8 448.0,160.1 447.0,160.4 445.9,160.7 444.9,161.1 443.9,161.4 442.9,161.7 441.8,162.0 440.8,162.3 439.8,162.6 438.7,162.9 437.7,163.3 436.7,163.6 435.7,163.9 434.6,164.2 433.6,164.5 432.6,164.8 431.5,165.1 430.5,165.5 429.5,165.8 428.5,166.1 427.4,166.4 426.4,166.7 425.4,167.0 424.3,167.3 423.3,167.7 422.3,168.0 421.2,168.3 420.2,168.6 419.2,168.9 418.2,169.2 417.1,169.6 416.1,169.9 415.1,170.2 414.0,170.5 413.0,170.8 412.0,171.1 411.0,171.4 409.9,171.8 408.9,172.1 407.9,172.4 406.8,172.7 405.8,173.0 404.8,173.4 403.8,173.7 402.7,174.0 401.7,174.3 400.7,174.6 399.6,175.0 398.6,175.3 397.6,175.6 396.6,175.9 395.5,176.2 394.5,176.6 393.5,176.9 392.4,177.2 391.4,177.5 390.4,177.8 389.3,178.1 388.3,178.4 387.3,178.7 386.3,179.0 385.2,179.3 384.2,179.6 383.2,179.9 382.1,180.2 381.1,180.5 380.1,180.7 379.1,181.0 378.0,181.3 377.0,181.5 376.0,181.7 374.9,181.9 373.9,182.1 372.9,182.3 371.9,182.5 370.8,182.7 369.8,182.8 368.8,182.9 367.7,183.0 366.7,183.1 365.7,183.2 364.7,183.3 363.6,183.3 362.6,183.4 361.6,183.3 360.5,183.3 359.5,183.2 358.5,183.0 357.4,182.9 356.4,182.7 355.4,182.4 354.4,182.1 353.3,181.7 352.3,181.3 351.3,180.9 350.2,180.4 349.2,179.9 348.2,179.3 347.2,178.7 346.1,178.0 345.1,177.3 344.1,176.6 343.0,175.8 342.0,174.9 341.0,174.1 340.0,173.2 338.9,172.2 337.9,171.2 336.9,170.3 335.8,169.2 334.8,168.2 333.8,167.1 332.7,166.1 331.7,165.0 330.7,163.9 329.7,162.8 328.6,161.7 327.6,160.6 326.6,159.4 325.5,158.3 324.5,157.2 323.5,156.1 322.5,155.0 321.4,154.0 320.4,152.9 319.4,151.9 318.3,150.8 317.3,149.8 316.3,148.9 315.3,147.9 314.2,147.0 313.2,146.1 312.2,145.3 311.1,144.4 310.1,143.6 309.1,142.9 308.1,142.1 307.0,141.4 306.0,140.8 305.0,140.2 303.9,139.6 302.9,139.0 301.9,138.5 300.8,138.1 299.8,137.6 298.8,137.2 297.8,136.9 296.7,136.6 295.7,136.3 294.7,136.0 293.6,135.8 292.6,135.7 291.6,135.6 290.6,135.5 289.5,135.5 288.5,135.5 287.5,135.5 286.4,135.6 285.4,135.7 284.4,135.9 283.4,136.1 282.3,136.4 281.3,136.7 280.3,137.0 279.2,137.4 278.2,137.8 277.2,138.2 276.2,138.7 275.1,139.2 274.1,139.7 273.1,140.3 272.0,140.9 271.0,141.5 270.0,142.1 268.9,142.8 267.9,143.5 266.9,144.2 265.9,145.0 264.8,145.7 263.8,146.5 262.8,147.3 261.7,148.2 260.7,149.1 259.7,149.9 258.7,150.9 257.6,151.8 256.6,152.7 255.6,153.7 254.5,154.7 253.5,155.7 252.5,156.7 251.5,157.8 250.4,158.8 249.4,159.9 248.4,161.0 247.3,162.1 246.3,163.2 245.3,164.3 244.2,165.5 243.2,166.7 242.2,167.9 241.2,169.1 240.1,170.3 239.1,171.6 238.1,172.8 237.0,174.1 236.0,175.3 235.0,176.6 234.0,177.8 232.9,179.0 231.9,180.3 230.9,181.5 229.8,182.8 228.8,184.0 227.8,185.3 226.8,186.6 225.7,187.8 224.7,189.1 223.7,190.4 222.6,191.6 221.6,192.9 220.6,194.1 219.6,195.4 218.5,196.7 217.5,197.9 216.5,199.2 215.4,200.5 214.4,201.7 213.4,203.0 212.3,204.2 211.3,205.4 210.3,206.7 209.3,207.9 208.2,209.1 207.2,210.4 206.2,211.6 205.1,212.8 204.1,214.0 203.1,215.2 202.1,216.4 201.0,217.5 200.0,218.7 199.0,219.9 197.9,221.0 196.9,222.2 195.9,223.3 194.9,224.4 193.8,225.6 192.8,226.7 191.8,227.8 190.7,228.9 189.7,230.0 188.7,231.0 187.7,232.1 186.6,233.2 185.6,234.2 184.6,235.2 183.5,236.3 182.5,237.3 181.5,238.3 180.4,239.3 179.4,240.3 178.4,241.2 177.4,242.2 176.3,243.2 175.3,244.1 174.3,245.0 173.2,246.0 172.2,246.9 171.2,247.8 170.2,248.7 169.1,249.6 168.1,250.4 167.1,251.3 166.0,252.2 165.0,253.0 164.0,253.9 163.0,254.7 161.9,255.5 160.9,256.3 159.9,257.1 158.8,257.9 157.8,258.7 156.8,259.5 155.8,260.2 154.7,261.0 153.7,261.8 152.7,262.5 151.6,263.2 150.6,264.0 149.6,264.7 148.5,265.4 147.5,266.1 146.5,266.8 145.5,267.5 144.4,268.2 143.4,268.9 142.4,269.5 141.3,270.2 140.3,270.9 139.3,271.5 138.3,272.2 137.2,272.8 136.2,273.4 135.2,274.1 134.1,274.7 133.1,275.3 132.1,275.9 131.1,276.5 130.0,277.1 129.0,277.7 128.0,278.3 126.9,278.9 125.9,279.5 124.9,280.1 123.8,280.7 122.8,281.2 121.8,281.8 120.8,282.4 119.7,282.9 118.7,283.5 117.7,284.0 116.6,284.6 115.6,285.1 114.6,285.7 113.6,286.2 112.5,286.7 111.5,287.2 110.5,287.7 109.4,288.2 108.4,288.6 107.4,289.1 106.4,289.6 105.3,290.0 104.3,290.5 103.3,291.0 102.2,291.4 101.2,291.9 100.2,292.3 99.2,292.8 98.1,293.2 97.1,293.7 96.1,294.1 95.0,294.5 94.0,295.0 93.0,295.4 91.9,295.8 90.9,296.2 89.9,296.6 88.9,297.0 87.8,297.4 86.8,297.8 85.8,298.2 84.7,298.6 83.7,299.0 82.7,299.4 81.7,299.8 80.6,300.2 79.6,300.6 Z" fill="#2ca02c" fill-opacity="0.2" stroke="none"/>
<path d="M79.6,294.9 80.6,294.5 81.7,294.1 82.7,293.7 83.7,293.4 84.7,293.0 85.8,292.6 86.8,292.2 87.8,291.8 88.9,291.4 89.9,291.1 90.9,290.7 91.9,290.3 93.0,289.9 94.0,289.5 95.0,289.1 96.1,288.7 97.1,288.3 98.1,287.8 99.2,287.4 100.2,287.0 101.2,286.6 102.2,286.1 103.3,285.7 104.3,285.2 105.3,284.8 106.4,284.4 107.4,283.9 108.4,283.5 109.4,283.0 110.5,282.5 111.5,282.1 112.5,281.6 113.6,281.1 114.6,280.6 115.6,280.1 116.6,279.6 117.7,279.0 118.7,278.5 119.7,278.0 120.8,277.4 121.8,276.9 122.8,276.3 123.8,275.8 124.9,275.2 125.9,274.7 126.9,274.1 128.0,273.5 129.0,273.0 130.0,272.4 131.1,271.8 132.1,271.2 133.1,270.6 134.1,270.0 135.2,269.4 136.2,268.8 137.2,268.2 138.3,267.6 139.3,266.9 140.3,266.3 141.3,265.7 142.4,265.0 143.4,264.4 144.4,263.7 145.5,263.1 146.5,262.4 147.5,261.7 148.5,261.0 149.6,260.3 150.6,259.6 151.6,258.9 152.7,258.2 153.7,257.5 154.7,256.7 155.8,256.0 156.8,255.3 157.8,254.5 158.8,253.7 159.9,253.0 160.9,252.2 161.9,251.4 163.0,250.6 164.0,249.8 165.0,249.0 166.0,248.1 167.1,247.3 168.1,246.5 169.1,245.6 170.2,244.7 171.2,243.9 172.2,243.0 173.2,242.1 174.3,241.2 175.3,240.3 176.3,239.3 177.4,238.4 178.4,237.5 179.4,236.5 180.4,235.5 181.5,234.6 182.5,233.6 183.5,232.6 184.6,231.6 185.6,230.6 186.6,229.5 187.7,228.5 188.7,227.5 189.7,226.4 190.7,225.3 191.8,224.3 192.8,223.2 193.8,222.1 194.9,221.0 195.9,219.9 196.9,218.8 197.9,217.6 199.0,216.5 200.0,215.4 201.0,214.2 202.1,213.0 203.1,211.9 204.1,210.7 205.1,209.5 206.2,208.3 207.2,207.1 208.2,205.9 209.3,204.7 210.3,203.5 211.3,202.3 212.3,201.1 213.4,199.9 214.4,198.6 215.4,197.4 216.5,196.2 217.5,194.9 218.5,193.7 219.6,192.5 220.6,191.2 221.6,190.0 222.6,188.7 223.7,187.5 224.7,186.2 225.7,185.0 226.8,183.7 227.8,182.5 228.8,181.3 229.8,180.0 230.9,178.8 231.9,177.6 232.9,176.3 234.0,175.1 235.0,173.9 236.0,172.7 237.0,171.5 238.1,170.2 239.1,169.0 240.1,167.8 241.2,166.6 242.2,165.4 243.2,164.2 244.2,163.0 245.3,161.9 246.3,160.7 247.3,159.6 248.4,158.4 249.4,157.3 250.4,156.2 251.5,155.1 252.5,154.1 253.5,153.0 254.5,152.0 255.6,151.0 256.6,150.0 257.6,149.0 258.7,148.1 259.7,147.1 260.7,146.2 261.7,145.3 262.8,144.4 263.8,143.6 264.8,142.8 265.9,142.0 266.9,141.2 267.9,140.5 268.9,139.7 270.0,139.0 271.0,138.4 272.0,137.7 273.1,137.1 274.1,136.6 275.1,136.0 276.2,135.5 277.2,135.0 278.2,134.5 279.2,134.1 280.3,133.7 281.3,133.4 282.3,133.1 283.4,132.8 284.4,132.5 285.4,132.3 286.4,132.2 287.5,132.1 288.5,132.0 289.5,132.0 290.6,132.0 291.6,132.0 292.6,132.1 293.6,132.2 294.7,132.4 295.7,132.6 296.7,132.8 297.8,133.1 298.8,133.4 299.8,133.8 300.8,134.1 301.9,134.6 302.9,135.0 303.9,135.5 305.0,136.1 306.0,136.7 307.0,137.3 308.1,137.9 309.1,138.6 310.1,139.4 311.1,140.1 312.2,140.9 313.2,141.7 314.2,142.6 315.3,143.4 316.3,144.3 317.3,145.3 318.3,146.2 319.4,147.2 320.4,148.2 321.4,149.2 322.5,150.3 323.5,151.3 324.5,152.4 325.5,153.4 326.6,154.5 327.6,155.6 328.6,156.7 329.7,157.8 330.7,158.8 331.7,159.9 332.7,161.0 333.8,162.0 334.8,163.0 335.8,164.0 336.9,165.0 337.9,166.0 338.9,166.9 340.0,167.8 341.0,168.7 342.0,169.6 343.0,170.4 344.1,171.1 345.1,171.9 346.1,172.5 347.2,173.2 348.2,173.8 349.2,174.3 350.2,174.8 351.3,175.3 352.3,175.7 353.3,176.1 354.4,176.4 355.4,176.7 356.4,176.9 357.4,177.1 358.5,177.2 359.5,177.3 360.5,177.4 361.6,177.4 362.6,177.4 363.6,177.4 364.7,177.3 365.7,177.2 366.7,177.1 367.7,176.9 368.8,176.7 369.8,176.5 370.8,176.3 371.9,176.0 372.9,175.8 373.9,175.5 374.9,175.2 376.0,174.9 377.0,174.6 378.0,174.2 379.1,173.9 380.1,173.5 381.1,173.2 382.1,172.8 383.2,172.4 384.2,172.0 385.2,171.6 386.3,171.2 387.3,170.9 388.3,170.5 389.3,170.1 390.4,169.7 391.4,169.2 392.4,168.8 393.5,168.4 394.5,168.0 395.5,167.6 396.6,167.2 397.6,166.8 398.6,166.4 399.6,165.9 400.7,165.5 401.7,165.1 402.7,164.7 403.8,164.3 404.8,163.9 405.8,163.5 406.8,163.0 407.9,162.6 408.9,162.2 409.9,161.8 411.0,161.4 412.0,160.9 413.0,160.5 414.0,160.1 415.1,159.7 416.1,159.3 417.1,158.9 418.2,158.4 419.2,158.0 420.2,157.6 421.2,157.2 422.3,156.8 423.3,156.4 424.3,155.9 425.4,155.5 426.4,155.1 427.4,154.7 428.5,154.3 429.5,153.8 430.5,153.4 431.5,153.0 432.6,152.6 433.6,152.2 434.6,151.8 435.7,151.3 436.7,150.9 437.7,150.5 438.7,150.1 439.8,149.7 440.8,149.3 441.8,148.8 442.9,148.4 443.9,148.0 444.9,147.6 445.9,147.2 447.0,146.8 448.0,146.3 449.0,145.9 450.1,145.5 451.1,145.1 452.1,144.7 453.1,144.2 454.2,143.8 455.2,143.4 456.2,143.0 457.3,142.6 458.3,142.2 459.3,141.7 460.4,141.3 461.4,140.9 462.4,140.5 463.4,140.1 464.5,139.7 465.5,139.2 466.5,138.8 467.6,138.4 468.6,138.0 469.6,137.6 470.6,137.1 471.7,136.7 472.7,136.3 473.7,135.9 474.8,135.5 475.8,135.1 476.8,134.6 477.8,134.2 478.9,133.8 479.9,133.4 480.9,133.0 482.0,132.6 483.0,132.1 484.0,131.7 485.1,131.3 486.1,130.9 487.1,130.5 488.1,130.1 489.2,129.6 490.2,129.2 491.2,128.8 492.3,128.4 493.3,128.0 494.3,127.5 495.3,127.1 496.4,126.7 497.4,126.3 498.4,125.9 499.5,125.5 500.5,125.0 501.5,124.6 502.5,124.2 503.6,123.8 504.6,123.4 505.6,123.0 506.7,122.5 507.7,122.1 508.7,121.7 509.7,121.3 510.8,120.9 511.8,120.4 512.8,120.0 513.9,119.6 514.9,119.2 515.9,118.8 517.0,118.4 518.0,117.9 519.0,117.5 520.0,117.1 521.1,116.7 522.1,116.3 523.1,115.9 524.2,115.4 525.2,115.0 526.2,114.6 527.2,114.2 528.3,113.8 529.3,113.4 530.3,112.9 531.4,112.5 532.4,112.1 533.4,111.7 534.4,111.3 535.5,110.8 536.5,110.4 537.5,110.0 538.6,109.6 539.6,109.2 540.6,108.8 541.6,108.3 542.7,107.9 543.7,107.5 544.7,107.1 545.8,106.7 546.8,106.3 547.8,105.8 548.9,105.4 549.9,105.0 550.9,104.6 551.9,104.2 553.0,103.8 554.0,103.3 555.0,102.9 556.1,102.5 557.1,102.1 558.1,101.7 559.1,101.2 560.2,100.8 561.2,100.4 562.2,100.0 563.3,99.6 564.3,99.2 565.3,98.7 566.3,98.3 567.4,97.9 568.4,97.5 569.4,97.1 570.5,96.7 571.5,96.2 572.5,95.8 573.6,95.4" stroke="#2ca02c" stroke-width="2.08"/>
<path d="M79.6,321.9 80.6,321.4 81.7,321.0 82.7,320.6 83.7,320.1 84.7,319.7 85.8,319.2 86.8,318.8 87.8,318.3 88.9,317.9 89.9,317.4 90.9,317.0 91.9,316.5 93.0,316.1 94.0,315.6 95.0,315.2 96.1,314.7 97.1,314.2 98.1,313.7 99.2,313.3 100.2,312.8 101.2,312.3 102.2,311.8 103.3,311.3 104.3,310.8 105.3,310.3 106.4,309.8 107.4,309.3 108.4,308.8 109.4,308.3 110.5,307.8 111.5,307.3 112.5,306.8 113.6,306.3 114.6,305.7 115.6,305.1 116.6,304.6 117.7,304.0 118.7,303.4 119.7,302.9 120.8,302.3 121.8,301.7 122.8,301.2 123.8,300.6 124.9,300.0 125.9,299.4 126.9,298.8 128.0,298.2 129.0,297.6 130.0,297.0 131.1,296.4 132.1,295.8 133.1,295.2 134.1,294.6 135.2,294.0 136.2,293.4 137.2,292.8 138.3,292.1 139.3,291.5 140.3,290.9 141.3,290.2 142.4,289.6 143.4,289.0 144.4,288.3 145.5,287.7 146.5,287.0 147.5,286.3 148.5,285.7 149.6,285.0 150.6,284.3 151.6,283.6 152.7,282.9 153.7,282.2 154.7,281.5 155.8,280.8 156.8,280.1 157.8,279.4 158.8,278.7 159.9,278.0 160.9,277.2 161.9,276.5 163.0,275.7 164.0,275.0 165.0,274.2 166.0,273.4 167.1,272.7 168.1,271.9 169.1,271.1 170.2,270.3 171.2,269.5 172.2,268.7 173.2,267.9 174.3,267.0 175.3,266.2 176.3,265.3 177.4,264.5 178.4,263.6 179.4,262.7 180.4,261.9 181.5,261.0 182.5,260.1 183.5,259.2 184.6,258.3 185.6,257.3 186.6,256.4 187.7,255.4 188.7,254.5 189.7,253.5 190.7,252.5 191.8,251.6 192.8,250.6 193.8,249.6 194.9,248.5 195.9,247.5 196.9,246.5 197.9,245.4 199.0,244.4 200.0,243.3 201.0,242.2 202.1,241.1 203.1,240.1 204.1,238.9 205.1,237.8 206.2,236.7 207.2,235.6 208.2,234.4 209.3,233.3 210.3,232.1 211.3,230.9 212.3,229.7 213.4,228.6 214.4,227.3 215.4,226.1 216.5,224.9 217.5,223.7 218.5,222.5 219.6,221.2 220.6,220.0 221.6,218.7 222.6,217.4 223.7,216.2 224.7,214.9 225.7,213.6 226.8,212.3 227.8,211.0 228.8,209.7 229.8,208.4 230.9,207.0 231.9,205.7 232.9,204.4 234.0,203.1 235.0,201.7 236.0,200.4 237.0,199.0 238.1,197.6 239.1,196.2 240.1,194.8 241.2,193.4 242.2,192.0 243.2,190.7 244.2,189.3 245.3,187.8 246.3,186.4 247.3,184.9 248.4,183.5 249.4,182.0 250.4,180.6 251.5,179.1 252.5,177.7 253.5,176.3 254.5,174.9 255.6,173.4 256.6,172.0 257.6,170.6 258.7,169.2 259.7,167.8 260.7,166.4 261.7,165.1 262.8,163.7 263.8,162.3 264.8,161.0 265.9,159.7 266.9,158.3 267.9,157.0 268.9,155.7 270.0,154.4 271.0,153.1 272.0,151.9 273.1,150.6 274.1,149.4 275.1,148.2 276.2,147.0 277.2,145.8 278.2,144.7 279.2,143.5 280.3,142.4 281.3,141.3 282.3,140.2 283.4,139.2 284.4,138.1 285.4,137.1 286.4,136.2 287.5,135.2 288.5,134.3 289.5,133.4 290.6,132.6 291.6,131.8 292.6,131.0 293.6,130.2 294.7,129.4 295.7,128.7 296.7,128.0 297.8,127.4 298.8,126.7 299.8,126.1 300.8,125.6 301.9,125.0 302.9,124.5 303.9,124.0 305.0,123.6 306.0,123.2 307.0,122.8 308.1,122.5 309.1,122.2 310.1,121.9 311.1,121.7 312.2,121.5 313.2,121.4 314.2,121.3 315.3,121.2 316.3,121.2 317.3,121.2 318.3,121.2 319.4,121.3 320.4,121.4 321.4,121.6 322.5,121.8 323.5,122.0 324.5,122.3 325.5,122.6 326.6,123.0 327.6,123.4 328.6,123.9 329.7,124.3 330.7,124.9 331.7,125.4 332.7,126.0 333.8,126.7 334.8,127.4 335.8,128.1 336.9,128.8 337.9,129.6 338.9,130.4 340.0,131.2 341.0,132.1 342.0,133.0 343.0,133.9 344.1,134.8 345.1,135.8 346.1,136.8 347.2,137.8 348.2,138.8 349.2,139.8 350.2,140.9 351.3,141.9 352.3,143.0 353.3,144.0 354.4,145.1 355.4,146.1 356.4,147.2 357.4,148.2 358.5,149.2 359.5,150.2 360.5,151.2 361.6,152.2 362.6,153.1 363.6,154.0 364.7,154.9 365.7,155.8 366.7,156.6 367.7,157.4 368.8,158.1 369.8,158.9 370.8,159.5 371.9,160.2 372.9,160.8 373.9,161.3 374.9,161.8 376.0,162.2 377.0,162.6 378.0,163.0 379.1,163.3 380.1,163.5 381.1,163.7 382.1,163.9 383.2,164.0 384.2,164.0 385.2,164.1 386.3,164.1 387.3,164.0 388.3,163.9 389.3,163.8 390.4,163.6 391.4,163.4 392.4,163.2 393.5,163.0 394.5,162.7 395.5,162.4 396.6,162.1 397.6,161.7 398.6,161.4 399.6,161.0 400.7,160.6 401.7,160.2 402.7,159.8 403.8,159.4 404.8,158.9 405.8,158.5 406.8,158.0 407.9,157.6 408.9,157.1 409.9,156.6 411.0,156.0 412.0,155.5 413.0,155.0 414.0,154.4 415.1,153.9 416.1,153.4 417.1,152.8 418.2,152.3 419.2,151.7 420.2,151.2 421.2,150.6 422.3,150.1 423.3,149.5 424.3,149.0 425.4,148.4 426.4,147.9 427.4,147.3 428.5,146.8 429.5,146.2 430.5,145.7 431.5,145.1 432.6,144.6 433.6,144.0 434.6,143.4 435.7,142.9 436.7,142.3 437.7,141.8 438.7,141.2 439.8,140.7 440.8,140.1 441.8,139.6 442.9,139.0 443.9,138.5 444.9,137.9 445.9,137.3 447.0,136.8 448.0,136.2 449.0,135.7 450.1,135.1 451.1,134.5 452.1,134.0 453.1,133.4 454.2,132.8 455.2,132.2 456.2,131.7 457.3,131.1 458.3,130.5 459.3,129.9 460.4,129.4 461.4,128.8 462.4,128.2 463.4,127.6 464.5,127.1 465.5,126.5 466.5,125.9 467.6,125.3 468.6,124.8 469.6,124.2 470.6,123.6 471.7,123.0 472.7,122.5 473.7,121.9 474.8,121.3 475.8,120.7 476.8,120.2 477.8,119.6 478.9,119.0 479.9,118.4 480.9,117.9 482.0,117.3 483.0,116.7 484.0,116.1 485.1,115.6 486.1,115.0 487.1,114.4 488.1,113.8 489.2,113.3 490.2,112.7 491.2,112.1 492.3,111.5 493.3,111.0 494.3,110.4 495.3,109.8 496.4,109.2 497.4,108.7 498.4,108.1 499.5,107.5 500.5,106.9 501.5,106.4 502.5,105.8 503.6,105.2 504.6,104.6 505.6,104.1 506.7,103.5 507.7,102.9 508.7,102.3 509.7,101.8 510.8,101.2 511.8,100.6 512.8,100.0 513.9,99.5 514.9,98.9 515.9,98.3 517.0,97.7 518.0,97.2 519.0,96.6 520.0,96.0 521.1,95.4 522.1,94.9 523.1,94.3 524.2,93.7 525.2,93.1 526.2,92.6 527.2,92.0 528.3,91.4 529.3,90.8 530.3,90.3 531.4,89.7 532.4,89.1 533.4,88.5 534.4,88.0 535.5,87.4 536.5,86.8 537.5,86.2 538.6,85.7 539.6,85.1 540.6,84.5 541.6,83.9 542.7,83.4 543.7,82.8 544.7,82.2 545.8,81.6 546.8,81.1 547.8,80.5 548.9,79.9 549.9,79.3 550.9,78.8 551.9,78.2 553.0,77.6 554.0,77.0 555.0,76.4 556.1,75.9 557.1,75.3 558.1,74.7 559.1,74.1 560.2,73.6 561.2,73.0 562.2,72.4 563.3,71.8 564.3,71.3 565.3,70.7 566.3,70.1 567.4,69.5 568.4,69.0 569.4,68.4 570.5,67.8 571.5,67.2 572.5,66.7 573.6,66.1 573.6,95.7 572.5,96.2 571.5,96.6 570.5,97.1 569.4,97.5 568.4,98.0 567.4,98.4 566.3,98.9 565.3,99.3 564.3,99.8 563.3,100.2 562.2,100.7 561.2,101.1 560.2,101.6 559.1,102.0 558.1,102.5 557.1,102.9 556.1,103.4 555.0,103.8 554.0,104.3 553.0,104.7 551.9,105.2 550.9,105.6 549.9,106.1 548.9,106.5 547.8,107.0 546.8,107.5 545.8,107.9 544.7,108.4 543.7,108.8 542.7,109.3 541.6,109.7 540.6,110.2 539.6,110.6 538.6,111.1 537.5,111.5 536.5,112.0 535.5,112.4 534.4,112.9 533.4,113.3 532.4,113.8 531.4,114.2 530.3,114.7 529.3,115.1 528.3,115.6 527.2,116.0 526.2,116.5 525.2,116.9 524.2,117.4 523.1,117.8 522.1,118.3 521.1,118.7 520.0,119.2 519.0,119.7 518.0,120.1 517.0,120.6 515.9,121.0 514.9,121.5 513.9,121.9 512.8,122.4 511.8,122.8 510.8,123.3 509.7,123.7 508.7,124.2 507.7,124.6 506.7,125.1 505.6,125.5 504.6,126.0 503.6,126.4 502.5,126.9 501.5,127.3 500.5,127.8 499.5,128.2 498.4,128.7 497.4,129.1 496.4,129.6 495.3,130.0 494.3,130.5 493.3,130.9 492.3,131.4 491.2,131.9 490.2,132.3 489.2,132.8 488.1,133.2 487.1,133.7 486.1,134.1 485.1,134.6 484.0,135.0 483.0,135.5 482.0,135.9 480.9,136.4 479.9,136.8 478.9,137.3 477.8,137.7 476.8,138.2 475.8,138.6 474.8,139.1 473.7,139.5 472.7,140.0 471.7,140.4 470.6,140.9 469.6,141.3 468.6,141.8 467.6,142.2 466.5,142.7 465.5,143.1 464.5,143.6 463.4,144.1 462.4,144.5 461.4,145.0 460.4,145.4 459.3,145.9 458.3,146.3 457.3,146.8 456.2,147.2 455.2,147.7 454.2,148.1 453.1,148.6 452.1,149.0 451.1,149.5 450.1,149.9 449.0,150.4 448.0,150.9 447.0,151.3 445.9,151.8 444.9,152.3 443.9,152.8 442.9,153.2 441.8,153.7 440.8,154.2 439.8,154.7 438.7,155.1 437.7,155.6 436.7,156.1 435.7,156.5 434.6,157.0 433.6,157.5 432.6,158.0 431.5,158.4 430.5,158.9 429.5,159.4 428.5,159.8 427.4,160.3 426.4,160.8 425.4,161.3 424.3,161.7 423.3,162.2 422.3,162.7 421.2,163.1 420.2,163.6 419.2,164.1 418.2,164.5 417.1,165.0 416.1,165.5 415.1,165.9 414.0,166.4 413.0,166.8 412.0,167.3 411.0,167.7 409.9,168.2 408.9,168.6 407.9,169.1 406.8,169.6 405.8,170.0 404.8,170.5 403.8,171.0 402.7,171.4 401.7,171.8 400.7,172.2 399.6,172.7 398.6,173.0 397.6,173.4 396.6,173.8 395.5,174.1 394.5,174.4 393.5,174.7 392.4,175.0 391.4,175.2 390.4,175.4 389.3,175.6 388.3,175.7 387.3,175.9 386.3,175.9 385.2,176.0 384.2,176.0 383.2,175.9 382.1,175.8 381.1,175.7 380.1,175.5 379.1,175.3 378.0,175.0 377.0,174.7 376.0,174.3 374.9,173.9 373.9,173.4 372.9,172.9 371.9,172.3 370.8,171.7 369.8,171.0 368.8,170.3 367.7,169.5 366.7,168.7 365.7,167.8 364.7,166.9 363.6,166.0 362.6,165.0 361.6,164.0 360.5,163.0 359.5,162.0 358.5,160.9 357.4,159.8 356.4,158.7 355.4,157.6 354.4,156.5 353.3,155.4 352.3,154.3 351.3,153.2 350.2,152.1 349.2,151.0 348.2,149.9 347.2,148.8 346.1,147.7 345.1,146.7 344.1,145.7 343.0,144.7 342.0,143.7 341.0,142.8 340.0,141.8 338.9,140.9 337.9,140.1 336.9,139.2 335.8,138.4 334.8,137.7 333.8,137.0 332.7,136.3 331.7,135.6 330.7,135.0 329.7,134.4 328.6,133.8 327.6,133.3 326.6,132.9 325.5,132.4 324.5,132.0 323.5,131.7 322.5,131.3 321.4,131.0 320.4,130.8 319.4,130.6 318.3,130.4 317.3,130.3 316.3,130.2 315.3,130.2 314.2,130.2 313.2,130.2 312.2,130.3 311.1,130.4 310.1,130.5 309.1,130.7 308.1,130.9 307.0,131.1 306.0,131.4 305.0,131.8 303.9,132.1 302.9,132.5 301.9,132.9 300.8,133.4 299.8,133.9 298.8,134.4 297.8,134.9 296.7,135.5 295.7,136.1 294.7,136.8 293.6,137.4 292.6,138.1 291.6,138.9 290.6,139.6 289.5,140.4 288.5,141.2 287.5,142.1 286.4,142.9 285.4,143.8 284.4,144.7 283.4,145.7 282.3,146.7 281.3,147.7 280.3,148.8 279.2,149.8 278.2,150.9 277.2,152.0 276.2,153.1 275.1,154.2 274.1,155.4 273.1,156.5 272.0,157.7 271.0,158.9 270.0,160.1 268.9,161.3 267.9,162.5 266.9,163.8 265.9,165.0 264.8,166.3 263.8,167.6 262.8,168.9 261.7,170.2 260.7,171.5 259.7,172.8 258.7,174.1 257.6,175.5 256.6,176.8 255.6,178.1 254.5,179.5 253.5,180.8 252.5,182.2 251.5,183.6 250.4,184.9 249.4,186.3 248.4,187.7 247.3,189.1 246.3,190.4 245.3,191.8 244.2,193.2 243.2,194.6 242.2,196.1 241.2,197.5 240.1,198.9 239.1,200.4 238.1,201.8 237.0,203.2 236.0,204.7 235.0,206.0 234.0,207.4 232.9,208.8 231.9,210.2 230.9,211.5 229.8,212.9 228.8,214.2 227.8,215.6 226.8,216.9 225.7,218.3 224.7,219.6 223.7,220.9 222.6,222.2 221.6,223.5 220.6,224.9 219.6,226.1 218.5,227.4 217.5,228.7 216.5,230.0 215.4,231.2 214.4,232.5 213.4,233.7 212.3,235.0 211.3,236.2 210.3,237.4 209.3,238.6 208.2,239.8 207.2,241.0 206.2,242.2 205.1,243.3 204.1,244.5 203.1,245.6 202.1,246.8 201.0,247.9 200.0,249.0 199.0,250.1 197.9,251.2 196.9,252.3 195.9,253.4 194.9,254.5 193.8,255.5 192.8,256.6 191.8,257.6 190.7,258.6 189.7,259.6 188.7,260.7 187.7,261.6 186.6,262.6 185.6,263.6 184.6,264.6 183.5,265.5 182.5,266.5 181.5,267.4 180.4,268.4 179.4,269.3 178.4,270.2 177.4,271.1 176.3,272.0 175.3,272.9 174.3,273.8 173.2,274.6 172.2,275.5 171.2,276.4 170.2,277.2 169.1,278.0 168.1,278.9 167.1,279.7 166.0,280.5 165.0,281.3 164.0,282.1 163.0,282.9 161.9,283.7 160.9,284.5 159.9,285.3 158.8,286.0 157.8,286.8 156.8,287.5 155.8,288.3 154.7,289.0 153.7,289.7 152.7,290.5 151.6,291.2 150.6,291.9 149.6,292.6 148.5,293.3 147.5,294.0 146.5,294.7 145.5,295.4 144.4,296.1 143.4,296.8 142.4,297.5 141.3,298.1 140.3,298.8 139.3,299.5 138.3,300.1 137.2,300.8 136.2,301.4 135.2,302.1 134.1,302.7 133.1,303.4 132.1,304.0 131.1,304.7 130.0,305.3 129.0,305.9 128.0,306.6 126.9,307.2 125.9,307.8 124.9,308.4 123.8,309.0 122.8,309.6 121.8,310.3 120.8,310.9 119.7,311.5 118.7,312.1 117.7,312.7 116.6,313.3 115.6,313.9 114.6,314.5 113.6,315.0 112.5,315.6 111.5,316.2 110.5,316.7 109.4,317.2 108.4,317.8 107.4,318.3 106.4,318.8 105.3,319.4 104.3,319.9 103.3,320.4 102.2,320.9 101.2,321.5 100.2,322.0 99.2,322.5 98.1,323.0 97.1,323.5 96.1,324.0 95.0,324.5 94.0,325.0 93.0,325.5 91.9,326.0 90.9,326.5 89.9,327.0 88.9,327.4 87.8,327.9 86.8,328.4 85.8,328.9 84.7,329.4 83.7,329.8 82.7,330.3 81.7,330.8 80.6,331.3 79.6,331.8 Z" fill="#9467bd" fill-opacity="0.2" stroke="none"/>
<path d="M79.6,326.8 80.6,326.4 81.7,325.9 82.7,325.4 83.7,325.0 84.7,324.5 85.8,324.1 86.8,323.6 87.8,323.1 88.9,322.7 89.9,322.2 90.9,321.7 91.9,321.3 93.0,320.8 94.0,320.3 95.0,319.8 96.1,319.4 97.1,318.9 98.1,318.4 99.2,317.9 100.2,317.4 101.2,316.9 102.2,316.4 103.3,315.9 104.3,315.3 105.3,314.8 106.4,314.3 107.4,313.8 108.4,313.3 109.4,312.8 110.5,312.3 111.5,311.7 112.5,311.2 113.6,310.7 114.6,310.1 115.6,309.5 116.6,308.9 117.7,308.3 118.7,307.8 119.7,307.2 120.8,306.6 121.8,306.0 122.8,305.4 123.8,304.8 124.9,304.2 125.9,303.6 126.9,303.0 128.0,302.4 129.0,301.8 130.0,301.2 131.1,300.6 132.1,299.9 133.1,299.3 134.1,298.7 135.2,298.1 136.2,297.4 137.2,296.8 138.3,296.1 139.3,295.5 140.3,294.8 141.3,294.2 142.4,293.5 143.4,292.9 144.4,292.2 145.5,291.5 146.5,290.9 147.5,290.2 148.5,289.5 149.6,288.8 150.6,288.1 151.6,287.4 152.7,286.7 153.7,286.0 154.7,285.3 155.8,284.6 156.8,283.8 157.8,283.1 158.8,282.4 159.9,281.6 160.9,280.8 161.9,280.1 163.0,279.3 164.0,278.5 165.0,277.8 166.0,277.0 167.1,276.2 168.1,275.4 169.1,274.6 170.2,273.7 171.2,272.9 172.2,272.1 173.2,271.2 174.3,270.4 175.3,269.5 176.3,268.7 177.4,267.8 178.4,266.9 179.4,266.0 180.4,265.1 181.5,264.2 182.5,263.3 183.5,262.4 184.6,261.4 185.6,260.5 186.6,259.5 187.7,258.5 188.7,257.6 189.7,256.6 190.7,255.6 191.8,254.6 192.8,253.6 193.8,252.5 194.9,251.5 195.9,250.5 196.9,249.4 197.9,248.3 199.0,247.3 200.0,246.2 201.0,245.1 202.1,244.0 203.1,242.8 204.1,241.7 205.1,240.6 206.2,239.4 207.2,238.3 208.2,237.1 209.3,235.9 210.3,234.8 211.3,233.6 212.3,232.4 213.4,231.1 214.4,229.9 215.4,228.7 216.5,227.4 217.5,226.2 218.5,224.9 219.6,223.7 220.6,222.4 221.6,221.1 222.6,219.8 223.7,218.5 224.7,217.2 225.7,215.9 226.8,214.6 227.8,213.3 228.8,212.0 229.8,210.6 230.9,209.3 231.9,207.9 232.9,206.6 234.0,205.2 235.0,203.9 236.0,202.5 237.0,201.1 238.1,199.7 239.1,198.3 240.1,196.9 241.2,195.5 242.2,194.1 243.2,192.6 244.2,191.2 245.3,189.8 246.3,188.4 247.3,187.0 248.4,185.6 249.4,184.2 250.4,182.8 251.5,181.4 252.5,180.0 253.5,178.6 254.5,177.2 255.6,175.8 256.6,174.4 257.6,173.0 258.7,171.7 259.7,170.3 260.7,169.0 261.7,167.6 262.8,166.3 263.8,165.0 264.8,163.6 265.9,162.3 266.9,161.1 267.9,159.8 268.9,158.5 270.0,157.3 271.0,156.0 272.0,154.8 273.1,153.6 274.1,152.4 275.1,151.2 276.2,150.0 277.2,148.9 278.2,147.8 279.2,146.7 280.3,145.6 281.3,144.5 282.3,143.5 283.4,142.4 284.4,141.4 285.4,140.4 286.4,139.5 287.5,138.6 288.5,137.8 289.5,136.9 290.6,136.1 291.6,135.3 292.6,134.5 293.6,133.8 294.7,133.1 295.7,132.4 296.7,131.8 297.8,131.1 298.8,130.6 299.8,130.0 300.8,129.5 301.9,129.0 302.9,128.5 303.9,128.1 305.0,127.7 306.0,127.3 307.0,127.0 308.1,126.7 309.1,126.4 310.1,126.2 311.1,126.0 312.2,125.9 313.2,125.8 314.2,125.7 315.3,125.7 316.3,125.7 317.3,125.7 318.3,125.8 319.4,126.0 320.4,126.1 321.4,126.3 322.5,126.6 323.5,126.8 324.5,127.2 325.5,127.5 326.6,127.9 327.6,128.4 328.6,128.8 329.7,129.4 330.7,129.9 331.7,130.5 332.7,131.1 333.8,131.8 334.8,132.5 335.8,133.3 336.9,134.0 337.9,134.8 338.9,135.7 340.0,136.5 341.0,137.4 342.0,138.3 343.0,139.3 344.1,140.3 345.1,141.3 346.1,142.3 347.2,143.3 348.2,144.3 349.2,145.4 350.2,146.5 351.3,147.5 352.3,148.6 353.3,149.7 354.4,150.8 355.4,151.9 356.4,152.9 357.4,154.0 358.5,155.1 359.5,156.1 360.5,157.1 361.6,158.1 362.6,159.1 363.6,160.0 364.7,160.9 365.7,161.8 366.7,162.6 367.7,163.4 368.8,164.2 369.8,164.9 370.8,165.6 371.9,166.2 372.9,166.8 373.9,167.3 374.9,167.8 376.0,168.3 377.0,168.6 378.0,169.0 379.1,169.3 380.1,169.5 381.1,169.7 382.1,169.8 383.2,169.9 384.2,170.0 385.2,170.0 386.3,170.0 387.3,169.9 388.3,169.8 389.3,169.7 390.4,169.5 391.4,169.3 392.4,169.1 393.5,168.8 394.5,168.6 395.5,168.2 396.6,167.9 397.6,167.6 398.6,167.2 399.6,166.8 400.7,166.4 401.7,166.0 402.7,165.6 403.8,165.2 404.8,164.7 405.8,164.3 406.8,163.8 407.9,163.3 408.9,162.9 409.9,162.4 411.0,161.9 412.0,161.4 413.0,160.9 414.0,160.4 415.1,159.9 416.1,159.4 417.1,158.9 418.2,158.4 419.2,157.9 420.2,157.4 421.2,156.9 422.3,156.4 423.3,155.9 424.3,155.4 425.4,154.8 426.4,154.3 427.4,153.8 428.5,153.3 429.5,152.8 430.5,152.3 431.5,151.8 432.6,151.3 433.6,150.7 434.6,150.2 435.7,149.7 436.7,149.2 437.7,148.7 438.7,148.2 439.8,147.7 440.8,147.1 441.8,146.6 442.9,146.1 443.9,145.6 444.9,145.1 445.9,144.6 447.0,144.1 448.0,143.6 449.0,143.0 450.1,142.5 451.1,142.0 452.1,141.5 453.1,141.0 454.2,140.5 455.2,140.0 456.2,139.4 457.3,138.9 458.3,138.4 459.3,137.9 460.4,137.4 461.4,136.9 462.4,136.4 463.4,135.8 464.5,135.3 465.5,134.8 466.5,134.3 467.6,133.8 468.6,133.3 469.6,132.8 470.6,132.3 471.7,131.7 472.7,131.2 473.7,130.7 474.8,130.2 475.8,129.7 476.8,129.2 477.8,128.7 478.9,128.1 479.9,127.6 480.9,127.1 482.0,126.6 483.0,126.1 484.0,125.6 485.1,125.1 486.1,124.6 487.1,124.0 488.1,123.5 489.2,123.0 490.2,122.5 491.2,122.0 492.3,121.5 493.3,121.0 494.3,120.4 495.3,119.9 496.4,119.4 497.4,118.9 498.4,118.4 499.5,117.9 500.5,117.4 501.5,116.8 502.5,116.3 503.6,115.8 504.6,115.3 505.6,114.8 506.7,114.3 507.7,113.8 508.7,113.3 509.7,112.7 510.8,112.2 511.8,111.7 512.8,111.2 513.9,110.7 514.9,110.2 515.9,109.7 517.0,109.1 518.0,108.6 519.0,108.1 520.0,107.6 521.1,107.1 522.1,106.6 523.1,106.1 524.2,105.5 525.2,105.0 526.2,104.5 527.2,104.0 528.3,103.5 529.3,103.0 530.3,102.5 531.4,102.0 532.4,101.4 533.4,100.9 534.4,100.4 535.5,99.9 536.5,99.4 537.5,98.9 538.6,98.4 539.6,97.8 540.6,97.3 541.6,96.8 542.7,96.3 543.7,95.8 544.7,95.3 545.8,94.8 546.8,94.3 547.8,93.7 548.9,93.2 549.9,92.7 550.9,92.2 551.9,91.7 553.0,91.2 554.0,90.7 555.0,90.1 556.1,89.6 557.1,89.1 558.1,88.6 559.1,88.1 560.2,87.6 561.2,87.1 562.2,86.5 563.3,86.0 564.3,85.5 565.3,85.0 566.3,84.5 567.4,84.0 568.4,83.5 569.4,83.0 570.5,82.4 571.5,81.9 572.5,81.4 573.6,80.9" stroke="#9467bd" stroke-width="2.08"/>
<path d="M132.4,441.0 133.1,438.9 134.1,436.0 135.2,433.1 136.2,430.2 137.2,427.3 138.3,424.4 139.3,421.5 140.3,418.6 141.3,415.7 142.4,412.9 143.4,410.0 144.4,407.1 145.5,404.2 146.5,401.4 147.5,398.5 148.5,395.6 149.6,392.8 150.6,389.9 151.6,387.0 152.7,384.2 153.7,381.4 154.7,378.5 155.8,375.7 156.8,372.8 157.8,370.0 158.8,367.2 159.9,364.3 160.9,361.5 161.9,358.7 163.0,355.9 164.0,353.1 165.0,350.3 166.0,347.5 167.1,344.7 168.1,341.9 169.1,339.1 170.2,336.3 171.2,333.6 172.2,330.8 173.2,328.0 174.3,325.3 175.3,322.5 176.3,319.8 177.4,317.0 178.4,314.3 179.4,311.6 180.4,308.8 181.5,306.1 182.5,303.4 183.5,300.7 184.6,298.0 185.6,295.3 186.6,292.6 187.7,289.9 188.7,287.2 189.7,284.5 190.7,281.9 191.8,279.2 192.8,276.5 193.8,273.9 194.9,271.3 195.9,268.6 196.9,266.0 197.9,263.4 199.0,260.8 200.0,258.2 201.0,255.6 202.1,253.0 203.1,250.4 204.1,247.8 205.1,245.3 206.2,242.7 207.2,240.2 208.2,237.6 209.3,235.1 210.3,232.6 211.3,230.1 212.3,227.6 213.4,225.1 214.4,222.6 215.4,220.1 216.5,217.7 217.5,215.2 218.5,212.8 219.6,210.4 220.6,207.9 221.6,205.5 222.6,203.1 223.7,200.8 224.7,198.4 225.7,196.0 226.8,193.7 227.8,191.3 228.8,189.0 229.8,186.7 230.9,184.4 231.9,182.1 232.9,179.9 234.0,177.6 235.0,175.4 236.0,173.1 237.0,170.9 238.1,168.7 239.1,166.5 240.1,164.4 241.2,162.2 242.2,160.1 243.2,158.0 244.2,155.8 245.3,153.8 246.3,151.7 247.3,149.6 248.4,147.6 249.4,145.6 250.4,143.6 251.5,141.6 252.5,139.6 253.5,137.7 254.5,135.8 255.6,133.9 256.6,132.0 257.6,130.1 258.7,128.3 259.7,126.5 260.7,124.7 261.7,122.9 262.8,121.2 263.8,119.5 264.8,117.8 265.9,116.1 266.9,114.4 267.9,112.8 268.9,111.2 270.0,109.6 271.0,108.1 272.0,106.6 273.1,105.1 274.1,103.6 275.1,102.2 276.2,100.8 277.2,99.4 278.2,98.0 279.2,96.7 280.3,95.4 281.3,94.2 282.3,93.0 283.4,91.8 284.4,90.6 285.4,89.5 286.4,88.4 287.5,87.4 288.5,86.4 289.5,85.4 290.6,84.5 291.6,83.6 292.6,82.7 293.6,81.9 294.7,81.1 295.7,80.4 296.7,79.7 297.8,79.0 298.8,78.4 299.8,77.9 300.8,77.3 301.9,76.9 302.9,76.5 303.9,76.1 305.0,75.7 306.0,75.5 307.0,75.2 308.1,75.1 309.1,74.9 310.1,74.9 311.1,74.8" stroke="#d62728" stroke-width="2.08" stroke-dasharray="7.71,3.33" stroke-dashoffset="-1.60"/><path d="M311.1,74.8 312.2,74.9 313.2,75.0 314.2,75.1 315.3,75.3 316.3,75.6 317.3,75.9 318.3,76.3 319.4,76.7 320.4,77.2 321.4,77.8 322.5,78.4 323.5,79.1 324.5,79.9 325.5,80.7 326.6,81.6 327.6,82.6 328.6,83.7 329.7,84.8 330.7,86.0 331.7,87.2 332.7,88.6 333.8,90.0 334.8,91.5 335.8,93.1 336.9,94.7 337.9,96.4 338.9,98.3 340.0,100.2 341.0,102.2 342.0,104.2 343.0,106.4 344.1,108.7 345.1,111.0 346.1,113.5 347.2,116.0 348.2,118.6 349.2,121.3 350.2,124.2 351.3,127.1 352.3,130.1 353.3,133.2 354.4,136.5 355.4,139.8 356.4,143.3 357.4,146.8 358.5,150.5 359.5,154.3 360.5,158.1 361.6,162.2 362.6,166.3 363.6,170.5 364.7,174.9 365.7,179.4 366.7,184.0 367.7,188.7 368.8,193.6 369.8,198.6 370.8,203.7 371.9,209.0 372.9,214.4 373.9,219.9 374.9,225.6 376.0,231.4 377.0,237.4 378.0,243.5 379.1,249.7 380.1,256.1 381.1,262.7 382.1,269.4 383.2,276.3 384.2,283.3 385.2,290.5 386.3,297.8 387.3,305.3 388.3,313.0 389.3,320.9 390.4,328.9 391.4,337.1 392.4,345.5 393.5,354.1 394.5,362.8 395.5,371.8 396.6,380.9 397.6,390.2 398.6,399.7 399.6,409.5 400.7,419.4 401.7,429.5 402.7,439.8 402.8,441.0" stroke="#d62728" stroke-width="2.08" stroke-dasharray="7.71,3.33" stroke-dashoffset="417.16"/>
<path d="M151.3,441.0 151.6,440.0 152.7,437.1 153.7,434.2 154.7,431.3 155.8,428.4 156.8,425.5 157.8,422.6 158.8,419.7 159.9,416.8 160.9,413.9 161.9,411.0 163.0,408.1 164.0,405.3 165.0,402.4 166.0,399.5 167.1,396.6 168.1,393.8 169.1,390.9 170.2,388.0 171.2,385.2 172.2,382.3 173.2,379.5 174.3,376.6 175.3,373.8 176.3,370.9 177.4,368.1 178.4,365.3 179.4,362.4 180.4,359.6 181.5,356.8 182.5,354.0 183.5,351.2 184.6,348.3 185.6,345.5 186.6,342.7 187.7,339.9 188.7,337.2 189.7,334.4 190.7,331.6 191.8,328.8 192.8,326.0 193.8,323.3 194.9,320.5 195.9,317.7 196.9,315.0 197.9,312.2 199.0,309.5 200.0,306.8 201.0,304.0 202.1,301.3 203.1,298.6 204.1,295.9 205.1,293.2 206.2,290.5 207.2,287.8 208.2,285.1 209.3,282.4 210.3,279.7 211.3,277.1 212.3,274.4 213.4,271.7 214.4,269.1 215.4,266.4 216.5,263.8 217.5,261.2 218.5,258.6 219.6,255.9 220.6,253.3 221.6,250.7 222.6,248.1 223.7,245.6 224.7,243.0 225.7,240.4 226.8,237.9 227.8,235.3 228.8,232.8 229.8,230.2 230.9,227.7 231.9,225.2 232.9,222.7 234.0,220.2 235.0,217.7 236.0,215.2 237.0,212.8 238.1,210.3 239.1,207.9 240.1,205.4 241.2,203.0 242.2,200.6 243.2,198.2 244.2,195.8 245.3,193.4 246.3,191.1 247.3,188.7 248.4,186.4 249.4,184.1 250.4,181.7 251.5,179.4 252.5,177.1 253.5,174.9 254.5,172.6 255.6,170.4 256.6,168.1 257.6,165.9 258.7,163.7 259.7,161.5 260.7,159.3 261.7,157.2 262.8,155.0 263.8,152.9 264.8,150.8 265.9,148.7 266.9,146.6 267.9,144.5 268.9,142.5 270.0,140.5 271.0,138.5 272.0,136.5 273.1,134.5 274.1,132.6 275.1,130.6 276.2,128.7 277.2,126.8 278.2,125.0 279.2,123.1 280.3,121.3 281.3,119.5 282.3,117.7 283.4,115.9 284.4,114.2 285.4,112.5 286.4,110.8 287.5,109.1 288.5,107.5 289.5,105.9 290.6,104.3 291.6,102.7 292.6,101.2 293.6,99.7 294.7,98.2 295.7,96.8 296.7,95.4 297.8,94.0 298.8,92.6 299.8,91.3 300.8,90.0 301.9,88.7 302.9,87.5 303.9,86.3 305.0,85.1 306.0,84.0 307.0,82.9 308.1,81.8 309.1,80.8 310.1,79.8 311.1,78.8 312.2,77.9 313.2,77.1 314.2,76.2 315.3,75.4 316.3,74.7 317.3,74.0 318.3,73.3 319.4,72.7 320.4,72.1 321.4,71.5 322.5,71.0 323.5,70.6 324.5,70.2 325.5,69.9 326.6,69.6 327.6,69.3 328.6,69.1 329.7,68.9 330.7,68.8" stroke="#1f77b4" stroke-width="2.08" stroke-dasharray="7.71,3.33" stroke-dashoffset="-1.60"/><path d="M330.7,68.8 331.7,68.8 332.7,68.8 333.8,68.9 334.8,69.0 335.8,69.2 336.9,69.4 337.9,69.7 338.9,70.1 340.0,70.5 341.0,71.0 342.0,71.5 343.0,72.1 344.1,72.8 345.1,73.5 346.1,74.3 347.2,75.2 348.2,76.1 349.2,77.1 350.2,78.2 351.3,79.4 352.3,80.6 353.3,81.9 354.4,83.3 355.4,84.7 356.4,86.3 357.4,87.9 358.5,89.6 359.5,91.4 360.5,93.2 361.6,95.2 362.6,97.2 363.6,99.4 364.7,101.6 365.7,103.9 366.7,106.3 367.7,108.8 368.8,111.4 369.8,114.0 370.8,116.8 371.9,119.7 372.9,122.7 373.9,125.8 374.9,128.9 376.0,132.2 377.0,135.6 378.0,139.1 379.1,142.7 380.1,146.5 381.1,150.3 382.1,154.3 383.2,158.3 384.2,162.5 385.2,166.8 386.3,171.3 387.3,175.8 388.3,180.5 389.3,185.3 390.4,190.2 391.4,195.3 392.4,200.5 393.5,205.8 394.5,211.3 395.5,216.9 396.6,222.7 397.6,228.6 398.6,234.6 399.6,240.8 400.7,247.1 401.7,253.6 402.7,260.2 403.8,267.0 404.8,274.0 405.8,281.1 406.8,288.4 407.9,295.8 408.9,303.4 409.9,311.2 411.0,319.2 412.0,327.3 413.0,335.6 414.0,344.1 415.1,352.8 416.1,361.6 417.1,370.6 418.2,379.9 419.2,389.3 420.2,398.9 421.2,408.7 422.3,418.8 423.3,429.0 424.3,439.4 424.5,441.0" stroke="#1f77b4" stroke-width="2.08" stroke-dasharray="7.71,3.33" stroke-dashoffset="419.60"/>
<path d="M165.5,441.0 166.0,439.6 167.1,436.7 168.1,433.8 169.1,430.9 170.2,428.1 171.2,425.2 172.2,422.3 173.2,419.5 174.3,416.6 175.3,413.8 176.3,410.9 177.4,408.1 178.4,405.2 179.4,402.4 180.4,399.6 181.5,396.7 182.5,393.9 183.5,391.1 184.6,388.3 185.6,385.4 186.6,382.6 187.7,379.8 188.7,377.0 189.7,374.2 190.7,371.4 191.8,368.6 192.8,365.9 193.8,363.1 194.9,360.3 195.9,357.5 196.9,354.8 197.9,352.0 199.0,349.3 200.0,346.5 201.0,343.8 202.1,341.0 203.1,338.3 204.1,335.6 205.1,332.8 206.2,330.1 207.2,327.4 208.2,324.7 209.3,322.0 210.3,319.3 211.3,316.6 212.3,313.9 213.4,311.3 214.4,308.6 215.4,305.9 216.5,303.3 217.5,300.6 218.5,298.0 219.6,295.4 220.6,292.8 221.6,290.1 222.6,287.5 223.7,284.9 224.7,282.3 225.7,279.7 226.8,277.2 227.8,274.6 228.8,272.0 229.8,269.5 230.9,266.9 231.9,264.4 232.9,261.9 234.0,259.4 235.0,256.8 236.0,254.3 237.0,251.9 238.1,249.4 239.1,246.9 240.1,244.4 241.2,242.0 242.2,239.6 243.2,237.1 244.2,234.7 245.3,232.3 246.3,229.9 247.3,227.5 248.4,225.2 249.4,222.8 250.4,220.5 251.5,218.1 252.5,215.8 253.5,213.5 254.5,211.2 255.6,208.9 256.6,206.6 257.6,204.4 258.7,202.1 259.7,199.9 260.7,197.7 261.7,195.5 262.8,193.3 263.8,191.2 264.8,189.0 265.9,186.9 266.9,184.7 267.9,182.6 268.9,180.6 270.0,178.5 271.0,176.4 272.0,174.4 273.1,172.4 274.1,170.4 275.1,168.4 276.2,166.5 277.2,164.5 278.2,162.6 279.2,160.7 280.3,158.8 281.3,157.0 282.3,155.1 283.4,153.3 284.4,151.5 285.4,149.8 286.4,148.0 287.5,146.3 288.5,144.6 289.5,142.9 290.6,141.3 291.6,139.6 292.6,138.0 293.6,136.5 294.7,134.9 295.7,133.4 296.7,131.9 297.8,130.5 298.8,129.0 299.8,127.6 300.8,126.2 301.9,124.9 302.9,123.6 303.9,122.3 305.0,121.1 306.0,119.8 307.0,118.7 308.1,117.5 309.1,116.4 310.1,115.3 311.1,114.3 312.2,113.3 313.2,112.3 314.2,111.4 315.3,110.5 316.3,109.6 317.3,108.8 318.3,108.0 319.4,107.3 320.4,106.6 321.4,106.0 322.5,105.4 323.5,104.8 324.5,104.3 325.5,103.8 326.6,103.4 327.6,103.0 328.6,102.7 329.7,102.4 330.7,102.2 331.7,102.0 332.7,101.9 333.8,101.8" stroke="#ff7f0e" stroke-width="2.08" stroke-dasharray="7.71,3.33" stroke-dashoffset="-1.60"/><path d="M333.8,101.8 334.8,101.8 335.8,101.9 336.9,102.0 337.9,102.1 338.9,102.3 340.0,102.6 341.0,102.9 342.0,103.3 343.0,103.8 344.1,104.3 345.1,104.9 346.1,105.5 347.2,106.2 348.2,107.0 349.2,107.8 350.2,108.7 351.3,109.7 352.3,110.8 353.3,111.9 354.4,113.1 355.4,114.3 356.4,115.7 357.4,117.1 358.5,118.6 359.5,120.2 360.5,121.9 361.6,123.6 362.6,125.4 363.6,127.4 364.7,129.3 365.7,131.4 366.7,133.6 367.7,135.9 368.8,138.2 369.8,140.7 370.8,143.2 371.9,145.9 372.9,148.6 373.9,151.4 374.9,154.4 376.0,157.4 377.0,160.5 378.0,163.8 379.1,167.1 380.1,170.6 381.1,174.1 382.1,177.8 383.2,181.6 384.2,185.5 385.2,189.5 386.3,193.7 387.3,197.9 388.3,202.3 389.3,206.8 390.4,211.4 391.4,216.2 392.4,221.0 393.5,226.1 394.5,231.2 395.5,236.5 396.6,241.9 397.6,247.4 398.6,253.1 399.6,258.9 400.7,264.9 401.7,271.0 402.7,277.3 403.8,283.7 404.8,290.3 405.8,297.0 406.8,303.9 407.9,310.9 408.9,318.2 409.9,325.5 411.0,333.1 412.0,340.8 413.0,348.6 414.0,356.7 415.1,364.9 416.1,373.3 417.1,381.9 418.2,390.7 419.2,399.6 420.2,408.8 421.2,418.1 422.3,427.6 423.3,437.4 423.7,441.0" stroke="#ff7f0e" stroke-width="2.08" stroke-dasharray="7.71,3.33" stroke-dashoffset="385.56"/>
<path d="M138.2,441.0 138.3,440.8 139.3,438.0 140.3,435.2 141.3,432.4 142.4,429.6 143.4,426.8 144.4,424.0 145.5,421.2 146.5,418.5 147.5,415.7 148.5,412.9 149.6,410.2 150.6,407.4 151.6,404.7 152.7,401.9 153.7,399.2 154.7,396.5 155.8,393.7 156.8,391.0 157.8,388.3 158.8,385.6 159.9,382.9 160.9,380.2 161.9,377.5 163.0,374.8 164.0,372.1 165.0,369.5 166.0,366.8 167.1,364.1 168.1,361.5 169.1,358.8 170.2,356.2 171.2,353.6 172.2,350.9 173.2,348.3 174.3,345.7 175.3,343.1 176.3,340.5 177.4,337.9 178.4,335.4 179.4,332.8 180.4,330.2 181.5,327.7 182.5,325.1 183.5,322.6 184.6,320.1 185.6,317.6 186.6,315.1 187.7,312.6 188.7,310.1 189.7,307.6 190.7,305.1 191.8,302.7 192.8,300.2 193.8,297.8 194.9,295.4 195.9,292.9 196.9,290.5 197.9,288.1 199.0,285.8 200.0,283.4 201.0,281.0 202.1,278.7 203.1,276.4 204.1,274.0 205.1,271.7 206.2,269.4 207.2,267.2 208.2,264.9 209.3,262.6 210.3,260.4 211.3,258.2 212.3,256.0 213.4,253.8 214.4,251.6 215.4,249.4 216.5,247.3 217.5,245.2 218.5,243.0 219.6,240.9 220.6,238.9 221.6,236.8 222.6,234.7 223.7,232.7 224.7,230.7 225.7,228.7 226.8,226.7 227.8,224.8 228.8,222.8 229.8,220.9 230.9,219.0 231.9,217.2 232.9,215.3 234.0,213.5 235.0,211.7 236.0,209.9 237.0,208.1 238.1,206.4 239.1,204.6 240.1,203.0 241.2,201.3 242.2,199.6 243.2,198.0 244.2,196.4 245.3,194.9 246.3,193.3 247.3,191.8 248.4,190.3 249.4,188.9 250.4,187.4 251.5,186.0 252.5,184.7 253.5,183.3 254.5,182.0 255.6,180.8 256.6,179.5 257.6,178.3 258.7,177.1 259.7,176.0 260.7,174.9 261.7,173.8 262.8,172.8 263.8,171.8 264.8,170.8 265.9,169.9 266.9,169.0 267.9,168.1 268.9,167.3 270.0,166.6 271.0,165.9 272.0,165.2 273.1,164.5 274.1,163.9 275.1,163.4 276.2,162.9 277.2,162.4 278.2,162.0 279.2,161.6 280.3,161.3 281.3,161.1 282.3,160.9 283.4,160.7 284.4,160.6 285.4,160.5" stroke="#2ca02c" stroke-width="2.08" stroke-dasharray="7.71,3.33" stroke-dashoffset="-1.60"/><path d="M285.4,160.5 286.4,160.5 287.5,160.6 288.5,160.7 289.5,160.8 290.6,161.1 291.6,161.3 292.6,161.7 293.6,162.1 294.7,162.5 295.7,163.1 296.7,163.6 297.8,164.3 298.8,165.0 299.8,165.8 300.8,166.7 301.9,167.6 302.9,168.6 303.9,169.6 305.0,170.8 306.0,172.0 307.0,173.3 308.1,174.6 309.1,176.1 310.1,177.6 311.1,179.2 312.2,180.9 313.2,182.6 314.2,184.5 315.3,186.4 316.3,188.4 317.3,190.5 318.3,192.7 319.4,195.0 320.4,197.4 321.4,199.8 322.5,202.4 323.5,205.0 324.5,207.8 325.5,210.6 326.6,213.6 327.6,216.6 328.6,219.8 329.7,223.1 330.7,226.4 331.7,229.9 332.7,233.5 333.8,237.2 334.8,241.0 335.8,244.9 336.9,249.0 337.9,253.1 338.9,257.4 340.0,261.8 341.0,266.3 342.0,271.0 343.0,275.7 344.1,280.6 345.1,285.7 346.1,290.8 347.2,296.1 348.2,301.6 349.2,307.1 350.2,312.9 351.3,318.7 352.3,324.7 353.3,330.9 354.4,337.2 355.4,343.6 356.4,350.2 357.4,357.0 358.5,363.9 359.5,371.0 360.5,378.2 361.6,385.6 362.6,393.2 363.6,400.9 364.7,408.8 365.7,416.9 366.7,425.1 367.7,433.6 368.6,441.0" stroke="#2ca02c" stroke-width="2.08" stroke-dasharray="7.71,3.33" stroke-dashoffset="323.29"/>
<path d="M160.3,441.0 160.9,439.4 161.9,436.6 163.0,433.8 164.0,430.9 165.0,428.1 166.0,425.3 167.1,422.5 168.1,419.8 169.1,417.0 170.2,414.2 171.2,411.4 172.2,408.6 173.2,405.9 174.3,403.1 175.3,400.4 176.3,397.6 177.4,394.9 178.4,392.1 179.4,389.4 180.4,386.6 181.5,383.9 182.5,381.2 183.5,378.5 184.6,375.8 185.6,373.1 186.6,370.4 187.7,367.7 188.7,365.0 189.7,362.3 190.7,359.7 191.8,357.0 192.8,354.3 193.8,351.7 194.9,349.0 195.9,346.4 196.9,343.8 197.9,341.2 199.0,338.5 200.0,335.9 201.0,333.3 202.1,330.8 203.1,328.2 204.1,325.6 205.1,323.0 206.2,320.5 207.2,317.9 208.2,315.4 209.3,312.9 210.3,310.3 211.3,307.8 212.3,305.3 213.4,302.8 214.4,300.3 215.4,297.9 216.5,295.4 217.5,292.9 218.5,290.5 219.6,288.1 220.6,285.6 221.6,283.2 222.6,280.8 223.7,278.4 224.7,276.1 225.7,273.7 226.8,271.4 227.8,269.0 228.8,266.7 229.8,264.4 230.9,262.1 231.9,259.8 232.9,257.5 234.0,255.2 235.0,253.0 236.0,250.8 237.0,248.5 238.1,246.3 239.1,244.1 240.1,242.0 241.2,239.8 242.2,237.7 243.2,235.5 244.2,233.4 245.3,231.3 246.3,229.3 247.3,227.2 248.4,225.2 249.4,223.1 250.4,221.1 251.5,219.1 252.5,217.2 253.5,215.2 254.5,213.3 255.6,211.4 256.6,209.5 257.6,207.6 258.7,205.8 259.7,204.0 260.7,202.2 261.7,200.4 262.8,198.6 263.8,196.9 264.8,195.2 265.9,193.5 266.9,191.8 267.9,190.2 268.9,188.6 270.0,187.0 271.0,185.4 272.0,183.9 273.1,182.4 274.1,180.9 275.1,179.5 276.2,178.1 277.2,176.7 278.2,175.3 279.2,174.0 280.3,172.7 281.3,171.4 282.3,170.2 283.4,169.0 284.4,167.8 285.4,166.7 286.4,165.6 287.5,164.5 288.5,163.5 289.5,162.5 290.6,161.6 291.6,160.7 292.6,159.8 293.6,159.0 294.7,158.2 295.7,157.4 296.7,156.7 297.8,156.1 298.8,155.4 299.8,154.8 300.8,154.3 301.9,153.8 302.9,153.4 303.9,153.0 305.0,152.6 306.0,152.3 307.0,152.1 308.1,151.9 309.1,151.7 310.1,151.7 311.1,151.6" stroke="#9467bd" stroke-width="2.08" stroke-dasharray="7.71,3.33" stroke-dashoffset="-1.60"/><path d="M311.1,151.6 312.2,151.6 313.2,151.7 314.2,151.8 315.3,152.0 316.3,152.2 317.3,152.5 318.3,152.9 319.4,153.3 320.4,153.8 321.4,154.3 322.5,155.0 323.5,155.6 324.5,156.4 325.5,157.2 326.6,158.1 327.6,159.0 328.6,160.0 329.7,161.1 330.7,162.3 331.7,163.5 332.7,164.8 333.8,166.2 334.8,167.7 335.8,169.2 336.9,170.8 337.9,172.5 338.9,174.3 340.0,176.2 341.0,178.2 342.0,180.2 343.0,182.3 344.1,184.6 345.1,186.9 346.1,189.3 347.2,191.8 348.2,194.4 349.2,197.1 350.2,199.8 351.3,202.7 352.3,205.7 353.3,208.8 354.4,212.0 355.4,215.3 356.4,218.7 357.4,222.2 358.5,225.8 359.5,229.6 360.5,233.4 361.6,237.4 362.6,241.4 363.6,245.6 364.7,250.0 365.7,254.4 366.7,259.0 367.7,263.7 368.8,268.5 369.8,273.4 370.8,278.5 371.9,283.7 372.9,289.1 373.9,294.5 374.9,300.2 376.0,305.9 377.0,311.8 378.0,317.9 379.1,324.1 380.1,330.4 381.1,336.9 382.1,343.6 383.2,350.4 384.2,357.3 385.2,364.5 386.3,371.8 387.3,379.2 388.3,386.8 389.3,394.6 390.4,402.6 391.4,410.7 392.4,419.0 393.5,427.5 394.5,436.2 395.0,441.0" stroke="#9467bd" stroke-width="2.08" stroke-dasharray="7.71,3.33" stroke-dashoffset="331.70"/>
<path d="M79.6,313.8 80.6,313.2 81.7,312.7 82.7,312.1 83.7,311.5 84.7,311.0 85.8,310.4 86.8,309.8 87.8,309.3 88.9,308.7 89.9,308.1 90.9,307.6 91.9,307.0 93.0,306.4 94.0,305.9 95.0,305.3 96.1,304.7 97.1,304.2 98.1,303.6 99.2,303.0 100.2,302.5 101.2,301.9 102.2,301.3 103.3,300.8 104.3,300.2 105.3,299.6 106.4,299.1 107.4,298.5 108.4,297.9 109.4,297.3 110.5,296.8 111.5,296.2 112.5,295.6 113.6,295.1 114.6,294.5 115.6,293.9 116.6,293.4 117.7,292.8 118.7,292.2 119.7,291.7 120.8,291.1 121.8,290.5 122.8,290.0 123.8,289.4 124.9,288.8 125.9,288.3 126.9,287.7 128.0,287.1 129.0,286.6 130.0,286.0 131.1,285.4 132.1,284.9 133.1,284.3 134.1,283.7 135.2,283.2 136.2,282.6 137.2,282.0 138.3,281.5 139.3,280.9 140.3,280.3 141.3,279.8 142.4,279.2 143.4,278.6 144.4,278.1 145.5,277.5 146.5,276.9 147.5,276.4 148.5,275.8 149.6,275.2 150.6,274.7 151.6,274.1 152.7,273.5 153.7,273.0 154.7,272.4 155.8,271.8 156.8,271.3 157.8,270.7 158.8,270.1 159.9,269.6 160.9,269.0 161.9,268.4 163.0,267.8 164.0,267.3 165.0,266.7 166.0,266.1 167.1,265.6 168.1,265.0 169.1,264.4 170.2,263.9 171.2,263.3 172.2,262.7 173.2,262.2 174.3,261.6 175.3,261.0 176.3,260.5 177.4,259.9 178.4,259.3 179.4,258.8 180.4,258.2 181.5,257.6 182.5,257.1 183.5,256.5 184.6,255.9 185.6,255.4 186.6,254.8 187.7,254.2 188.7,253.7 189.7,253.1 190.7,252.5 191.8,252.0 192.8,251.4 193.8,250.8 194.9,250.3 195.9,249.7 196.9,249.1 197.9,248.6 199.0,248.0 200.0,247.4 201.0,246.9 202.1,246.3 203.1,245.7 204.1,245.2 205.1,244.6 206.2,244.0 207.2,243.5 208.2,242.9 209.3,242.3 210.3,241.8 211.3,241.2 212.3,240.6 213.4,240.1 214.4,239.5 215.4,238.9 216.5,238.4 217.5,237.8 218.5,237.2 219.6,236.6 220.6,236.1 221.6,235.5 222.6,234.9 223.7,234.4 224.7,233.8 225.7,233.2 226.8,232.7 227.8,232.1 228.8,231.5 229.8,231.0 230.9,230.4 231.9,229.8 232.9,229.3 234.0,228.7 235.0,228.1 236.0,227.6 237.0,227.0 238.1,226.4 239.1,225.9 240.1,225.3 241.2,224.7 242.2,224.2 243.2,223.6 244.2,223.0 245.3,222.5 246.3,221.9 247.3,221.3 248.4,220.8 249.4,220.2 250.4,219.6 251.5,219.1 252.5,218.5 253.5,217.9 254.5,217.4 255.6,216.8 256.6,216.2 257.6,215.7 258.7,215.1 259.7,214.5 260.7,214.0 261.7,213.4 262.8,212.8 263.8,212.3 264.8,211.7 265.9,211.1 266.9,210.6 267.9,210.0 268.9,209.4 270.0,208.9 271.0,208.3 272.0,207.7 273.1,207.1 274.1,206.6 275.1,206.0 276.2,205.4 277.2,204.9 278.2,204.3 279.2,203.7 280.3,203.2 281.3,202.6 282.3,202.0 283.4,201.5 284.4,200.9 285.4,200.3 286.4,199.8 287.5,199.2 288.5,198.6 289.5,198.1 290.6,197.5 291.6,196.9 292.6,196.4 293.6,195.8 294.7,195.2 295.7,194.7 296.7,194.1 297.8,193.5 298.8,193.0 299.8,192.4 300.8,191.8 301.9,191.3 302.9,190.7 303.9,190.1 305.0,189.6 306.0,189.0 307.0,188.4 308.1,187.9 309.1,187.3 310.1,186.7 311.1,186.2 312.2,185.6 313.2,185.0 314.2,184.5 315.3,183.9 316.3,183.3 317.3,182.8 318.3,182.2 319.4,181.6 320.4,181.1 321.4,180.5 322.5,179.9 323.5,179.4 324.5,178.8 325.5,178.2 326.6,177.6 327.6,177.1 328.6,176.5 329.7,175.9 330.7,175.4 331.7,174.8 332.7,174.2 333.8,173.7 334.8,173.1 335.8,172.5 336.9,172.0 337.9,171.4 338.9,170.8 340.0,170.3 341.0,169.7 342.0,169.1 343.0,168.6 344.1,168.0 345.1,167.4 346.1,166.9 347.2,166.3 348.2,165.7 349.2,165.2 350.2,164.6 351.3,164.0 352.3,163.5 353.3,162.9 354.4,162.3 355.4,161.8 356.4,161.2 357.4,160.6 358.5,160.1 359.5,159.5 360.5,158.9 361.6,158.4 362.6,157.8 363.6,157.2 364.7,156.7 365.7,156.1 366.7,155.5 367.7,155.0 368.8,154.4 369.8,153.8 370.8,153.3 371.9,152.7 372.9,152.1 373.9,151.6 374.9,151.0 376.0,150.4 377.0,149.9 378.0,149.3 379.1,148.7 380.1,148.2 381.1,147.6 382.1,147.0 383.2,146.4 384.2,145.9 385.2,145.3 386.3,144.7 387.3,144.2 388.3,143.6 389.3,143.0 390.4,142.5 391.4,141.9 392.4,141.3 393.5,140.8 394.5,140.2 395.5,139.6 396.6,139.1 397.6,138.5 398.6,137.9 399.6,137.4 400.7,136.8 401.7,136.2 402.7,135.7 403.8,135.1 404.8,134.5 405.8,134.0 406.8,133.4 407.9,132.8 408.9,132.3 409.9,131.7 411.0,131.1 412.0,130.6 413.0,130.0 414.0,129.4 415.1,128.9 416.1,128.3 417.1,127.7 418.2,127.2 419.2,126.6 420.2,126.0 421.2,125.5 422.3,124.9 423.3,124.3 424.3,123.8 425.4,123.2 426.4,122.6 427.4,122.1 428.5,121.5 429.5,120.9 430.5,120.4 431.5,119.8 432.6,119.2 433.6,118.7 434.6,118.1 435.7,117.5 436.7,116.9 437.7,116.4 438.7,115.8 439.8,115.2 440.8,114.7 441.8,114.1 442.9,113.5 443.9,113.0 444.9,112.4 445.9,111.8 447.0,111.3 448.0,110.7 449.0,110.1 450.1,109.6 451.1,109.0 452.1,108.4 453.1,107.9 454.2,107.3 455.2,106.7 456.2,106.2 457.3,105.6 458.3,105.0 459.3,104.5 460.4,103.9 461.4,103.3 462.4,102.8 463.4,102.2 464.5,101.6 465.5,101.1 466.5,100.5 467.6,99.9 468.6,99.4 469.6,98.8 470.6,98.2 471.7,97.7 472.7,97.1 473.7,96.5 474.8,96.0 475.8,95.4 476.8,94.8 477.8,94.3 478.9,93.7 479.9,93.1 480.9,92.6 482.0,92.0 483.0,91.4 484.0,90.9 485.1,90.3 486.1,89.7 487.1,89.2 488.1,88.6 489.2,88.0 490.2,87.5 491.2,86.9 492.3,86.3 493.3,85.7 494.3,85.2 495.3,84.6 496.4,84.0 497.4,83.5 498.4,82.9 499.5,82.3 500.5,81.8 501.5,81.2 502.5,80.6 503.6,80.1 504.6,79.5 505.6,78.9 506.7,78.4 507.7,77.8 508.7,77.2 509.7,76.7 510.8,76.1 511.8,75.5 512.8,75.0 513.9,74.4 514.9,73.8 515.9,73.3 517.0,72.7 518.0,72.1 519.0,71.6 520.0,71.0 521.1,70.4 522.1,69.9 523.1,69.3 524.2,68.7 525.2,68.2 526.2,67.6 527.2,67.0 528.3,66.5 529.3,65.9 530.3,65.3 531.4,64.8 532.4,64.2 533.4,63.6 534.4,63.1 535.5,62.5 536.5,61.9 537.5,61.4 538.6,60.8 539.6,60.2 540.6,59.7 541.6,59.1 542.7,58.5 543.7,58.0 544.7,57.4 545.8,56.8 546.8,56.2 547.8,55.7 548.9,55.1 549.9,54.5 550.9,54.0 551.9,53.4 553.0,52.8 554.0,52.3 555.0,51.7 556.1,51.1 557.1,50.6 558.1,50.0 559.1,49.4 560.2,48.9 561.2,48.3 562.2,47.7 563.3,47.2 564.3,46.6 565.3,46.0 566.3,45.5 567.4,44.9 568.4,44.3 569.4,43.8 570.5,43.2 571.5,42.6 572.5,42.1 573.6,41.5" stroke="#d62728" stroke-width="2.08" stroke-dasharray="2.08,3.44" stroke-dashoffset="0"/>
<path d="M79.6,296.6 80.6,296.1 81.7,295.5 82.7,295.0 83.7,294.4 84.7,293.9 85.8,293.3 86.8,292.8 87.8,292.3 88.9,291.7 89.9,291.2 90.9,290.6 91.9,290.1 93.0,289.6 94.0,289.0 95.0,288.5 96.1,287.9 97.1,287.4 98.1,286.9 99.2,286.3 100.2,285.8 101.2,285.2 102.2,284.7 103.3,284.1 104.3,283.6 105.3,283.1 106.4,282.5 107.4,282.0 108.4,281.4 109.4,280.9 110.5,280.3 111.5,279.8 112.5,279.3 113.6,278.7 114.6,278.2 115.6,277.6 116.6,277.1 117.7,276.6 118.7,276.0 119.7,275.5 120.8,274.9 121.8,274.4 122.8,273.9 123.8,273.3 124.9,272.8 125.9,272.2 126.9,271.7 128.0,271.1 129.0,270.6 130.0,270.1 131.1,269.5 132.1,269.0 133.1,268.4 134.1,267.9 135.2,267.4 136.2,266.8 137.2,266.3 138.3,265.7 139.3,265.2 140.3,264.6 141.3,264.1 142.4,263.6 143.4,263.0 144.4,262.5 145.5,261.9 146.5,261.4 147.5,260.8 148.5,260.3 149.6,259.8 150.6,259.2 151.6,258.7 152.7,258.1 153.7,257.6 154.7,257.1 155.8,256.5 156.8,256.0 157.8,255.4 158.8,254.9 159.9,254.4 160.9,253.8 161.9,253.3 163.0,252.7 164.0,252.2 165.0,251.6 166.0,251.1 167.1,250.6 168.1,250.0 169.1,249.5 170.2,248.9 171.2,248.4 172.2,247.8 173.2,247.3 174.3,246.8 175.3,246.2 176.3,245.7 177.4,245.1 178.4,244.6 179.4,244.1 180.4,243.5 181.5,243.0 182.5,242.4 183.5,241.9 184.6,241.4 185.6,240.8 186.6,240.3 187.7,239.7 188.7,239.2 189.7,238.6 190.7,238.1 191.8,237.6 192.8,237.0 193.8,236.5 194.9,235.9 195.9,235.4 196.9,234.8 197.9,234.3 199.0,233.8 200.0,233.2 201.0,232.7 202.1,232.1 203.1,231.6 204.1,231.1 205.1,230.5 206.2,230.0 207.2,229.4 208.2,228.9 209.3,228.4 210.3,227.8 211.3,227.3 212.3,226.7 213.4,226.2 214.4,225.6 215.4,225.1 216.5,224.6 217.5,224.0 218.5,223.5 219.6,222.9 220.6,222.4 221.6,221.9 222.6,221.3 223.7,220.8 224.7,220.2 225.7,219.7 226.8,219.1 227.8,218.6 228.8,218.1 229.8,217.5 230.9,217.0 231.9,216.4 232.9,215.9 234.0,215.3 235.0,214.8 236.0,214.3 237.0,213.7 238.1,213.2 239.1,212.6 240.1,212.1 241.2,211.6 242.2,211.0 243.2,210.5 244.2,209.9 245.3,209.4 246.3,208.8 247.3,208.3 248.4,207.8 249.4,207.2 250.4,206.7 251.5,206.1 252.5,205.6 253.5,205.1 254.5,204.5 255.6,204.0 256.6,203.4 257.6,202.9 258.7,202.3 259.7,201.8 260.7,201.3 261.7,200.7 262.8,200.2 263.8,199.6 264.8,199.1 265.9,198.6 266.9,198.0 267.9,197.5 268.9,196.9 270.0,196.4 271.0,195.8 272.0,195.3 273.1,194.8 274.1,194.2 275.1,193.7 276.2,193.1 277.2,192.6 278.2,192.1 279.2,191.5 280.3,191.0 281.3,190.4 282.3,189.9 283.4,189.4 284.4,188.8 285.4,188.3 286.4,187.7 287.5,187.2 288.5,186.6 289.5,186.1 290.6,185.6 291.6,185.0 292.6,184.5 293.6,183.9 294.7,183.4 295.7,182.9 296.7,182.3 297.8,181.8 298.8,181.2 299.8,180.7 300.8,180.1 301.9,179.6 302.9,179.1 303.9,178.5 305.0,178.0 306.0,177.4 307.0,176.9 308.1,176.4 309.1,175.8 310.1,175.3 311.1,174.7 312.2,174.2 313.2,173.6 314.2,173.1 315.3,172.6 316.3,172.0 317.3,171.5 318.3,170.9 319.4,170.4 320.4,169.9 321.4,169.3 322.5,168.8 323.5,168.2 324.5,167.7 325.5,167.1 326.6,166.6 327.6,166.1 328.6,165.5 329.7,165.0 330.7,164.4 331.7,163.9 332.7,163.4 333.8,162.8 334.8,162.3 335.8,161.7 336.9,161.2 337.9,160.6 338.9,160.1 340.0,159.6 341.0,159.0 342.0,158.5 343.0,157.9 344.1,157.4 345.1,156.8 346.1,156.3 347.2,155.8 348.2,155.2 349.2,154.7 350.2,154.1 351.3,153.6 352.3,153.1 353.3,152.5 354.4,152.0 355.4,151.4 356.4,150.9 357.4,150.3 358.5,149.8 359.5,149.3 360.5,148.7 361.6,148.2 362.6,147.6 363.6,147.1 364.7,146.6 365.7,146.0 366.7,145.5 367.7,144.9 368.8,144.4 369.8,143.8 370.8,143.3 371.9,142.8 372.9,142.2 373.9,141.7 374.9,141.1 376.0,140.6 377.0,140.1 378.0,139.5 379.1,139.0 380.1,138.4 381.1,137.9 382.1,137.3 383.2,136.8 384.2,136.3 385.2,135.7 386.3,135.2 387.3,134.6 388.3,134.1 389.3,133.6 390.4,133.0 391.4,132.5 392.4,131.9 393.5,131.4 394.5,130.8 395.5,130.3 396.6,129.8 397.6,129.2 398.6,128.7 399.6,128.1 400.7,127.6 401.7,127.1 402.7,126.5 403.8,126.0 404.8,125.4 405.8,124.9 406.8,124.4 407.9,123.8 408.9,123.3 409.9,122.7 411.0,122.2 412.0,121.6 413.0,121.1 414.0,120.6 415.1,120.0 416.1,119.5 417.1,118.9 418.2,118.4 419.2,117.9 420.2,117.3 421.2,116.8 422.3,116.2 423.3,115.7 424.3,115.1 425.4,114.6 426.4,114.1 427.4,113.5 428.5,113.0 429.5,112.4 430.5,111.9 431.5,111.4 432.6,110.8 433.6,110.3 434.6,109.7 435.7,109.2 436.7,108.6 437.7,108.1 438.7,107.6 439.8,107.0 440.8,106.5 441.8,105.9 442.9,105.4 443.9,104.9 444.9,104.3 445.9,103.8 447.0,103.2 448.0,102.7 449.0,102.1 450.1,101.6 451.1,101.1 452.1,100.5 453.1,100.0 454.2,99.4 455.2,98.9 456.2,98.3 457.3,97.8 458.3,97.3 459.3,96.7 460.4,96.2 461.4,95.6 462.4,95.1 463.4,94.6 464.5,94.0 465.5,93.5 466.5,92.9 467.6,92.4 468.6,91.8 469.6,91.3 470.6,90.8 471.7,90.2 472.7,89.7 473.7,89.1 474.8,88.6 475.8,88.1 476.8,87.5 477.8,87.0 478.9,86.4 479.9,85.9 480.9,85.3 482.0,84.8 483.0,84.3 484.0,83.7 485.1,83.2 486.1,82.6 487.1,82.1 488.1,81.6 489.2,81.0 490.2,80.5 491.2,79.9 492.3,79.4 493.3,78.8 494.3,78.3 495.3,77.8 496.4,77.2 497.4,76.7 498.4,76.1 499.5,75.6 500.5,75.1 501.5,74.5 502.5,74.0 503.6,73.4 504.6,72.9 505.6,72.3 506.7,71.8 507.7,71.3 508.7,70.7 509.7,70.2 510.8,69.6 511.8,69.1 512.8,68.6 513.9,68.0 514.9,67.5 515.9,66.9 517.0,66.4 518.0,65.9 519.0,65.3 520.0,64.8 521.1,64.2 522.1,63.7 523.1,63.1 524.2,62.6 525.2,62.1 526.2,61.5 527.2,61.0 528.3,60.4 529.3,59.9 530.3,59.4 531.4,58.8 532.4,58.3 533.4,57.7 534.4,57.2 535.5,56.6 536.5,56.1 537.5,55.6 538.6,55.0 539.6,54.5 540.6,53.9 541.6,53.4 542.7,52.9 543.7,52.3 544.7,51.8 545.8,51.2 546.8,50.7 547.8,50.1 548.9,49.6 549.9,49.1 550.9,48.5 551.9,48.0 553.0,47.4 554.0,46.9 555.0,46.4 556.1,45.8 557.1,45.3 558.1,44.7 559.1,44.2 560.2,43.6 561.2,43.1 562.2,42.6 563.3,42.0 564.3,41.5 565.3,40.9 566.3,40.4 567.4,39.8 568.4,39.3 569.4,38.8 570.5,38.2 571.5,37.7 572.5,37.1 573.6,36.6" stroke="#1f77b4" stroke-width="2.08" stroke-dasharray="2.08,3.44" stroke-dashoffset="0"/>
<path d="M79.6,312.1 80.6,311.6 81.7,311.1 82.7,310.6 83.7,310.0 84.7,309.5 85.8,309.0 86.8,308.5 87.8,308.0 88.9,307.5 89.9,307.0 90.9,306.4 91.9,305.9 93.0,305.4 94.0,304.9 95.0,304.4 96.1,303.9 97.1,303.4 98.1,302.9 99.2,302.3 100.2,301.8 101.2,301.3 102.2,300.8 103.3,300.3 104.3,299.8 105.3,299.3 106.4,298.7 107.4,298.2 108.4,297.7 109.4,297.2 110.5,296.7 111.5,296.2 112.5,295.7 113.6,295.1 114.6,294.6 115.6,294.1 116.6,293.6 117.7,293.1 118.7,292.6 119.7,292.1 120.8,291.6 121.8,291.0 122.8,290.5 123.8,290.0 124.9,289.5 125.9,289.0 126.9,288.5 128.0,288.0 129.0,287.4 130.0,286.9 131.1,286.4 132.1,285.9 133.1,285.4 134.1,284.9 135.2,284.4 136.2,283.8 137.2,283.3 138.3,282.8 139.3,282.3 140.3,281.8 141.3,281.3 142.4,280.8 143.4,280.2 144.4,279.7 145.5,279.2 146.5,278.7 147.5,278.2 148.5,277.7 149.6,277.2 150.6,276.7 151.6,276.1 152.7,275.6 153.7,275.1 154.7,274.6 155.8,274.1 156.8,273.6 157.8,273.1 158.8,272.5 159.9,272.0 160.9,271.5 161.9,271.0 163.0,270.5 164.0,270.0 165.0,269.5 166.0,268.9 167.1,268.4 168.1,267.9 169.1,267.4 170.2,266.9 171.2,266.4 172.2,265.9 173.2,265.3 174.3,264.8 175.3,264.3 176.3,263.8 177.4,263.3 178.4,262.8 179.4,262.3 180.4,261.8 181.5,261.2 182.5,260.7 183.5,260.2 184.6,259.7 185.6,259.2 186.6,258.7 187.7,258.2 188.7,257.6 189.7,257.1 190.7,256.6 191.8,256.1 192.8,255.6 193.8,255.1 194.9,254.6 195.9,254.0 196.9,253.5 197.9,253.0 199.0,252.5 200.0,252.0 201.0,251.5 202.1,251.0 203.1,250.5 204.1,249.9 205.1,249.4 206.2,248.9 207.2,248.4 208.2,247.9 209.3,247.4 210.3,246.9 211.3,246.3 212.3,245.8 213.4,245.3 214.4,244.8 215.4,244.3 216.5,243.8 217.5,243.3 218.5,242.7 219.6,242.2 220.6,241.7 221.6,241.2 222.6,240.7 223.7,240.2 224.7,239.7 225.7,239.1 226.8,238.6 227.8,238.1 228.8,237.6 229.8,237.1 230.9,236.6 231.9,236.1 232.9,235.6 234.0,235.0 235.0,234.5 236.0,234.0 237.0,233.5 238.1,233.0 239.1,232.5 240.1,232.0 241.2,231.4 242.2,230.9 243.2,230.4 244.2,229.9 245.3,229.4 246.3,228.9 247.3,228.4 248.4,227.8 249.4,227.3 250.4,226.8 251.5,226.3 252.5,225.8 253.5,225.3 254.5,224.8 255.6,224.2 256.6,223.7 257.6,223.2 258.7,222.7 259.7,222.2 260.7,221.7 261.7,221.2 262.8,220.7 263.8,220.1 264.8,219.6 265.9,219.1 266.9,218.6 267.9,218.1 268.9,217.6 270.0,217.1 271.0,216.5 272.0,216.0 273.1,215.5 274.1,215.0 275.1,214.5 276.2,214.0 277.2,213.5 278.2,212.9 279.2,212.4 280.3,211.9 281.3,211.4 282.3,210.9 283.4,210.4 284.4,209.9 285.4,209.4 286.4,208.8 287.5,208.3 288.5,207.8 289.5,207.3 290.6,206.8 291.6,206.3 292.6,205.8 293.6,205.2 294.7,204.7 295.7,204.2 296.7,203.7 297.8,203.2 298.8,202.7 299.8,202.2 300.8,201.6 301.9,201.1 302.9,200.6 303.9,200.1 305.0,199.6 306.0,199.1 307.0,198.6 308.1,198.0 309.1,197.5 310.1,197.0 311.1,196.5 312.2,196.0 313.2,195.5 314.2,195.0 315.3,194.5 316.3,193.9 317.3,193.4 318.3,192.9 319.4,192.4 320.4,191.9 321.4,191.4 322.5,190.9 323.5,190.3 324.5,189.8 325.5,189.3 326.6,188.8 327.6,188.3 328.6,187.8 329.7,187.3 330.7,186.7 331.7,186.2 332.7,185.7 333.8,185.2 334.8,184.7 335.8,184.2 336.9,183.7 337.9,183.1 338.9,182.6 340.0,182.1 341.0,181.6 342.0,181.1 343.0,180.6 344.1,180.1 345.1,179.6 346.1,179.0 347.2,178.5 348.2,178.0 349.2,177.5 350.2,177.0 351.3,176.5 352.3,176.0 353.3,175.4 354.4,174.9 355.4,174.4 356.4,173.9 357.4,173.4 358.5,172.9 359.5,172.4 360.5,171.8 361.6,171.3 362.6,170.8 363.6,170.3 364.7,169.8 365.7,169.3 366.7,168.8 367.7,168.3 368.8,167.7 369.8,167.2 370.8,166.7 371.9,166.2 372.9,165.7 373.9,165.2 374.9,164.7 376.0,164.1 377.0,163.6 378.0,163.1 379.1,162.6 380.1,162.1 381.1,161.6 382.1,161.1 383.2,160.5 384.2,160.0 385.2,159.5 386.3,159.0 387.3,158.5 388.3,158.0 389.3,157.5 390.4,156.9 391.4,156.4 392.4,155.9 393.5,155.4 394.5,154.9 395.5,154.4 396.6,153.9 397.6,153.4 398.6,152.8 399.6,152.3 400.7,151.8 401.7,151.3 402.7,150.8 403.8,150.3 404.8,149.8 405.8,149.2 406.8,148.7 407.9,148.2 408.9,147.7 409.9,147.2 411.0,146.7 412.0,146.2 413.0,145.6 414.0,145.1 415.1,144.6 416.1,144.1 417.1,143.6 418.2,143.1 419.2,142.6 420.2,142.0 421.2,141.5 422.3,141.0 423.3,140.5 424.3,140.0 425.4,139.5 426.4,139.0 427.4,138.5 428.5,137.9 429.5,137.4 430.5,136.9 431.5,136.4 432.6,135.9 433.6,135.4 434.6,134.9 435.7,134.3 436.7,133.8 437.7,133.3 438.7,132.8 439.8,132.3 440.8,131.8 441.8,131.3 442.9,130.7 443.9,130.2 444.9,129.7 445.9,129.2 447.0,128.7 448.0,128.2 449.0,127.7 450.1,127.1 451.1,126.6 452.1,126.1 453.1,125.6 454.2,125.1 455.2,124.6 456.2,124.1 457.3,123.6 458.3,123.0 459.3,122.5 460.4,122.0 461.4,121.5 462.4,121.0 463.4,120.5 464.5,120.0 465.5,119.4 466.5,118.9 467.6,118.4 468.6,117.9 469.6,117.4 470.6,116.9 471.7,116.4 472.7,115.8 473.7,115.3 474.8,114.8 475.8,114.3 476.8,113.8 477.8,113.3 478.9,112.8 479.9,112.3 480.9,111.7 482.0,111.2 483.0,110.7 484.0,110.2 485.1,109.7 486.1,109.2 487.1,108.7 488.1,108.1 489.2,107.6 490.2,107.1 491.2,106.6 492.3,106.1 493.3,105.6 494.3,105.1 495.3,104.5 496.4,104.0 497.4,103.5 498.4,103.0 499.5,102.5 500.5,102.0 501.5,101.5 502.5,100.9 503.6,100.4 504.6,99.9 505.6,99.4 506.7,98.9 507.7,98.4 508.7,97.9 509.7,97.4 510.8,96.8 511.8,96.3 512.8,95.8 513.9,95.3 514.9,94.8 515.9,94.3 517.0,93.8 518.0,93.2 519.0,92.7 520.0,92.2 521.1,91.7 522.1,91.2 523.1,90.7 524.2,90.2 525.2,89.6 526.2,89.1 527.2,88.6 528.3,88.1 529.3,87.6 530.3,87.1 531.4,86.6 532.4,86.1 533.4,85.5 534.4,85.0 535.5,84.5 536.5,84.0 537.5,83.5 538.6,83.0 539.6,82.5 540.6,81.9 541.6,81.4 542.7,80.9 543.7,80.4 544.7,79.9 545.8,79.4 546.8,78.9 547.8,78.3 548.9,77.8 549.9,77.3 550.9,76.8 551.9,76.3 553.0,75.8 554.0,75.3 555.0,74.7 556.1,74.2 557.1,73.7 558.1,73.2 559.1,72.7 560.2,72.2 561.2,71.7 562.2,71.2 563.3,70.6 564.3,70.1 565.3,69.6 566.3,69.1 567.4,68.6 568.4,68.1 569.4,67.6 570.5,67.0 571.5,66.5 572.5,66.0 573.6,65.5" stroke="#ff7f0e" stroke-width="2.08" stroke-dasharray="2.08,3.44" stroke-dashoffset="0"/>
<path d="M79.6,295.8 80.6,295.4 81.7,295.0 82.7,294.5 83.7,294.1 84.7,293.7 85.8,293.3 86.8,292.9 87.8,292.5 88.9,292.0 89.9,291.6 90.9,291.2 91.9,290.8 93.0,290.4 94.0,290.0 95.0,289.5 96.1,289.1 97.1,288.7 98.1,288.3 99.2,287.9 100.2,287.4 101.2,287.0 102.2,286.6 103.3,286.2 104.3,285.8 105.3,285.4 106.4,284.9 107.4,284.5 108.4,284.1 109.4,283.7 110.5,283.3 111.5,282.9 112.5,282.4 113.6,282.0 114.6,281.6 115.6,281.2 116.6,280.8 117.7,280.4 118.7,279.9 119.7,279.5 120.8,279.1 121.8,278.7 122.8,278.3 123.8,277.8 124.9,277.4 125.9,277.0 126.9,276.6 128.0,276.2 129.0,275.8 130.0,275.3 131.1,274.9 132.1,274.5 133.1,274.1 134.1,273.7 135.2,273.3 136.2,272.8 137.2,272.4 138.3,272.0 139.3,271.6 140.3,271.2 141.3,270.8 142.4,270.3 143.4,269.9 144.4,269.5 145.5,269.1 146.5,268.7 147.5,268.2 148.5,267.8 149.6,267.4 150.6,267.0 151.6,266.6 152.7,266.2 153.7,265.7 154.7,265.3 155.8,264.9 156.8,264.5 157.8,264.1 158.8,263.7 159.9,263.2 160.9,262.8 161.9,262.4 163.0,262.0 164.0,261.6 165.0,261.1 166.0,260.7 167.1,260.3 168.1,259.9 169.1,259.5 170.2,259.1 171.2,258.6 172.2,258.2 173.2,257.8 174.3,257.4 175.3,257.0 176.3,256.6 177.4,256.1 178.4,255.7 179.4,255.3 180.4,254.9 181.5,254.5 182.5,254.0 183.5,253.6 184.6,253.2 185.6,252.8 186.6,252.4 187.7,252.0 188.7,251.5 189.7,251.1 190.7,250.7 191.8,250.3 192.8,249.9 193.8,249.5 194.9,249.0 195.9,248.6 196.9,248.2 197.9,247.8 199.0,247.4 200.0,247.0 201.0,246.5 202.1,246.1 203.1,245.7 204.1,245.3 205.1,244.9 206.2,244.4 207.2,244.0 208.2,243.6 209.3,243.2 210.3,242.8 211.3,242.4 212.3,241.9 213.4,241.5 214.4,241.1 215.4,240.7 216.5,240.3 217.5,239.9 218.5,239.4 219.6,239.0 220.6,238.6 221.6,238.2 222.6,237.8 223.7,237.4 224.7,236.9 225.7,236.5 226.8,236.1 227.8,235.7 228.8,235.3 229.8,234.8 230.9,234.4 231.9,234.0 232.9,233.6 234.0,233.2 235.0,232.8 236.0,232.3 237.0,231.9 238.1,231.5 239.1,231.1 240.1,230.7 241.2,230.3 242.2,229.8 243.2,229.4 244.2,229.0 245.3,228.6 246.3,228.2 247.3,227.7 248.4,227.3 249.4,226.9 250.4,226.5 251.5,226.1 252.5,225.7 253.5,225.2 254.5,224.8 255.6,224.4 256.6,224.0 257.6,223.6 258.7,223.2 259.7,222.7 260.7,222.3 261.7,221.9 262.8,221.5 263.8,221.1 264.8,220.7 265.9,220.2 266.9,219.8 267.9,219.4 268.9,219.0 270.0,218.6 271.0,218.1 272.0,217.7 273.1,217.3 274.1,216.9 275.1,216.5 276.2,216.1 277.2,215.6 278.2,215.2 279.2,214.8 280.3,214.4 281.3,214.0 282.3,213.6 283.4,213.1 284.4,212.7 285.4,212.3 286.4,211.9 287.5,211.5 288.5,211.0 289.5,210.6 290.6,210.2 291.6,209.8 292.6,209.4 293.6,209.0 294.7,208.5 295.7,208.1 296.7,207.7 297.8,207.3 298.8,206.9 299.8,206.5 300.8,206.0 301.9,205.6 302.9,205.2 303.9,204.8 305.0,204.4 306.0,203.9 307.0,203.5 308.1,203.1 309.1,202.7 310.1,202.3 311.1,201.9 312.2,201.4 313.2,201.0 314.2,200.6 315.3,200.2 316.3,199.8 317.3,199.4 318.3,198.9 319.4,198.5 320.4,198.1 321.4,197.7 322.5,197.3 323.5,196.9 324.5,196.4 325.5,196.0 326.6,195.6 327.6,195.2 328.6,194.8 329.7,194.3 330.7,193.9 331.7,193.5 332.7,193.1 333.8,192.7 334.8,192.3 335.8,191.8 336.9,191.4 337.9,191.0 338.9,190.6 340.0,190.2 341.0,189.8 342.0,189.3 343.0,188.9 344.1,188.5 345.1,188.1 346.1,187.7 347.2,187.2 348.2,186.8 349.2,186.4 350.2,186.0 351.3,185.6 352.3,185.2 353.3,184.7 354.4,184.3 355.4,183.9 356.4,183.5 357.4,183.1 358.5,182.7 359.5,182.2 360.5,181.8 361.6,181.4 362.6,181.0 363.6,180.6 364.7,180.2 365.7,179.7 366.7,179.3 367.7,178.9 368.8,178.5 369.8,178.1 370.8,177.6 371.9,177.2 372.9,176.8 373.9,176.4 374.9,176.0 376.0,175.6 377.0,175.1 378.0,174.7 379.1,174.3 380.1,173.9 381.1,173.5 382.1,173.1 383.2,172.6 384.2,172.2 385.2,171.8 386.3,171.4 387.3,171.0 388.3,170.5 389.3,170.1 390.4,169.7 391.4,169.3 392.4,168.9 393.5,168.5 394.5,168.0 395.5,167.6 396.6,167.2 397.6,166.8 398.6,166.4 399.6,166.0 400.7,165.5 401.7,165.1 402.7,164.7 403.8,164.3 404.8,163.9 405.8,163.5 406.8,163.0 407.9,162.6 408.9,162.2 409.9,161.8 411.0,161.4 412.0,160.9 413.0,160.5 414.0,160.1 415.1,159.7 416.1,159.3 417.1,158.9 418.2,158.4 419.2,158.0 420.2,157.6 421.2,157.2 422.3,156.8 423.3,156.4 424.3,155.9 425.4,155.5 426.4,155.1 427.4,154.7 428.5,154.3 429.5,153.8 430.5,153.4 431.5,153.0 432.6,152.6 433.6,152.2 434.6,151.8 435.7,151.3 436.7,150.9 437.7,150.5 438.7,150.1 439.8,149.7 440.8,149.3 441.8,148.8 442.9,148.4 443.9,148.0 444.9,147.6 445.9,147.2 447.0,146.8 448.0,146.3 449.0,145.9 450.1,145.5 451.1,145.1 452.1,144.7 453.1,144.2 454.2,143.8 455.2,143.4 456.2,143.0 457.3,142.6 458.3,142.2 459.3,141.7 460.4,141.3 461.4,140.9 462.4,140.5 463.4,140.1 464.5,139.7 465.5,139.2 466.5,138.8 467.6,138.4 468.6,138.0 469.6,137.6 470.6,137.1 471.7,136.7 472.7,136.3 473.7,135.9 474.8,135.5 475.8,135.1 476.8,134.6 477.8,134.2 478.9,133.8 479.9,133.4 480.9,133.0 482.0,132.6 483.0,132.1 484.0,131.7 485.1,131.3 486.1,130.9 487.1,130.5 488.1,130.1 489.2,129.6 490.2,129.2 491.2,128.8 492.3,128.4 493.3,128.0 494.3,127.5 495.3,127.1 496.4,126.7 497.4,126.3 498.4,125.9 499.5,125.5 500.5,125.0 501.5,124.6 502.5,124.2 503.6,123.8 504.6,123.4 505.6,123.0 506.7,122.5 507.7,122.1 508.7,121.7 509.7,121.3 510.8,120.9 511.8,120.4 512.8,120.0 513.9,119.6 514.9,119.2 515.9,118.8 517.0,118.4 518.0,117.9 519.0,117.5 520.0,117.1 521.1,116.7 522.1,116.3 523.1,115.9 524.2,115.4 525.2,115.0 526.2,114.6 527.2,114.2 528.3,113.8 529.3,113.4 530.3,112.9 531.4,112.5 532.4,112.1 533.4,111.7 534.4,111.3 535.5,110.8 536.5,110.4 537.5,110.0 538.6,109.6 539.6,109.2 540.6,108.8 541.6,108.3 542.7,107.9 543.7,107.5 544.7,107.1 545.8,106.7 546.8,106.3 547.8,105.8 548.9,105.4 549.9,105.0 550.9,104.6 551.9,104.2 553.0,103.8 554.0,103.3 555.0,102.9 556.1,102.5 557.1,102.1 558.1,101.7 559.1,101.2 560.2,100.8 561.2,100.4 562.2,100.0 563.3,99.6 564.3,99.2 565.3,98.7 566.3,98.3 567.4,97.9 568.4,97.5 569.4,97.1 570.5,96.7 571.5,96.2 572.5,95.8 573.6,95.4" stroke="#2ca02c" stroke-width="2.08" stroke-dasharray="2.08,3.44" stroke-dashoffset="0"/>
<path d="M79.6,327.4 80.6,326.9 81.7,326.4 82.7,325.9 83.7,325.3 84.7,324.8 85.8,324.3 86.8,323.8 87.8,323.3 88.9,322.8 89.9,322.3 90.9,321.8 91.9,321.2 93.0,320.7 94.0,320.2 95.0,319.7 96.1,319.2 97.1,318.7 98.1,318.2 99.2,317.6 100.2,317.1 101.2,316.6 102.2,316.1 103.3,315.6 104.3,315.1 105.3,314.6 106.4,314.0 107.4,313.5 108.4,313.0 109.4,312.5 110.5,312.0 111.5,311.5 112.5,311.0 113.6,310.5 114.6,309.9 115.6,309.4 116.6,308.9 117.7,308.4 118.7,307.9 119.7,307.4 120.8,306.9 121.8,306.3 122.8,305.8 123.8,305.3 124.9,304.8 125.9,304.3 126.9,303.8 128.0,303.3 129.0,302.7 130.0,302.2 131.1,301.7 132.1,301.2 133.1,300.7 134.1,300.2 135.2,299.7 136.2,299.2 137.2,298.6 138.3,298.1 139.3,297.6 140.3,297.1 141.3,296.6 142.4,296.1 143.4,295.6 144.4,295.0 145.5,294.5 146.5,294.0 147.5,293.5 148.5,293.0 149.6,292.5 150.6,292.0 151.6,291.5 152.7,290.9 153.7,290.4 154.7,289.9 155.8,289.4 156.8,288.9 157.8,288.4 158.8,287.9 159.9,287.3 160.9,286.8 161.9,286.3 163.0,285.8 164.0,285.3 165.0,284.8 166.0,284.3 167.1,283.7 168.1,283.2 169.1,282.7 170.2,282.2 171.2,281.7 172.2,281.2 173.2,280.7 174.3,280.2 175.3,279.6 176.3,279.1 177.4,278.6 178.4,278.1 179.4,277.6 180.4,277.1 181.5,276.6 182.5,276.0 183.5,275.5 184.6,275.0 185.6,274.5 186.6,274.0 187.7,273.5 188.7,273.0 189.7,272.5 190.7,271.9 191.8,271.4 192.8,270.9 193.8,270.4 194.9,269.9 195.9,269.4 196.9,268.9 197.9,268.3 199.0,267.8 200.0,267.3 201.0,266.8 202.1,266.3 203.1,265.8 204.1,265.3 205.1,264.7 206.2,264.2 207.2,263.7 208.2,263.2 209.3,262.7 210.3,262.2 211.3,261.7 212.3,261.2 213.4,260.6 214.4,260.1 215.4,259.6 216.5,259.1 217.5,258.6 218.5,258.1 219.6,257.6 220.6,257.0 221.6,256.5 222.6,256.0 223.7,255.5 224.7,255.0 225.7,254.5 226.8,254.0 227.8,253.5 228.8,252.9 229.8,252.4 230.9,251.9 231.9,251.4 232.9,250.9 234.0,250.4 235.0,249.9 236.0,249.3 237.0,248.8 238.1,248.3 239.1,247.8 240.1,247.3 241.2,246.8 242.2,246.3 243.2,245.7 244.2,245.2 245.3,244.7 246.3,244.2 247.3,243.7 248.4,243.2 249.4,242.7 250.4,242.2 251.5,241.6 252.5,241.1 253.5,240.6 254.5,240.1 255.6,239.6 256.6,239.1 257.6,238.6 258.7,238.0 259.7,237.5 260.7,237.0 261.7,236.5 262.8,236.0 263.8,235.5 264.8,235.0 265.9,234.4 266.9,233.9 267.9,233.4 268.9,232.9 270.0,232.4 271.0,231.9 272.0,231.4 273.1,230.9 274.1,230.3 275.1,229.8 276.2,229.3 277.2,228.8 278.2,228.3 279.2,227.8 280.3,227.3 281.3,226.7 282.3,226.2 283.4,225.7 284.4,225.2 285.4,224.7 286.4,224.2 287.5,223.7 288.5,223.2 289.5,222.6 290.6,222.1 291.6,221.6 292.6,221.1 293.6,220.6 294.7,220.1 295.7,219.6 296.7,219.0 297.8,218.5 298.8,218.0 299.8,217.5 300.8,217.0 301.9,216.5 302.9,216.0 303.9,215.4 305.0,214.9 306.0,214.4 307.0,213.9 308.1,213.4 309.1,212.9 310.1,212.4 311.1,211.9 312.2,211.3 313.2,210.8 314.2,210.3 315.3,209.8 316.3,209.3 317.3,208.8 318.3,208.3 319.4,207.7 320.4,207.2 321.4,206.7 322.5,206.2 323.5,205.7 324.5,205.2 325.5,204.7 326.6,204.1 327.6,203.6 328.6,203.1 329.7,202.6 330.7,202.1 331.7,201.6 332.7,201.1 333.8,200.6 334.8,200.0 335.8,199.5 336.9,199.0 337.9,198.5 338.9,198.0 340.0,197.5 341.0,197.0 342.0,196.4 343.0,195.9 344.1,195.4 345.1,194.9 346.1,194.4 347.2,193.9 348.2,193.4 349.2,192.9 350.2,192.3 351.3,191.8 352.3,191.3 353.3,190.8 354.4,190.3 355.4,189.8 356.4,189.3 357.4,188.7 358.5,188.2 359.5,187.7 360.5,187.2 361.6,186.7 362.6,186.2 363.6,185.7 364.7,185.1 365.7,184.6 366.7,184.1 367.7,183.6 368.8,183.1 369.8,182.6 370.8,182.1 371.9,181.6 372.9,181.0 373.9,180.5 374.9,180.0 376.0,179.5 377.0,179.0 378.0,178.5 379.1,178.0 380.1,177.4 381.1,176.9 382.1,176.4 383.2,175.9 384.2,175.4 385.2,174.9 386.3,174.4 387.3,173.9 388.3,173.3 389.3,172.8 390.4,172.3 391.4,171.8 392.4,171.3 393.5,170.8 394.5,170.3 395.5,169.7 396.6,169.2 397.6,168.7 398.6,168.2 399.6,167.7 400.7,167.2 401.7,166.7 402.7,166.1 403.8,165.6 404.8,165.1 405.8,164.6 406.8,164.1 407.9,163.6 408.9,163.1 409.9,162.6 411.0,162.0 412.0,161.5 413.0,161.0 414.0,160.5 415.1,160.0 416.1,159.5 417.1,159.0 418.2,158.4 419.2,157.9 420.2,157.4 421.2,156.9 422.3,156.4 423.3,155.9 424.3,155.4 425.4,154.8 426.4,154.3 427.4,153.8 428.5,153.3 429.5,152.8 430.5,152.3 431.5,151.8 432.6,151.3 433.6,150.7 434.6,150.2 435.7,149.7 436.7,149.2 437.7,148.7 438.7,148.2 439.8,147.7 440.8,147.1 441.8,146.6 442.9,146.1 443.9,145.6 444.9,145.1 445.9,144.6 447.0,144.1 448.0,143.6 449.0,143.0 450.1,142.5 451.1,142.0 452.1,141.5 453.1,141.0 454.2,140.5 455.2,140.0 456.2,139.4 457.3,138.9 458.3,138.4 459.3,137.9 460.4,137.4 461.4,136.9 462.4,136.4 463.4,135.8 464.5,135.3 465.5,134.8 466.5,134.3 467.6,133.8 468.6,133.3 469.6,132.8 470.6,132.3 471.7,131.7 472.7,131.2 473.7,130.7 474.8,130.2 475.8,129.7 476.8,129.2 477.8,128.7 478.9,128.1 479.9,127.6 480.9,127.1 482.0,126.6 483.0,126.1 484.0,125.6 485.1,125.1 486.1,124.6 487.1,124.0 488.1,123.5 489.2,123.0 490.2,122.5 491.2,122.0 492.3,121.5 493.3,121.0 494.3,120.4 495.3,119.9 496.4,119.4 497.4,118.9 498.4,118.4 499.5,117.9 500.5,117.4 501.5,116.8 502.5,116.3 503.6,115.8 504.6,115.3 505.6,114.8 506.7,114.3 507.7,113.8 508.7,113.3 509.7,112.7 510.8,112.2 511.8,111.7 512.8,111.2 513.9,110.7 514.9,110.2 515.9,109.7 517.0,109.1 518.0,108.6 519.0,108.1 520.0,107.6 521.1,107.1 522.1,106.6 523.1,106.1 524.2,105.5 525.2,105.0 526.2,104.5 527.2,104.0 528.3,103.5 529.3,103.0 530.3,102.5 531.4,102.0 532.4,101.4 533.4,100.9 534.4,100.4 535.5,99.9 536.5,99.4 537.5,98.9 538.6,98.4 539.6,97.8 540.6,97.3 541.6,96.8 542.7,96.3 543.7,95.8 544.7,95.3 545.8,94.8 546.8,94.3 547.8,93.7 548.9,93.2 549.9,92.7 550.9,92.2 551.9,91.7 553.0,91.2 554.0,90.7 555.0,90.1 556.1,89.6 557.1,89.1 558.1,88.6 559.1,88.1 560.2,87.6 561.2,87.1 562.2,86.5 563.3,86.0 564.3,85.5 565.3,85.0 566.3,84.5 567.4,84.0 568.4,83.5 569.4,83.0 570.5,82.4 571.5,81.9 572.5,81.4 573.6,80.9" stroke="#9467bd" stroke-width="2.08" stroke-dasharray="2.08,3.44" stroke-dashoffset="0"/>
</g>
<rect x="79.6" y="9.3" width="494.0" height="378.5" fill="none" stroke="#222" stroke-width="1.1"/>
<g stroke="#222"><line x1="79.60" y1="387.8" x2="79.60" y2="392.0" stroke-width="1.1"/><line x1="129.16" y1="387.8" x2="129.16" y2="390.2" stroke-width="0.8"/><line x1="158.16" y1="387.8" x2="158.16" y2="390.2" stroke-width="0.8"/><line x1="178.73" y1="387.8" x2="178.73" y2="390.2" stroke-width="0.8"/><line x1="194.69" y1="387.8" x2="194.69" y2="390.2" stroke-width="0.8"/><line x1="207.72" y1="387.8" x2="207.72" y2="390.2" stroke-width="0.8"/><line x1="218.75" y1="387.8" x2="218.75" y2="390.2" stroke-width="0.8"/><line x1="228.29" y1="387.8" x2="228.29" y2="390.2" stroke-width="0.8"/><line x1="236.72" y1="387.8" x2="236.72" y2="390.2" stroke-width="0.8"/><line x1="244.25" y1="387.8" x2="244.25" y2="392.0" stroke-width="1.1"/><line x1="293.81" y1="387.8" x2="293.81" y2="390.2" stroke-width="0.8"/><line x1="322.81" y1="387.8" x2="322.81" y2="390.2" stroke-width="0.8"/><line x1="343.38" y1="387.8" x2="343.38" y2="390.2" stroke-width="0.8"/><line x1="359.34" y1="387.8" x2="359.34" y2="390.2" stroke-width="0.8"/><line x1="372.37" y1="387.8" x2="372.37" y2="390.2" stroke-width="0.8"/><line x1="383.40" y1="387.8" x2="383.40" y2="390.2" stroke-width="0.8"/><line x1="392.94" y1="387.8" x2="392.94" y2="390.2" stroke-width="0.8"/><line x1="401.37" y1="387.8" x2="401.37" y2="390.2" stroke-width="0.8"/><line x1="408.90" y1="387.8" x2="408.90" y2="392.0" stroke-width="1.1"/><line x1="458.46" y1="387.8" x2="458.46" y2="390.2" stroke-width="0.8"/><line x1="487.46" y1="387.8" x2="487.46" y2="390.2" stroke-width="0.8"/><line x1="508.03" y1="387.8" x2="508.03" y2="390.2" stroke-width="0.8"/><line x1="523.99" y1="387.8" x2="523.99" y2="390.2" stroke-width="0.8"/><line x1="537.02" y1="387.8" x2="537.02" y2="390.2" stroke-width="0.8"/><line x1="548.05" y1="387.8" x2="548.05" y2="390.2" stroke-width="0.8"/><line x1="557.59" y1="387.8" x2="557.59" y2="390.2" stroke-width="0.8"/><line x1="566.02" y1="387.8" x2="566.02" y2="390.2" stroke-width="0.8"/><line x1="573.55" y1="387.8" x2="573.55" y2="392.0" stroke-width="1.1"/><line x1="75.39999999999999" y1="387.90" x2="79.6" y2="387.90" stroke-width="1.1"/><line x1="77.19999999999999" y1="338.38" x2="79.6" y2="338.38" stroke-width="0.8"/><line x1="77.19999999999999" y1="309.41" x2="79.6" y2="309.41" stroke-width="0.8"/><line x1="77.19999999999999" y1="288.86" x2="79.6" y2="288.86" stroke-width="0.8"/><line x1="77.19999999999999" y1="272.92" x2="79.6" y2="272.92" stroke-width="0.8"/><line x1="77.19999999999999" y1="259.89" x2="79.6" y2="259.89" stroke-width="0.8"/><line x1="77.19999999999999" y1="248.88" x2="79.6" y2="248.88" stroke-width="0.8"/><line x1="77.19999999999999" y1="239.34" x2="79.6" y2="239.34" stroke-width="0.8"/><line x1="77.19999999999999" y1="230.93" x2="79.6" y2="230.93" stroke-width="0.8"/><line x1="75.39999999999999" y1="223.40" x2="79.6" y2="223.40" stroke-width="1.1"/><line x1="77.19999999999999" y1="173.88" x2="79.6" y2="173.88" stroke-width="0.8"/><line x1="77.19999999999999" y1="144.91" x2="79.6" y2="144.91" stroke-width="0.8"/><line x1="77.19999999999999" y1="124.36" x2="79.6" y2="124.36" stroke-width="0.8"/><line x1="77.19999999999999" y1="108.42" x2="79.6" y2="108.42" stroke-width="0.8"/><line x1="77.19999999999999" y1="95.39" x2="79.6" y2="95.39" stroke-width="0.8"/><line x1="77.19999999999999" y1="84.38" x2="79.6" y2="84.38" stroke-width="0.8"/><line x1="77.19999999999999" y1="74.84" x2="79.6" y2="74.84" stroke-width="0.8"/><line x1="77.19999999999999" y1="66.43" x2="79.6" y2="66.43" stroke-width="0.8"/><line x1="75.39999999999999" y1="58.90" x2="79.6" y2="58.90" stroke-width="1.1"/><line x1="77.19999999999999" y1="9.38" x2="79.6" y2="9.38" stroke-width="0.8"/></g>
<text x="84.20" y="407.3" font-size="14" text-anchor="end" textLength="17.0" lengthAdjust="spacingAndGlyphs">10</text>
<text x="86.60" y="402.7" font-size="10.2">1</text>
<text x="248.85" y="407.3" font-size="14" text-anchor="end" textLength="17.0" lengthAdjust="spacingAndGlyphs">10</text>
<text x="251.25" y="402.7" font-size="10.2">2</text>
<text x="413.50" y="407.3" font-size="14" text-anchor="end" textLength="17.0" lengthAdjust="spacingAndGlyphs">10</text>
<text x="415.90" y="402.7" font-size="10.2">3</text>
<text x="578.15" y="407.3" font-size="14" text-anchor="end" textLength="17.0" lengthAdjust="spacingAndGlyphs">10</text>
<text x="580.55" y="402.7" font-size="10.2">4</text>
<text x="32.0" y="393.30" font-size="14" textLength="17.0" lengthAdjust="spacingAndGlyphs">10</text>
<text x="50.8" y="388.30" font-size="10.2" textLength="20.0" lengthAdjust="spacingAndGlyphs">−17</text>
<text x="32.0" y="228.80" font-size="14" textLength="17.0" lengthAdjust="spacingAndGlyphs">10</text>
<text x="50.8" y="223.80" font-size="10.2" textLength="20.0" lengthAdjust="spacingAndGlyphs">−16</text>
<text x="32.0" y="64.30" font-size="14" textLength="17.0" lengthAdjust="spacingAndGlyphs">10</text>
<text x="50.8" y="59.30" font-size="10.2" textLength="20.0" lengthAdjust="spacingAndGlyphs">−15</text>
<text x="280.8" y="426.6" font-size="15.0" textLength="92.5" lengthAdjust="spacingAndGlyphs">Energy (keV)</text>
<text transform="rotate(-90)" x="-265.2" y="21.4" font-size="13.9" font-style="italic">ν</text><text transform="rotate(-90)" x="-257.2" y="21.4" font-size="13.9" font-style="italic">F</text><text transform="rotate(-90)" x="-248.7" y="24.6" font-size="9.7" font-style="italic">ν</text><text transform="rotate(-90)" x="-238.9" y="21.6" font-size="13.9" textLength="60.3" lengthAdjust="spacingAndGlyphs">(keV cm</text><text transform="rotate(-90)" x="-178.8" y="15.8" font-size="9.7" textLength="15.0" lengthAdjust="spacingAndGlyphs">−2</text><text transform="rotate(-90)" x="-159.4" y="21.4" font-size="13.9">s</text><text transform="rotate(-90)" x="-149.4" y="15.8" font-size="9.7" textLength="12.5" lengthAdjust="spacingAndGlyphs">−1</text><text transform="rotate(-90)" x="-135.6" y="21.4" font-size="13.9">)</text>
<rect x="85.5" y="15.4" width="142.5" height="95.19999999999999" rx="1.8" fill="#fff" fill-opacity="0.8" stroke="#cccccc" stroke-width="1"/>
<line x1="89.0" y1="25.6" x2="116.1" y2="25.6" stroke="#d62728" stroke-width="2.05" />
<text x="125.1" y="29.900000000000002" font-size="12.7" textLength="96.8" lengthAdjust="spacingAndGlyphs">Time-integrated</text>
<line x1="89.0" y1="43.9" x2="116.1" y2="43.9" stroke="#1f77b4" stroke-width="2.05" />
<text x="125.1" y="48.199999999999996" font-size="12.7" textLength="67.2" lengthAdjust="spacingAndGlyphs">Episode - 1</text>
<line x1="89.0" y1="62.2" x2="116.1" y2="62.2" stroke="#ff7f0e" stroke-width="2.05" />
<text x="125.1" y="66.5" font-size="12.7" textLength="67.2" lengthAdjust="spacingAndGlyphs">Episode - 2</text>
<line x1="89.0" y1="80.5" x2="116.1" y2="80.5" stroke="#2ca02c" stroke-width="2.05" />
<text x="125.1" y="84.8" font-size="12.7" textLength="67.2" lengthAdjust="spacingAndGlyphs">Episode - 3</text>
<line x1="89.0" y1="98.8" x2="116.1" y2="98.8" stroke="#9467bd" stroke-width="2.05" />
<text x="125.1" y="103.1" font-size="12.7" textLength="67.2" lengthAdjust="spacingAndGlyphs">Episode - 4</text>
<rect x="421.4" y="322.9" width="146.0" height="58.5" rx="1.8" fill="#fff" fill-opacity="0.8" stroke="#cccccc" stroke-width="1"/>
<line x1="425.3" y1="333.0" x2="451.5" y2="333.0" stroke="#000" stroke-width="2.6" />
<text x="460.9" y="337.7" font-size="12.7" textLength="100.5" lengthAdjust="spacingAndGlyphs">Combined Model</text>
<line x1="425.3" y1="351.2" x2="451.5" y2="351.2" stroke="#000" stroke-width="2.6" stroke-dasharray="9.3,3.9" stroke-dashoffset="-0.7"/>
<text x="460.9" y="355.9" font-size="12.7" textLength="89.6" lengthAdjust="spacingAndGlyphs">BB Component</text>
<line x1="425.3" y1="369.5" x2="451.5" y2="369.5" stroke="#000" stroke-width="2.6" stroke-dasharray="2.5,4.1" stroke-dashoffset="-0.9"/>
<text x="460.9" y="374.2" font-size="12.7" textLength="87.1" lengthAdjust="spacingAndGlyphs">PL Component</text>
</g>
</svg></body></html>
